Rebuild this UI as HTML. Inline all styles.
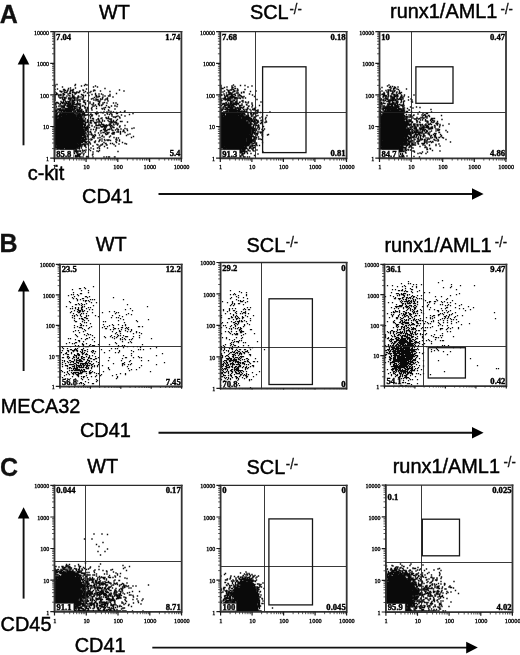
<!DOCTYPE html>
<html lang="en"><head><meta charset="utf-8"><title>Figure</title>
<style>
html,body{margin:0;padding:0;background:#fff}
svg{display:block}
text{fill:#111}
.h{font:19.9px "Liberation Sans",Arial,sans-serif;fill:#000;stroke:#000;stroke-width:.45}
.p{font:bold 25px "Liberation Sans",Arial,sans-serif;stroke:#111;stroke-width:.3}
.s{font:13.1px "Liberation Sans",Arial,sans-serif;stroke:#111;stroke-width:.3}
.q{font:bold 8.6px "Liberation Serif","Times New Roman",serif;fill:#000;stroke:#000;stroke-width:.4}
.k{font:6.3px "Liberation Serif","Times New Roman",serif;fill:#000;stroke:#000;stroke-width:.3}
.y{font-size:6px}
.d{fill:none;stroke:#0a0a0a;stroke-width:1.4;stroke-linecap:square}
.e{fill:none;stroke:#0a0a0a;stroke-width:1.25;stroke-linecap:square}
.g{fill:none;stroke:#222;stroke-width:.9}
.r{fill:none;stroke:#151515;stroke-width:1.3}
.f{fill:none;stroke:#2a2a2a;stroke-width:1.3}
.f2{fill:none;stroke:#333;stroke-width:1.8}
.t{fill:none;stroke:#1a1a1a;stroke-width:1.2}
.m{fill:none;stroke:#2a2a2a;stroke-width:.8}
.b{fill:#fff;stroke:#444;stroke-width:.4}
.a{fill:none;stroke:#111;stroke-width:1.9}
</style></head>
<body>
<svg width="520" height="655" viewBox="0 0 520 655">
<rect width="520" height="655" fill="#fff"/>
<g><path class="d" d="M57 84.5zm18.5 0zm10 0zm-30.5 .5zm32 0zm-12 .5zm9.5 0zm-29.5 .5zm26.5 0zm14 0zm-40.5 .5zm7.5 .5zm31 0zm4 0zm-27 1zm5 0zm-7 .5zm36.5 0zm-47.5 .5zm29 0zm-31.5 .5zm8.5 0zm1 0zm9 0zm-5.5 .5zm2.5 0zm2 0zm10.5 0zm11 0zm25.5 0zm-54 .5zm6.5 0zm.5 0zm11 0zm11.5 0zm-35 .5zm4 0zm3.5 0zm3 0zm2.5 0zm7 0zm13.5 0zm7 0zm23.5 0zm-63.5 .5zm1.5 0zm17.5 0zm6 0zm5.5 0zm19 0zm-55 .5zm6.5 0zm5.5 0zm3 0zm7 0zm-12.5 .5zm1.5 0zm.5 0zm6 0zm1.5 0zm2.5 0zm2 0zm.5 0zm5 0zm6 0zm-33.5 .5zm18.5 0zm1 0zm.5 0zm11 0zm-24 .5zm6 0zm.5 0zm.5 0zm5 0zm20 0zm21 0zm-59 .5zm5.5 0zm5 0zm7 0zm.5 0zm20 0zm3.5 0zm2.5 0zm-46 .5zm1 0zm4.5 0zm3.5 0zm8 0zm9 0zm10.5 0zm3.5 0zm14.5 0zm-55 .5zm4 0zm1 0zm1 0zm2.5 0zm19.5 0zm20 0zm-44.5 .5zm2.5 0zm8 0zm13.5 0zm3 0zm3.5 0zm7.5 0zm-33.5 .5zm4 0zm3 0zm2.5 0zm1.5 0zm4.5 0zm5 0zm12.5 0zm3 0zm6 0zm3.5 0zm1.5 0zm-55 .5zm8 0zm10 0zm.5 0zm4.5 0zm21.5 0zm-40.5 .5zm4 0zm9.5 0zm1 0zm.5 0zm5 0zm2 0zm2.5 0zm13 0zm1.5 0zm5 0zm10 0zm-52 .5zm3.5 0zm1.5 0zm7 0zm1.5 0zm.5 0zm19.5 0zm-39.5 .5zm5 0zm.5 0zm2 0zm3.5 0zm2.5 0zm.5 0zm1 0zm.5 0zm1.5 0zm1.5 0zm3.5 0zm1 0zm5 0zm19.5 0zm5 0zm-52.5 .5zm9.5 0zm4.5 0zm.5 0zm1 0zm3.5 0zm19 0zm-38 .5zm7.5 0zm2.5 0zm3.5 0zm2.5 0zm4 0zm7 0zm9.5 0zm4.5 0zm4.5 0zm2 0zm3.5 0zm-51 .5zm8.5 0zm6.5 0zm.5 0zm6.5 0zm3 0zm3 0zm14 0zm1 0zm3 0zm6.5 0zm-44 .5zm.5 0zm1 0zm5.5 0zm2 0zm2 0zm4 0zm1.5 0zm14 0zm4 0zm7 0zm-50 .5zm19 0zm1 0zm2 0zm3 0zm5 0zm11 0zm-32.5 .5zm6.5 0zm2 0zm.5 0zm1 0zm10.5 0zm3.5 0zm10.5 0zm2 0zm8 0zm-47 .5zm4.5 0zm2.5 0zm1 0zm4.5 0zm4 0zm2.5 0zm4 0zm15 0zm.5 0zm-36 .5zm3 0zm3.5 0zm2 0zm.5 0zm11 0zm6.5 0zm-33.5 .5zm1 0zm4 0zm.5 0zm4 0zm.5 0zm3.5 0zm4 0zm.5 0zm3 0zm7 0zm20 0zm-49.5 .5zm3 0zm5 0zm1 0zm2.5 0zm2 0zm3.5 0zm2 0zm11.5 0zm8 0zm6 0zm3.5 0zm4 0zm6.5 0zm2.5 0zm-61 .5zm3.5 0zm2 0zm2 0zm2.5 0zm1.5 0zm1 0zm1.5 0zm1.5 0zm3 0zm.5 0zm3.5 0zm1.5 0zm11 0zm8.5 0zm-42.5 .5zm13 0zm1.5 0zm2 0zm4 0zm2.5 0zm1.5 0zm13 0zm9.5 0zm-48 .5zm5 0zm8 0zm1 0zm1 0zm4 0zm1.5 0zm1.5 0zm1.5 0zm.5 0zm6.5 0zm6.5 0zm6.5 0zm19 0zm-53.5 .5zm1.5 0zm3.5 0zm.5 0zm1.5 0zm.5 0zm.5 0zm7.5 0zm16 0zm4 0zm2.5 0zm-41 .5zm3 0zm.5 0zm3 0zm3.5 0zm2 0zm4 0zm6 0zm16.5 0zm2 0zm5 0zm8.5 0zm-59 .5zm3 0zm3.5 0zm4.5 0zm.5 0zm.5 0zm1.5 0zm1.5 0zm1 0zm5 0zm3.5 0zm2 0zm10.5 0zm1 0zm17.5 0zm3.5 0zm-56 .5zm2 0zm3.5 0zm3 0zm1.5 0zm1 0zm1.5 0zm1.5 0zm.5 0zm1.5 0zm.5 0zm9 0zm12 0zm20.5 0zm-60.5 .5zm7 0zm6 0zm1.5 0zm3 0zm3 0zm3.5 0zm28 0zm-46.5 .5zm1.5 0zm1 0zm5 0zm2 0zm.5 0zm2.5 0zm4.5 0zm1.5 0zm5 0zm2 0zm4.5 0zm13.5 0zm4 0zm-54.5 .5zm13.5 0zm.5 0zm1 0zm2 0zm.5 0zm2 0zm.5 0zm2 0zm2.5 0zm5.5 0zm19 0zm-49 .5zm5.5 0zm5.5 0zm1 0zm1.5 0zm1 0zm1 0zm2 0zm2.5 0zm.5 0zm5 0zm7 0zm4 0zm5 0zm5.5 0zm-45 .5zm1.5 0zm.5 0zm1 0zm3 0zm2 0zm1 0zm.5 0zm1 0zm.5 0zm5 0zm1 0zm5.5 0zm8.5 0zm14.5 0zm12.5 0zm-56.5 .5zm1 0zm1.5 0zm4 0zm5 0zm1 0zm.5 0zm.5 0zm1 0zm.5 0zm1 0zm3 0zm1.5 0zm.5 0zm2 0zm4.5 0zm18.5 0zm-49.5 .5zm4.5 0zm3 0zm1 0zm1.5 0zm1 0zm2.5 0zm1 0zm1 0zm.5 0zm.5 0zm2 0zm.5 0zm2.5 0zm5.5 0zm10 0zm16.5 0zm-52.5 .5zm1 0zm3 0zm.5 0zm1.5 0zm1.5 0zm.5 0zm1.5 0zm.5 0zm1 0zm2 0zm1.5 0zm2.5 0zm4.5 0zm3 0zm6.5 0zm-32 .5zm.5 0zm5.5 0zm.5 0zm5 0zm1 0zm3.5 0zm.5 0zm4 0zm3 0zm1.5 0zm1 0zm.5 0zm4.5 0zm1 0zm22 0zm16 0zm-69.5 .5zm1 0zm2.5 0zm4.5 0zm.5 0zm2 0zm1 0zm2 0zm1 0zm1 0zm.5 0zm3.5 0zm2.5 0zm2 0zm.5 0zm3.5 0zm27.5 0zm13.5 0zm-63.5 .5zm3.5 0zm3.5 0zm2 0zm3.5 0zm1 0zm.5 0zm2.5 0zm.5 0zm2 0zm2.5 0zm4 0zm10.5 0zm7 0zm3 0zm6.5 0zm7 0zm-65.5 .5zm2.5 0zm4.5 0zm.5 0zm2 0zm2.5 0zm.5 0zm.5 0zm.5 0zm2 0zm.5 0zm3 0zm.5 0zm.5 0zm1.5 0zm5 0zm1 0zm18.5 0zm15.5 0zm-59 .5zm4.5 0zm2 0zm1 0zm.5 0zm.5 0zm4 0zm.5 0zm.5 0zm.5 0zm1 0zm.5 0zm.5 0zm.5 0zm2 0zm1 0zm.5 0zm2.5 0zm4 0zm12.5 0zm6.5 0zm4 0zm3.5 0zm-54.5 .5zm4.5 0zm1.5 0zm1.5 0zm.5 0zm1 0zm.5 0zm.5 0zm1 0zm.5 0zm.5 0zm.5 0zm1.5 0zm2.5 0zm1 0zm.5 0zm5 0zm.5 0zm.5 0zm2.5 0zm.5 0zm1.5 0zm11 0zm2.5 0zm18.5 0zm1 0zm15.5 0zm-76.5 .5zm3 0zm2.5 0zm.5 0zm.5 0zm2.5 0zm1.5 0zm1 0zm.5 0zm.5 0zm1 0zm1 0zm.5 0zm1.5 0zm.5 0zm2.5 0zm7.5 0zm7.5 0zm16.5 0zm4 0zm-56.5 .5zm2 0zm3 0zm.5 0zm2.5 0zm.5 0zm1 0zm1 0zm2.5 0zm1 0zm.5 0zm1 0zm1.5 0zm1.5 0zm1 0zm1.5 0zm2 0zm1 0zm1.5 0zm.5 0zm3 0zm4 0zm2.5 0zm6 0zm13 0zm2.5 0zm17.5 0zm-74.5 .5zm6.5 0zm1 0zm.5 0zm.5 0zm2 0zm4 0zm1.5 0zm.5 0zm1 0zm.5 0zm1.5 0zm1.5 0zm1.5 0zm.5 0zm1.5 0zm.5 0zm2.5 0zm1.5 0zm1 0zm1 0zm1 0zm5.5 0zm12.5 0zm16.5 0zm-66.5 .5zm1 0zm1 0zm2 0zm.5 0zm1 0zm3 0zm1 0zm.5 0zm.5 0zm.5 0zm.5 0zm1 0zm.5 0zm1.5 0zm.5 0zm.5 0zm.5 0zm.5 0zm.5 0zm.5 0zm1.5 0zm.5 0zm1 0zm9.5 0zm4 0zm2.5 0zm-36.5 .5zm.5 0zm3 0zm1 0zm1 0zm3 0zm.5 0zm1 0zm.5 0zm1.5 0zm1 0zm.5 0zm.5 0zm.5 0zm.5 0zm.5 0zm1 0zm.5 0zm1 0zm.5 0zm.5 0zm3.5 0zm.5 0zm1 0zm1 0zm1 0zm11 0zm7 0zm13 0zm6 0zm7 0zm-70 .5zm4 0zm2 0zm1.5 0zm1 0zm1 0zm1.5 0zm.5 0zm1 0zm.5 0zm.5 0zm1 0zm.5 0zm1.5 0zm.5 0zm.5 0zm.5 0zm.5 0zm.5 0zm.5 0zm1 0zm1.5 0zm.5 0zm1 0zm1 0zm.5 0zm1.5 0zm.5 0zm2 0zm32.5 0zm-61.5 .5zm.5 0zm.5 0zm1 0zm.5 0zm1.5 0zm1.5 0zm.5 0zm2.5 0zm1.5 0zm1 0zm1 0zm.5 0zm1 0zm2 0zm.5 0zm1.5 0zm.5 0zm1 0zm1 0zm.5 0zm1.5 0zm.5 0zm1 0zm.5 0zm2 0zm.5 0zm9 0zm18 0zm5 0zm1.5 0zm4.5 0zm-64.5 .5zm2 0zm2 0zm1 0zm2.5 0zm1 0zm.5 0zm1.5 0zm1 0zm.5 0zm.5 0zm.5 0zm1.5 0zm.5 0zm2 0zm.5 0zm1 0zm.5 0zm.5 0zm.5 0zm.5 0zm1 0zm.5 0zm2 0zm2 0zm1 0zm2 0zm6.5 0zm15.5 0zm9.5 0zm-60.5 .5zm.5 0zm1.5 0zm2 0zm.5 0zm.5 0zm.5 0zm.5 0zm.5 0zm.5 0zm.5 0zm1 0zm.5 0zm1 0zm.5 0zm1 0zm.5 0zm.5 0zm.5 0zm.5 0zm1 0zm.5 0zm.5 0zm2 0zm1.5 0zm1 0zm.5 0zm.5 0zm.5 0zm1 0zm1 0zm2 0zm.5 0zm.5 0zm.5 0zm8.5 0zm11.5 0zm4.5 0zm13.5 0zm-64.5 .5zm3.5 0zm.5 0zm.5 0zm.5 0zm.5 0zm.5 0zm1.5 0zm1.5 0zm.5 0zm.5 0zm.5 0zm1 0zm.5 0zm.5 0zm.5 0zm.5 0zm.5 0zm.5 0zm.5 0zm.5 0zm.5 0zm.5 0zm.5 0zm1.5 0zm.5 0zm.5 0zm.5 0zm.5 0zm.5 0zm.5 0zm1 0zm2 0zm.5 0zm1 0zm4 0zm7 0zm.5 0zm5.5 0zm2.5 0zm5.5 0zm1.5 0zm.5 0zm-52.5 .5zm1 0zm1.5 0zm1.5 0zm.5 0zm.5 0zm.5 0zm1 0zm.5 0zm.5 0zm.5 0zm.5 0zm1 0zm1 0zm.5 0zm.5 0zm1 0zm.5 0zm.5 0zm1 0zm.5 0zm.5 0zm.5 0zm.5 0zm.5 0zm.5 0zm.5 0zm.5 0zm.5 0zm2 0zm2.5 0zm.5 0zm1.5 0zm.5 0zm1 0zm10.5 0zm4.5 0zm.5 0zm11 0zm1 0zm1 0zm-56.5 .5zm1 0zm2 0zm2.5 0zm.5 0zm.5 0zm.5 0zm1 0zm.5 0zm.5 0zm.5 0zm.5 0zm1 0zm.5 0zm.5 0zm.5 0zm.5 0zm.5 0zm.5 0zm.5 0zm.5 0zm.5 0zm.5 0zm.5 0zm.5 0zm.5 0zm1 0zm.5 0zm.5 0zm.5 0zm.5 0zm.5 0zm.5 0zm1 0zm1.5 0zm.5 0zm.5 0zm1 0zm1.5 0zm28.5 0zm6.5 0zm-62.5 .5zm1.5 0zm1 0zm2 0zm.5 0zm1 0zm.5 0zm.5 0zm.5 0zm.5 0zm.5 0zm.5 0zm.5 0zm1 0zm.5 0zm.5 0zm.5 0zm.5 0zm1.5 0zm1 0zm.5 0zm1 0zm2 0zm1 0zm.5 0zm.5 0zm.5 0zm.5 0zm.5 0zm3 0zm.5 0zm4.5 0zm2.5 0zm9 0zm2 0zm.5 0zm3.5 0zm-47.5 .5zm1 0zm.5 0zm3 0zm2 0zm.5 0zm1 0zm1 0zm.5 0zm.5 0zm.5 0zm1 0zm1 0zm.5 0zm.5 0zm.5 0zm.5 0zm.5 0zm.5 0zm.5 0zm.5 0zm.5 0zm1 0zm.5 0zm.5 0zm.5 0zm1 0zm1.5 0zm1.5 0zm1.5 0zm1.5 0zm1 0zm1 0zm1.5 0zm5.5 0zm1.5 0zm16 0zm5.5 0zm3 0zm-58.5 .5zm.5 0zm.5 0zm.5 0zm.5 0zm1 0zm1.5 0zm.5 0zm1 0zm1.5 0zm1 0zm.5 0zm.5 0zm.5 0zm.5 0zm.5 0zm.5 0zm.5 0zm1 0zm.5 0zm1 0zm.5 0zm.5 0zm.5 0zm.5 0zm.5 0zm1.5 0zm1.5 0zm1.5 0zm1 0zm3 0zm7.5 0zm2.5 0zm6 0zm3 0zm2 0zm6.5 0zm.5 0zm-56.5 .5zm1 0zm3.5 0zm1 0zm1.5 0zm.5 0zm.5 0zm1 0zm.5 0zm.5 0zm1 0zm.5 0zm1 0zm.5 0zm.5 0zm.5 0zm.5 0zm1 0zm.5 0zm.5 0zm.5 0zm.5 0zm.5 0zm1.5 0zm1.5 0zm.5 0zm1.5 0zm4.5 0zm.5 0zm.5 0zm.5 0zm3.5 0zm1 0zm20.5 0zm11.5 0zm1.5 0zm-67 .5zm.5 0zm1.5 0zm2.5 0zm.5 0zm.5 0zm1 0zm.5 0zm.5 0zm.5 0zm.5 0zm.5 0zm.5 0zm.5 0zm.5 0zm1 0zm.5 0zm.5 0zm.5 0zm.5 0zm.5 0zm.5 0zm.5 0zm1 0zm.5 0zm.5 0zm.5 0zm.5 0zm.5 0zm.5 0zm.5 0zm1 0zm.5 0zm.5 0zm.5 0zm.5 0zm.5 0zm.5 0zm2 0zm1 0zm1.5 0zm2 0zm2.5 0zm9.5 0zm1.5 0zm.5 0zm1 0zm10 0zm3 0zm1 0zm1.5 0zm12 0zm-72.5 .5zm1 0zm.5 0zm.5 0zm.5 0zm.5 0zm.5 0zm1 0zm2.5 0zm.5 0zm.5 0zm.5 0zm.5 0zm.5 0zm.5 0zm.5 0zm.5 0zm.5 0zm.5 0zm.5 0zm.5 0zm.5 0zm.5 0zm.5 0zm.5 0zm.5 0zm.5 0zm.5 0zm1 0zm.5 0zm1 0zm.5 0zm.5 0zm1 0zm.5 0zm.5 0zm1 0zm2 0zm1 0zm1.5 0zm.5 0zm2.5 0zm1.5 0zm3.5 0zm4 0zm1.5 0zm5.5 0zm10 0zm.5 0zm3 0zm1.5 0zm-60.5 .5zm.5 0zm3.5 0zm.5 0zm1 0zm.5 0zm.5 0zm1 0zm.5 0zm.5 0zm.5 0zm.5 0zm.5 0zm.5 0zm.5 0zm.5 0zm.5 0zm.5 0zm.5 0zm.5 0zm.5 0zm.5 0zm.5 0zm.5 0zm.5 0zm.5 0zm1 0zm.5 0zm.5 0zm.5 0zm.5 0zm.5 0zm1 0zm1 0zm.5 0zm.5 0zm.5 0zm.5 0zm1 0zm2 0zm2.5 0zm4.5 0zm1.5 0zm3.5 0zm16 0zm5.5 0zm-61.5 .5zm.5 0zm.5 0zm1.5 0zm2 0zm2 0zm1 0zm.5 0zm.5 0zm.5 0zm.5 0zm1 0zm.5 0zm.5 0zm.5 0zm.5 0zm.5 0zm.5 0zm.5 0zm.5 0zm.5 0zm.5 0zm.5 0zm1 0zm.5 0zm.5 0zm.5 0zm.5 0zm.5 0zm.5 0zm1 0zm.5 0zm1 0zm.5 0zm1.5 0zm.5 0zm.5 0zm1.5 0zm1 0zm35 0zm-63 .5zm2 0zm1 0zm.5 0zm1 0zm.5 0zm.5 0zm.5 0zm.5 0zm.5 0zm.5 0zm.5 0zm.5 0zm.5 0zm.5 0zm.5 0zm.5 0zm.5 0zm.5 0zm.5 0zm.5 0zm.5 0zm.5 0zm.5 0zm.5 0zm.5 0zm.5 0zm.5 0zm.5 0zm1 0zm1 0zm.5 0zm1 0zm1 0zm.5 0zm1 0zm.5 0zm3 0zm.5 0zm1.5 0zm.5 0zm1.5 0zm11 0zm3 0zm2.5 0zm8 0zm1 0zm3 0zm2.5 0zm2 0zm-63 .5zm1.5 0zm.5 0zm1 0zm1.5 0zm.5 0zm.5 0zm.5 0zm.5 0zm.5 0zm1 0zm.5 0zm.5 0zm1 0zm.5 0zm.5 0zm.5 0zm.5 0zm.5 0zm.5 0zm.5 0zm.5 0zm.5 0zm.5 0zm.5 0zm.5 0zm.5 0zm.5 0zm.5 0zm1 0zm1 0zm.5 0zm.5 0zm.5 0zm.5 0zm.5 0zm.5 0zm1 0zm.5 0zm1 0zm1 0zm.5 0zm2.5 0zm.5 0zm1 0zm17 0zm1 0zm-48.5 .5zm.5 0zm.5 0zm1 0zm.5 0zm.5 0zm1 0zm.5 0zm.5 0zm1.5 0zm.5 0zm.5 0zm.5 0zm.5 0zm1 0zm.5 0zm.5 0zm.5 0zm.5 0zm.5 0zm.5 0zm.5 0zm.5 0zm.5 0zm.5 0zm.5 0zm.5 0zm.5 0zm.5 0zm.5 0zm.5 0zm.5 0zm1 0zm.5 0zm.5 0zm.5 0zm.5 0zm.5 0zm.5 0zm1 0zm.5 0zm.5 0zm1.5 0zm.5 0zm.5 0zm.5 0zm3.5 0zm3 0zm1 0zm10.5 0zm4 0zm2.5 0zm2.5 0zm5 0zm3.5 0zm-62.5 .5zm1 0zm1 0zm1 0zm1 0zm1 0zm.5 0zm.5 0zm.5 0zm.5 0zm.5 0zm.5 0zm.5 0zm.5 0zm.5 0zm.5 0zm.5 0zm1 0zm.5 0zm.5 0zm.5 0zm.5 0zm.5 0zm.5 0zm.5 0zm.5 0zm.5 0zm.5 0zm.5 0zm1 0zm.5 0zm.5 0zm.5 0zm.5 0zm1 0zm1 0zm1 0zm.5 0zm1 0zm.5 0zm1 0zm.5 0zm.5 0zm.5 0zm3 0zm2.5 0zm4 0zm4 0zm1 0zm.5 0zm1 0zm1.5 0zm.5 0zm5 0zm1 0zm1 0zm2.5 0zm1.5 0zm13.5 0zm-70 .5zm2.5 0zm.5 0zm1 0zm.5 0zm.5 0zm.5 0zm.5 0zm.5 0zm1 0zm.5 0zm.5 0zm.5 0zm.5 0zm.5 0zm.5 0zm.5 0zm.5 0zm.5 0zm.5 0zm.5 0zm.5 0zm.5 0zm.5 0zm.5 0zm.5 0zm.5 0zm.5 0zm.5 0zm.5 0zm1 0zm.5 0zm.5 0zm.5 0zm1.5 0zm.5 0zm.5 0zm1 0zm1 0zm.5 0zm1.5 0zm3 0zm7.5 0zm11.5 0zm1 0zm7.5 0zm8 0zm-65 .5zm1.5 0zm1 0zm1 0zm.5 0zm1 0zm1 0zm.5 0zm.5 0zm.5 0zm.5 0zm.5 0zm1 0zm.5 0zm.5 0zm.5 0zm.5 0zm.5 0zm.5 0zm.5 0zm.5 0zm.5 0zm.5 0zm.5 0zm.5 0zm.5 0zm.5 0zm.5 0zm.5 0zm.5 0zm.5 0zm.5 0zm.5 0zm1.5 0zm.5 0zm.5 0zm.5 0zm.5 0zm.5 0zm.5 0zm.5 0zm.5 0zm1 0zm1 0zm5.5 0zm1 0zm12.5 0zm1 0zm1 0zm2.5 0zm1 0zm13.5 0zm-65 .5zm1.5 0zm1 0zm1 0zm.5 0zm.5 0zm.5 0zm.5 0zm1 0zm.5 0zm.5 0zm.5 0zm.5 0zm.5 0zm.5 0zm.5 0zm.5 0zm.5 0zm.5 0zm.5 0zm.5 0zm.5 0zm.5 0zm.5 0zm.5 0zm.5 0zm.5 0zm.5 0zm.5 0zm.5 0zm.5 0zm.5 0zm.5 0zm.5 0zm.5 0zm1 0zm.5 0zm.5 0zm.5 0zm.5 0zm2 0zm1 0zm2 0zm1.5 0zm2.5 0zm8 0zm7 0zm1 0zm8 0zm2.5 0zm6.5 0zm-64.5 .5zm1.5 0zm.5 0zm1.5 0zm.5 0zm.5 0zm.5 0zm.5 0zm.5 0zm.5 0zm.5 0zm.5 0zm.5 0zm.5 0zm.5 0zm.5 0zm.5 0zm.5 0zm.5 0zm.5 0zm.5 0zm.5 0zm.5 0zm.5 0zm.5 0zm.5 0zm.5 0zm.5 0zm.5 0zm.5 0zm.5 0zm.5 0zm.5 0zm.5 0zm.5 0zm1.5 0zm.5 0zm.5 0zm.5 0zm.5 0zm.5 0zm.5 0zm3 0zm.5 0zm1 0zm1.5 0zm.5 0zm4.5 0zm7 0zm8 0zm1.5 0zm7.5 0zm.5 0zm-59 .5zm.5 0zm1 0zm.5 0zm2.5 0zm.5 0zm.5 0zm.5 0zm.5 0zm.5 0zm.5 0zm.5 0zm.5 0zm.5 0zm.5 0zm.5 0zm.5 0zm.5 0zm.5 0zm.5 0zm.5 0zm.5 0zm.5 0zm.5 0zm.5 0zm.5 0zm.5 0zm.5 0zm.5 0zm.5 0zm.5 0zm.5 0zm.5 0zm.5 0zm.5 0zm1 0zm.5 0zm.5 0zm.5 0zm.5 0zm1 0zm.5 0zm.5 0zm.5 0zm.5 0zm.5 0zm.5 0zm1 0zm3 0zm.5 0zm.5 0zm1 0zm9.5 0zm2 0zm12.5 0zm22.5 0zm-79 .5zm1 0zm1 0zm1.5 0zm.5 0zm1 0zm.5 0zm.5 0zm.5 0zm.5 0zm.5 0zm.5 0zm.5 0zm.5 0zm.5 0zm.5 0zm.5 0zm.5 0zm.5 0zm.5 0zm1 0zm.5 0zm.5 0zm.5 0zm.5 0zm.5 0zm.5 0zm.5 0zm.5 0zm.5 0zm.5 0zm.5 0zm.5 0zm.5 0zm.5 0zm.5 0zm.5 0zm.5 0zm.5 0zm1 0zm.5 0zm.5 0zm.5 0zm1 0zm1 0zm.5 0zm3 0zm.5 0zm1.5 0zm9.5 0zm9 0zm6 0zm5.5 0zm8 0zm7 0zm-77 .5zm1 0zm.5 0zm.5 0zm.5 0zm.5 0zm1.5 0zm1 0zm.5 0zm.5 0zm.5 0zm.5 0zm.5 0zm.5 0zm.5 0zm.5 0zm.5 0zm.5 0zm.5 0zm.5 0zm.5 0zm.5 0zm.5 0zm.5 0zm.5 0zm.5 0zm.5 0zm.5 0zm.5 0zm.5 0zm.5 0zm.5 0zm.5 0zm.5 0zm.5 0zm.5 0zm.5 0zm.5 0zm.5 0zm.5 0zm.5 0zm.5 0zm.5 0zm.5 0zm.5 0zm.5 0zm1.5 0zm2 0zm2 0zm2.5 0zm16.5 0zm6 0zm7 0zm4 0zm6 0zm-72 .5zm1 0zm1 0zm.5 0zm1 0zm.5 0zm.5 0zm.5 0zm.5 0zm.5 0zm.5 0zm.5 0zm.5 0zm.5 0zm.5 0zm.5 0zm.5 0zm.5 0zm.5 0zm.5 0zm.5 0zm.5 0zm.5 0zm.5 0zm.5 0zm.5 0zm.5 0zm.5 0zm.5 0zm1 0zm.5 0zm.5 0zm.5 0zm.5 0zm.5 0zm.5 0zm.5 0zm.5 0zm.5 0zm.5 0zm.5 0zm1.5 0zm.5 0zm.5 0zm1.5 0zm.5 0zm1.5 0zm.5 0zm2.5 0zm5 0zm2.5 0zm2.5 0zm7.5 0zm2 0zm2.5 0zm.5 0zm1 0zm9 0zm-63.5 .5zm1 0zm1 0zm.5 0zm.5 0zm.5 0zm.5 0zm1 0zm.5 0zm1 0zm.5 0zm.5 0zm.5 0zm.5 0zm.5 0zm.5 0zm.5 0zm.5 0zm.5 0zm.5 0zm.5 0zm.5 0zm.5 0zm.5 0zm.5 0zm.5 0zm.5 0zm.5 0zm.5 0zm.5 0zm.5 0zm.5 0zm.5 0zm.5 0zm.5 0zm1 0zm.5 0zm.5 0zm.5 0zm.5 0zm.5 0zm1 0zm1.5 0zm1 0zm1 0zm1 0zm.5 0zm2 0zm19 0zm7.5 0zm3.5 0zm8 0zm-68.5 .5zm2 0zm.5 0zm.5 0zm.5 0zm.5 0zm.5 0zm.5 0zm.5 0zm.5 0zm.5 0zm.5 0zm.5 0zm.5 0zm.5 0zm.5 0zm.5 0zm.5 0zm.5 0zm.5 0zm.5 0zm.5 0zm.5 0zm.5 0zm.5 0zm.5 0zm.5 0zm.5 0zm.5 0zm.5 0zm.5 0zm.5 0zm.5 0zm.5 0zm.5 0zm.5 0zm.5 0zm.5 0zm.5 0zm.5 0zm.5 0zm.5 0zm.5 0zm.5 0zm.5 0zm1 0zm.5 0zm1 0zm.5 0zm1.5 0zm.5 0zm1.5 0zm.5 0zm1.5 0zm9 0zm5.5 0zm5.5 0zm6 0zm5 0zm5.5 0zm4 0zm-72.5 .5zm.5 0zm.5 0zm1.5 0zm1 0zm1.5 0zm.5 0zm.5 0zm.5 0zm.5 0zm.5 0zm.5 0zm.5 0zm.5 0zm.5 0zm.5 0zm.5 0zm.5 0zm.5 0zm.5 0zm.5 0zm.5 0zm.5 0zm.5 0zm.5 0zm.5 0zm.5 0zm.5 0zm.5 0zm.5 0zm.5 0zm.5 0zm.5 0zm.5 0zm.5 0zm.5 0zm.5 0zm.5 0zm1 0zm.5 0zm.5 0zm.5 0zm.5 0zm3 0zm18.5 0zm5.5 0zm17.5 0zm.5 0zm-69 .5zm.5 0zm1.5 0zm.5 0zm.5 0zm.5 0zm.5 0zm1 0zm.5 0zm.5 0zm.5 0zm.5 0zm.5 0zm.5 0zm.5 0zm.5 0zm.5 0zm.5 0zm.5 0zm.5 0zm.5 0zm.5 0zm1 0zm.5 0zm.5 0zm.5 0zm.5 0zm.5 0zm.5 0zm.5 0zm.5 0zm.5 0zm.5 0zm.5 0zm.5 0zm.5 0zm.5 0zm.5 0zm.5 0zm.5 0zm.5 0zm.5 0zm.5 0zm.5 0zm.5 0zm1 0zm1.5 0zm.5 0zm1 0zm1 0zm3.5 0zm3 0zm14.5 0zm15.5 0zm2.5 0zm-68 .5zm.5 0zm.5 0zm1 0zm.5 0zm.5 0zm1 0zm1 0zm.5 0zm.5 0zm1 0zm.5 0zm.5 0zm.5 0zm.5 0zm.5 0zm.5 0zm.5 0zm.5 0zm.5 0zm.5 0zm.5 0zm.5 0zm.5 0zm.5 0zm.5 0zm.5 0zm.5 0zm1 0zm.5 0zm.5 0zm.5 0zm.5 0zm.5 0zm1 0zm1 0zm.5 0zm.5 0zm.5 0zm1 0zm.5 0zm.5 0zm.5 0zm1 0zm1 0zm.5 0zm2.5 0zm3 0zm2 0zm.5 0zm4.5 0zm22 0zm1.5 0zm-63.5 .5zm.5 0zm1 0zm1 0zm.5 0zm.5 0zm1 0zm.5 0zm.5 0zm1 0zm.5 0zm.5 0zm.5 0zm1 0zm.5 0zm.5 0zm.5 0zm.5 0zm.5 0zm.5 0zm.5 0zm.5 0zm.5 0zm.5 0zm.5 0zm.5 0zm.5 0zm.5 0zm.5 0zm.5 0zm1 0zm.5 0zm.5 0zm.5 0zm.5 0zm.5 0zm.5 0zm1 0zm.5 0zm.5 0zm1 0zm.5 0zm.5 0zm1 0zm.5 0zm1 0zm.5 0zm8 0zm12 0zm1 0zm3 0zm2 0zm4 0zm1.5 0zm6 0zm4.5 0zm-70 .5zm.5 0zm1.5 0zm.5 0zm.5 0zm.5 0zm.5 0zm.5 0zm.5 0zm.5 0zm1 0zm.5 0zm.5 0zm.5 0zm.5 0zm.5 0zm.5 0zm.5 0zm.5 0zm.5 0zm.5 0zm.5 0zm.5 0zm.5 0zm.5 0zm.5 0zm.5 0zm.5 0zm.5 0zm.5 0zm.5 0zm.5 0zm.5 0zm.5 0zm.5 0zm.5 0zm.5 0zm.5 0zm.5 0zm.5 0zm.5 0zm.5 0zm.5 0zm.5 0zm.5 0zm.5 0zm1 0zm3.5 0zm1.5 0zm1 0zm12.5 0zm2.5 0zm6.5 0zm6 0zm-58.5 .5zm.5 0zm1 0zm1 0zm.5 0zm.5 0zm.5 0zm.5 0zm.5 0zm.5 0zm.5 0zm.5 0zm1 0zm.5 0zm.5 0zm.5 0zm.5 0zm.5 0zm.5 0zm.5 0zm.5 0zm.5 0zm.5 0zm.5 0zm.5 0zm.5 0zm.5 0zm.5 0zm.5 0zm.5 0zm.5 0zm.5 0zm.5 0zm.5 0zm.5 0zm.5 0zm.5 0zm.5 0zm.5 0zm.5 0zm.5 0zm.5 0zm1.5 0zm.5 0zm1 0zm1 0zm1 0zm.5 0zm.5 0zm5.5 0zm17 0zm2.5 0zm4 0zm1 0zm-58 .5zm.5 0zm.5 0zm2 0zm.5 0zm.5 0zm.5 0zm.5 0zm.5 0zm.5 0zm.5 0zm.5 0zm.5 0zm.5 0zm.5 0zm.5 0zm.5 0zm.5 0zm.5 0zm.5 0zm.5 0zm.5 0zm.5 0zm.5 0zm.5 0zm.5 0zm.5 0zm.5 0zm.5 0zm.5 0zm.5 0zm.5 0zm.5 0zm.5 0zm.5 0zm.5 0zm1 0zm.5 0zm.5 0zm.5 0zm.5 0zm.5 0zm1 0zm.5 0zm1.5 0zm1.5 0zm2.5 0zm7 0zm16 0zm5 0zm1.5 0zm6.5 0zm9.5 0zm-75 .5zm.5 0zm.5 0zm.5 0zm1 0zm1 0zm.5 0zm.5 0zm.5 0zm.5 0zm.5 0zm.5 0zm.5 0zm.5 0zm.5 0zm.5 0zm.5 0zm.5 0zm.5 0zm.5 0zm.5 0zm.5 0zm.5 0zm.5 0zm.5 0zm.5 0zm.5 0zm.5 0zm.5 0zm.5 0zm.5 0zm.5 0zm.5 0zm.5 0zm.5 0zm.5 0zm.5 0zm.5 0zm.5 0zm.5 0zm.5 0zm1 0zm.5 0zm.5 0zm1 0zm1 0zm.5 0zm1 0zm2 0zm.5 0zm1 0zm2 0zm2 0zm2 0zm1 0zm3 0zm11 0zm.5 0zm21.5 0zm-73 .5zm2 0zm1.5 0zm.5 0zm.5 0zm.5 0zm.5 0zm.5 0zm.5 0zm.5 0zm.5 0zm.5 0zm.5 0zm.5 0zm.5 0zm.5 0zm.5 0zm.5 0zm.5 0zm.5 0zm.5 0zm.5 0zm.5 0zm.5 0zm.5 0zm.5 0zm.5 0zm.5 0zm.5 0zm.5 0zm.5 0zm.5 0zm.5 0zm.5 0zm.5 0zm.5 0zm.5 0zm.5 0zm.5 0zm.5 0zm1 0zm.5 0zm.5 0zm1.5 0zm.5 0zm1.5 0zm2.5 0zm7 0zm7.5 0zm-44.5 .5zm.5 0zm2 0zm.5 0zm.5 0zm.5 0zm.5 0zm.5 0zm1 0zm.5 0zm.5 0zm.5 0zm.5 0zm.5 0zm.5 0zm.5 0zm.5 0zm.5 0zm.5 0zm.5 0zm.5 0zm.5 0zm.5 0zm.5 0zm.5 0zm.5 0zm.5 0zm.5 0zm.5 0zm.5 0zm.5 0zm.5 0zm.5 0zm.5 0zm.5 0zm.5 0zm.5 0zm.5 0zm1 0zm.5 0zm1 0zm.5 0zm.5 0zm.5 0zm.5 0zm1 0zm.5 0zm1.5 0zm.5 0zm10 0zm2 0zm7 0zm24 0zm-71.5 .5zm1.5 0zm2 0zm.5 0zm.5 0zm.5 0zm.5 0zm.5 0zm.5 0zm.5 0zm.5 0zm.5 0zm.5 0zm.5 0zm.5 0zm.5 0zm.5 0zm.5 0zm.5 0zm.5 0zm.5 0zm.5 0zm.5 0zm.5 0zm.5 0zm.5 0zm.5 0zm.5 0zm.5 0zm.5 0zm.5 0zm.5 0zm.5 0zm.5 0zm.5 0zm.5 0zm.5 0zm.5 0zm.5 0zm1.5 0zm1.5 0zm1 0zm.5 0zm.5 0zm3 0zm.5 0zm.5 0zm2 0zm23 0zm-55.5 .5zm.5 0zm.5 0zm1.5 0zm1 0zm.5 0zm.5 0zm.5 0zm1 0zm.5 0zm.5 0zm.5 0zm.5 0zm1 0zm.5 0zm.5 0zm.5 0zm.5 0zm.5 0zm.5 0zm.5 0zm.5 0zm.5 0zm.5 0zm.5 0zm.5 0zm1 0zm.5 0zm.5 0zm.5 0zm.5 0zm1 0zm.5 0zm1 0zm.5 0zm.5 0zm.5 0zm.5 0zm.5 0zm1 0zm.5 0zm1 0zm.5 0zm.5 0zm2.5 0zm.5 0zm8.5 0zm1.5 0zm7.5 0zm31.5 0zm-78.5 .5zm2 0zm.5 0zm.5 0zm1.5 0zm.5 0zm.5 0zm.5 0zm.5 0zm.5 0zm.5 0zm.5 0zm.5 0zm.5 0zm.5 0zm.5 0zm.5 0zm.5 0zm.5 0zm.5 0zm.5 0zm.5 0zm.5 0zm.5 0zm.5 0zm.5 0zm.5 0zm.5 0zm.5 0zm.5 0zm.5 0zm.5 0zm.5 0zm.5 0zm.5 0zm.5 0zm.5 0zm.5 0zm.5 0zm.5 0zm.5 0zm.5 0zm1 0zm1 0zm1 0zm.5 0zm4.5 0zm2 0zm16 0zm5.5 0zm-54.5 .5zm1 0zm.5 0zm1.5 0zm.5 0zm1 0zm.5 0zm1 0zm.5 0zm.5 0zm1 0zm.5 0zm.5 0zm.5 0zm.5 0zm.5 0zm.5 0zm.5 0zm.5 0zm.5 0zm.5 0zm.5 0zm.5 0zm.5 0zm.5 0zm.5 0zm.5 0zm.5 0zm.5 0zm.5 0zm.5 0zm.5 0zm.5 0zm.5 0zm.5 0zm.5 0zm.5 0zm.5 0zm1.5 0zm.5 0zm1 0zm.5 0zm.5 0zm.5 0zm.5 0zm.5 0zm.5 0zm.5 0zm1 0zm1 0zm.5 0zm7 0zm7.5 0zm14 0zm17.5 0zm-76.5 .5zm2 0zm.5 0zm1 0zm1 0zm.5 0zm.5 0zm.5 0zm.5 0zm.5 0zm.5 0zm.5 0zm.5 0zm.5 0zm.5 0zm.5 0zm.5 0zm.5 0zm.5 0zm.5 0zm.5 0zm.5 0zm.5 0zm.5 0zm.5 0zm.5 0zm.5 0zm.5 0zm.5 0zm.5 0zm.5 0zm.5 0zm.5 0zm.5 0zm.5 0zm.5 0zm.5 0zm.5 0zm.5 0zm.5 0zm.5 0zm.5 0zm.5 0zm.5 0zm1 0zm.5 0zm.5 0zm1.5 0zm11.5 0zm4 0zm18.5 0zm2 0zm-63.5 .5zm2.5 0zm.5 0zm1 0zm.5 0zm.5 0zm.5 0zm.5 0zm.5 0zm.5 0zm.5 0zm.5 0zm.5 0zm.5 0zm.5 0zm.5 0zm.5 0zm.5 0zm.5 0zm.5 0zm.5 0zm.5 0zm.5 0zm.5 0zm.5 0zm.5 0zm1 0zm.5 0zm.5 0zm.5 0zm.5 0zm.5 0zm.5 0zm.5 0zm.5 0zm.5 0zm1 0zm1 0zm1 0zm2.5 0zm.5 0zm1.5 0zm.5 0zm-28.5 .5zm.5 0zm1 0zm1 0zm1.5 0zm.5 0zm.5 0zm.5 0zm.5 0zm.5 0zm.5 0zm.5 0zm.5 0zm.5 0zm.5 0zm.5 0zm.5 0zm.5 0zm.5 0zm.5 0zm.5 0zm.5 0zm.5 0zm.5 0zm.5 0zm.5 0zm.5 0zm.5 0zm.5 0zm.5 0zm.5 0zm.5 0zm.5 0zm1 0zm.5 0zm.5 0zm.5 0zm.5 0zm.5 0zm1 0zm1.5 0zm.5 0zm.5 0zm.5 0zm.5 0zm1.5 0zm.5 0zm2.5 0zm1.5 0zm4 0zm11 0zm-47 .5zm.5 0zm1.5 0zm1 0zm1.5 0zm.5 0zm.5 0zm.5 0zm.5 0zm.5 0zm.5 0zm.5 0zm.5 0zm.5 0zm.5 0zm1 0zm.5 0zm1 0zm.5 0zm.5 0zm.5 0zm.5 0zm.5 0zm.5 0zm.5 0zm.5 0zm.5 0zm.5 0zm.5 0zm.5 0zm.5 0zm.5 0zm.5 0zm.5 0zm.5 0zm.5 0zm.5 0zm2 0zm.5 0zm.5 0zm1 0zm.5 0zm1.5 0zm1.5 0zm1 0zm1 0zm3 0zm3 0zm8 0zm4.5 0zm11.5 0zm-61 .5zm2 0zm.5 0zm1 0zm.5 0zm.5 0zm.5 0zm1 0zm.5 0zm.5 0zm.5 0zm.5 0zm.5 0zm.5 0zm.5 0zm.5 0zm.5 0zm.5 0zm.5 0zm.5 0zm.5 0zm.5 0zm.5 0zm.5 0zm.5 0zm.5 0zm.5 0zm.5 0zm.5 0zm1 0zm.5 0zm.5 0zm.5 0zm.5 0zm.5 0zm.5 0zm.5 0zm.5 0zm.5 0zm1.5 0zm1 0zm.5 0zm.5 0zm3.5 0zm7 0zm9 0zm7 0zm1.5 0zm.5 0zm8 0zm2.5 0zm-63.5 .5zm.5 0zm.5 0zm.5 0zm1 0zm.5 0zm.5 0zm.5 0zm.5 0zm.5 0zm.5 0zm.5 0zm1 0zm.5 0zm.5 0zm.5 0zm.5 0zm.5 0zm.5 0zm.5 0zm.5 0zm.5 0zm.5 0zm.5 0zm.5 0zm.5 0zm.5 0zm.5 0zm.5 0zm.5 0zm.5 0zm.5 0zm.5 0zm.5 0zm.5 0zm.5 0zm.5 0zm.5 0zm.5 0zm.5 0zm.5 0zm.5 0zm.5 0zm.5 0zm.5 0zm.5 0zm.5 0zm1 0zm2 0zm1 0zm.5 0zm.5 0zm14.5 0zm5.5 0zm3 0zm2.5 0zm-55.5 .5zm1 0zm.5 0zm1 0zm.5 0zm1 0zm.5 0zm.5 0zm1 0zm.5 0zm1 0zm.5 0zm.5 0zm.5 0zm.5 0zm.5 0zm.5 0zm.5 0zm.5 0zm.5 0zm.5 0zm1 0zm.5 0zm.5 0zm.5 0zm.5 0zm.5 0zm.5 0zm.5 0zm.5 0zm.5 0zm.5 0zm.5 0zm.5 0zm.5 0zm.5 0zm.5 0zm.5 0zm1 0zm.5 0zm1 0zm1.5 0zm1.5 0zm.5 0zm1 0zm1 0zm11 0zm6.5 0zm17.5 0zm-64.5 .5zm1 0zm.5 0zm1 0zm.5 0zm.5 0zm1.5 0zm.5 0zm1 0zm.5 0zm.5 0zm.5 0zm.5 0zm.5 0zm.5 0zm.5 0zm.5 0zm.5 0zm1 0zm.5 0zm.5 0zm.5 0zm.5 0zm.5 0zm.5 0zm.5 0zm.5 0zm.5 0zm.5 0zm.5 0zm1 0zm.5 0zm1 0zm.5 0zm1.5 0zm1.5 0zm.5 0zm.5 0zm2 0zm2 0zm.5 0zm2 0zm2 0zm11 0zm17 0zm-61 .5zm.5 0zm1 0zm.5 0zm.5 0zm1.5 0zm.5 0zm1 0zm.5 0zm.5 0zm.5 0zm.5 0zm1 0zm.5 0zm.5 0zm1 0zm.5 0zm.5 0zm.5 0zm.5 0zm.5 0zm1 0zm.5 0zm.5 0zm.5 0zm.5 0zm.5 0zm.5 0zm.5 0zm.5 0zm.5 0zm.5 0zm.5 0zm1 0zm.5 0zm1 0zm1 0zm1.5 0zm2 0zm3.5 0zm4.5 0zm5 0zm-39.5 .5zm1 0zm2 0zm1 0zm1 0zm1 0zm.5 0zm.5 0zm1.5 0zm.5 0zm.5 0zm1 0zm.5 0zm.5 0zm.5 0zm.5 0zm.5 0zm.5 0zm.5 0zm.5 0zm.5 0zm.5 0zm.5 0zm.5 0zm.5 0zm1 0zm.5 0zm1 0zm.5 0zm.5 0zm1 0zm1 0zm1 0zm.5 0zm.5 0zm1 0zm.5 0zm.5 0zm1 0zm3 0zm1 0zm8.5 0zm9 0zm12.5 0zm6 0zm-67.5 .5zm1.5 0zm1 0zm.5 0zm.5 0zm.5 0zm.5 0zm.5 0zm.5 0zm.5 0zm.5 0zm.5 0zm.5 0zm.5 0zm1 0zm.5 0zm.5 0zm.5 0zm.5 0zm1 0zm.5 0zm.5 0zm.5 0zm.5 0zm.5 0zm.5 0zm.5 0zm.5 0zm.5 0zm.5 0zm.5 0zm.5 0zm.5 0zm.5 0zm.5 0zm1 0zm.5 0zm.5 0zm2 0zm11.5 0zm-35 .5zm.5 0zm2 0zm.5 0zm2.5 0zm.5 0zm.5 0zm.5 0zm.5 0zm.5 0zm.5 0zm.5 0zm.5 0zm.5 0zm.5 0zm.5 0zm.5 0zm.5 0zm.5 0zm.5 0zm.5 0zm.5 0zm.5 0zm.5 0zm.5 0zm.5 0zm1 0zm.5 0zm.5 0zm.5 0zm.5 0zm.5 0zm.5 0zm1 0zm2 0zm1 0zm1 0zm.5 0zm25 0zm.5 0zm4.5 0zm2 0zm12.5 0zm-70 .5zm.5 0zm1 0zm1 0zm1 0zm1 0zm.5 0zm.5 0zm.5 0zm.5 0zm.5 0zm.5 0zm1 0zm.5 0zm.5 0zm.5 0zm.5 0zm1 0zm.5 0zm.5 0zm.5 0zm.5 0zm.5 0zm.5 0zm.5 0zm.5 0zm.5 0zm.5 0zm.5 0zm1 0zm1 0zm.5 0zm.5 0zm1 0zm.5 0zm2.5 0zm.5 0zm.5 0zm.5 0zm3 0zm.5 0zm1 0zm2 0zm1 0zm2.5 0zm12 0zm16.5 0zm7.5 0zm-70 .5zm3 0zm.5 0zm1 0zm.5 0zm.5 0zm.5 0zm.5 0zm.5 0zm1 0zm.5 0zm.5 0zm.5 0zm.5 0zm.5 0zm.5 0zm.5 0zm.5 0zm.5 0zm.5 0zm.5 0zm.5 0zm.5 0zm1 0zm.5 0zm.5 0zm.5 0zm.5 0zm.5 0zm1 0zm.5 0zm.5 0zm1 0zm1.5 0zm.5 0zm.5 0zm2 0zm.5 0zm1 0zm13.5 0zm5.5 0zm11.5 0zm-58 .5zm2 0zm2 0zm.5 0zm1.5 0zm.5 0zm.5 0zm1 0zm.5 0zm.5 0zm.5 0zm.5 0zm.5 0zm.5 0zm.5 0zm.5 0zm.5 0zm.5 0zm.5 0zm.5 0zm.5 0zm.5 0zm.5 0zm.5 0zm.5 0zm1 0zm.5 0zm2.5 0zm1 0zm2 0zm.5 0zm.5 0zm1.5 0zm2.5 0zm.5 0zm.5 0zm12.5 0zm3 0zm.5 0zm5 0zm.5 0zm-52 .5zm3.5 0zm.5 0zm1 0zm2 0zm1.5 0zm.5 0zm1 0zm.5 0zm.5 0zm.5 0zm1 0zm.5 0zm1 0zm.5 0zm.5 0zm.5 0zm.5 0zm.5 0zm.5 0zm.5 0zm.5 0zm.5 0zm1.5 0zm1.5 0zm.5 0zm1 0zm1.5 0zm5 0zm1 0zm3 0zm-33.5 .5zm2.5 0zm.5 0zm.5 0zm.5 0zm1.5 0zm1 0zm1.5 0zm1 0zm.5 0zm1 0zm2 0zm1 0zm.5 0zm.5 0zm.5 0zm.5 0zm.5 0zm1 0zm1 0zm.5 0zm.5 0zm.5 0zm1.5 0zm.5 0zm2 0zm.5 0zm3 0zm2.5 0zm1 0zm7.5 0zm7 0zm15.5 0zm-60.5 .5zm1 0zm2.5 0zm.5 0zm1 0zm.5 0zm1.5 0zm.5 0zm1 0zm.5 0zm1.5 0zm.5 0zm.5 0zm1 0zm1 0zm1 0zm.5 0zm.5 0zm1.5 0zm.5 0zm1.5 0zm1.5 0zm1 0zm.5 0zm4 0zm23.5 0zm-48.5 .5zm2 0zm1.5 0zm.5 0zm1 0zm1.5 0zm.5 0zm1 0zm.5 0zm.5 0zm.5 0zm.5 0zm.5 0zm.5 0zm.5 0zm1.5 0zm.5 0zm.5 0zm.5 0zm2.5 0zm.5 0zm.5 0zm2.5 0zm.5 0zm.5 0zm.5 0zm1.5 0zm19.5 0zm-44 .5zm.5 0zm1 0zm1.5 0zm3 0zm3.5 0zm.5 0zm.5 0zm.5 0zm.5 0zm.5 0zm.5 0zm1 0zm.5 0zm.5 0zm.5 0zm.5 0zm.5 0zm.5 0zm.5 0zm.5 0zm1.5 0zm.5 0zm1 0zm.5 0zm1 0zm1 0zm8 0zm-29 .5zm2 0zm1.5 0zm.5 0zm1 0zm.5 0zm.5 0zm.5 0zm2 0zm1 0zm.5 0zm.5 0zm.5 0zm.5 0zm.5 0zm1 0zm.5 0zm.5 0zm2.5 0zm.5 0zm.5 0zm1 0zm.5 0zm.5 0zm3 0zm2 0zm9.5 0zm6.5 0zm10 0zm-52.5 .5zm4.5 0zm.5 0zm.5 0zm1.5 0zm.5 0zm1 0zm2.5 0zm1 0zm.5 0zm.5 0zm.5 0zm.5 0zm1 0zm1 0zm.5 0zm.5 0zm.5 0zm.5 0zm1.5 0zm.5 0zm3 0zm21.5 0zm-44.5 .5zm3 0zm4 0zm4.5 0zm.5 0zm2 0zm1 0zm.5 0zm1 0zm1.5 0zm2 0zm1 0zm3.5 0zm14 0zm-36.5 .5zm4 0zm2.5 0zm.5 0zm1.5 0zm1 0zm1.5 0zm.5 0zm.5 0zm3.5 0zm.5 0zm3 0zm13 0zm-34 .5zm2 0zm3 0zm1 0zm.5 0zm1.5 0zm2.5 0zm.5 0zm.5 0zm1.5 0zm.5 0zm1.5 0zm1.5 0zm2 0zm2.5 0zm.5 0zm6 0zm3.5 0zm-31 .5zm1.5 0zm1.5 0zm2.5 0zm1.5 0zm1 0zm1 0zm.5 0zm.5 0zm1 0zm1.5 0zm.5 0zm1 0zm.5 0zm1 0zm.5 0zm3 0zm10.5 0zm6 0zm9 0zm-44.5 .5zm1.5 0zm1 0zm4.5 0zm2.5 0zm1.5 0zm1 0zm1.5 0zm1.5 0zm2 0zm.5 0zm1 0zm2 0zm.5 0zm.5 0zm1.5 0zm1.5 0zm1 0zm2.5 0zm14 0zm-40.5 .5zm1 0zm2 0zm2 0zm1 0zm3 0zm1 0zm.5 0zm1.5 0zm1 0zm.5 0zm.5 0zm.5 0zm.5 0zm.5 0zm3.5 0zm.5 0zm4.5 0zm2.5 0zm15.5 0zm19.5 0zm-62.5 .5zm4.5 0zm.5 0zm.5 0zm1.5 0zm.5 0zm4 0zm.5 0zm.5 0zm1.5 0zm1 0zm2.5 0zm.5 0zm.5 0zm3 0zm.5 0zm.5 0zm7.5 0zm7.5 0zm-38 .5zm4.5 0zm3 0zm2 0zm1.5 0zm.5 0zm.5 0zm1 0zm1.5 0zm2.5 0zm1.5 0zm.5 0zm2.5 0zm-21.5 .5zm2 0zm2 0zm.5 0zm2.5 0zm2.5 0zm1 0zm1.5 0zm.5 0zm4.5 0zm5 0zm5 0zm-27 .5zm6 0zm2.5 0zm3 0zm.5 0zm1 0zm2 0zm4.5 0zm9.5 0zm-28 .5zm2 0zm5.5 0zm.5 0zm.5 0zm2 0zm.5 0zm.5 0zm1 0zm2.5 0zm6.5 0zm1 0zm1 0zm1 0zm12.5 0zm-33 .5zm1.5 0zm1.5 0zm5 0zm1 0zm9 0zm2 0zm-22.5 .5zm3.5 0zm3 0zm.5 0zm1 0zm1 0zm.5 0zm2 0zm8.5 0zm6 0zm9 0zm-36.5 .5zm10.5 0zm1 0zm1 0zm1 0zm.5 0zm3 0zm2.5 0zm.5 0zm2.5 0zm-21.5 .5zm14.5 0zm.5 0zm7.5 0zm-21 .5zm1 0zm3.5 0zm1 0zm5 0zm4.5 0zm3 0zm.5 0zm.5 0zm.5 0zm9 0zm-32 .5zm2 0zm1.5 0zm3 0zm.5 0zm1.5 0zm.5 0zm1 0zm.5 0zm.5 0zm.5 0zm1 0zm.5 0zm.5 0zm.5 0zm.5 0zm1.5 0zm.5 0zm.5 0zm1 0zm2.5 0zm.5 0zm.5 0zm.5 0zm2.5 0zm1.5 0zm2 0zm3.5 0zm1 0zm1 0zm4.5 0zm11 0zm2.5 0zm2 0zm1 0zm5 0zm.5 0z"/><path class="g" d="M88.5 31.7V158.1M54.4 112.5H181.3"/><path class="f" d="M53.5 31.7H182.3"/><path class="f2" d="M54.4 31.1V158.3H181.4V31.1"/><path class="t" d="M54.4 158.1h-4.2M54.4 158.1v3.8M54.4 126.5h-4.2M86.1 158.1v3.8M54.4 94.9h-4.2M117.8 158.1v3.8M54.4 63.3h-4.2M149.6 158.1v3.8M54.4 31.7h-4.2M181.3 158.1v3.8"/><path class="m" d="M54.4 148.6h-2.4M64 158.1v2.5M54.4 143h-2.4M69.5 158.1v2.5M54.4 139.1h-2.4M73.5 158.1v2.5M54.4 136h-2.4M76.6 158.1v2.5M54.4 133.5h-2.4M79.1 158.1v2.5M54.4 131.4h-2.4M81.2 158.1v2.5M54.4 129.6h-2.4M83.1 158.1v2.5M54.4 127.9h-2.4M84.7 158.1v2.5M54.4 117h-2.4M95.7 158.1v2.5M54.4 111.4h-2.4M101.3 158.1v2.5M54.4 107.5h-2.4M105.2 158.1v2.5M54.4 104.4h-2.4M108.3 158.1v2.5M54.4 101.9h-2.4M110.8 158.1v2.5M54.4 99.8h-2.4M112.9 158.1v2.5M54.4 98h-2.4M114.8 158.1v2.5M54.4 96.3h-2.4M116.4 158.1v2.5M54.4 85.4h-2.4M127.4 158.1v2.5M54.4 79.8h-2.4M133 158.1v2.5M54.4 75.9h-2.4M137 158.1v2.5M54.4 72.8h-2.4M140 158.1v2.5M54.4 70.3h-2.4M142.5 158.1v2.5M54.4 68.2h-2.4M144.7 158.1v2.5M54.4 66.4h-2.4M146.5 158.1v2.5M54.4 64.7h-2.4M148.1 158.1v2.5M54.4 53.8h-2.4M159.1 158.1v2.5M54.4 48.2h-2.4M164.7 158.1v2.5M54.4 44.3h-2.4M168.7 158.1v2.5M54.4 41.2h-2.4M171.7 158.1v2.5M54.4 38.7h-2.4M174.3 158.1v2.5M54.4 36.6h-2.4M176.4 158.1v2.5M54.4 34.8h-2.4M178.2 158.1v2.5M54.4 33.1h-2.4M179.8 158.1v2.5"/><text class="k y" text-anchor="end" x="49.1" y="160.9">1</text><text class="k y" text-anchor="end" x="49.1" y="129.3">10</text><text class="k y" text-anchor="end" x="49.1" y="97.7">100</text><text class="k y" text-anchor="end" x="49.1" y="66.1">1000</text><text class="k y" text-anchor="end" x="49.1" y="34.5">10000</text><text class="k" text-anchor="middle" x="54.7" y="168.9">1</text><text class="k" text-anchor="middle" x="86.4" y="168.9">10</text><text class="k" text-anchor="middle" x="118.1" y="168.9">100</text><text class="k" text-anchor="middle" x="149.9" y="168.9">1000</text><text class="k" text-anchor="middle" x="181.6" y="168.9">10000</text><rect class="b" x="55.3" y="149.9" width="18.3" height="7.3"/><text class="q" x="56.1" y="39.7">7.04</text><text class="q" text-anchor="end" x="180.4" y="39.7">1.74</text><text class="q" x="56.3" y="156.5">85.8</text><text class="q" text-anchor="end" x="180.4" y="156.4">5.4</text></g>
<g><path class="d" d="M233.5 85zm-12.5 .5zm19.5 0zm4.5 0zm-24 .5zm11 0zm20 0zm-31 .5zm14 0zm-8 .5zm5 0zm16 0zm-23.5 .5zm8.5 0zm-12 .5zm11 0zm-10 .5zm1 0zm12 0zm.5 0zm2 .5zm-10.5 .5zm5 0zm1.5 0zm11.5 0zm-24 .5zm9.5 0zm1 0zm6.5 0zm-10 .5zm1 0zm5 0zm4 0zm-13.5 .5zm10.5 0zm2 0zm19 0zm-35 .5zm13 0zm.5 0zm16 0zm-27.5 .5zm5.5 0zm.5 0zm4 0zm10.5 0zm.5 0zm-23 .5zm8.5 0zm.5 0zm8 0zm3.5 0zm2.5 0zm-17.5 .5zm2.5 0zm1 0zm.5 0zm1.5 0zm4.5 0zm5 0zm-17.5 1zm5 0zm1 0zm1.5 0zm3.5 0zm3 0zm11.5 0zm-28.5 .5zm8 0zm1 0zm3 0zm1.5 0zm5 0zm-17.5 .5zm4.5 0zm.5 0zm1 0zm3.5 0zm21 0zm-31.5 .5zm3.5 0zm11 0zm5 0zm-14 .5zm1 0zm4.5 0zm.5 0zm5.5 0zm1 0zm2 0zm-16 .5zm2.5 0zm2.5 0zm1 0zm2 0zm1 0zm7.5 0zm2.5 0zm10.5 0zm-26.5 .5zm2 0zm2 0zm10 0zm.5 0zm-17 .5zm2.5 0zm2.5 0zm.5 0zm3 0zm.5 0zm1 0zm.5 0zm-11.5 .5zm5 0zm3 0zm2 0zm.5 0zm.5 0zm1.5 0zm1 0zm1.5 0zm.5 0zm3 0zm2.5 0zm-24.5 .5zm2 0zm5 0zm.5 0zm2.5 0zm4.5 0zm5 0zm-15 .5zm1.5 0zm4 0zm4 0zm2 0zm-13 .5zm2 0zm4 0zm27 0zm-36 .5zm4.5 0zm3 0zm4.5 0zm4 0zm-15 .5zm5.5 0zm.5 0zm1.5 0zm.5 0zm4 0zm.5 0zm8.5 0zm-22 .5zm6.5 0zm3 0zm.5 0zm6 0zm5 0zm-21 .5zm10 0zm.5 0zm.5 0zm4 0zm-3.5 .5zm.5 0zm4 0zm3 0zm3 0zm2.5 0zm3 0zm12.5 0zm-40 .5zm5 0zm4.5 0zm5 0zm.5 0zm3.5 0zm6.5 0zm-25 .5zm5.5 0zm2 0zm2.5 0zm4 0zm1.5 0zm.5 0zm11 0zm4 0zm-31 .5zm2 0zm1.5 0zm7 0zm2 0zm.5 0zm4 0zm-14.5 .5zm1.5 0zm5 0zm1 0zm1.5 0zm1 0zm.5 0zm3 0zm1.5 0zm3.5 0zm10 0zm-29.5 .5zm4.5 0zm1 0zm2 0zm5 0zm.5 0zm11 0zm-20 .5zm1.5 0zm.5 0zm4 0zm4 0zm10.5 0zm-25.5 .5zm3 0zm.5 0zm1 0zm3.5 0zm.5 0zm1.5 0zm1.5 0zm.5 0zm6 0zm1 0zm1.5 0zm10.5 0zm7 0zm-38.5 .5zm7.5 0zm3.5 0zm7.5 0zm9.5 0zm-21 .5zm3 0zm1 0zm2 0zm6 0zm4 0zm4.5 0zm-25 .5zm1.5 0zm4 0zm.5 0zm2 0zm2 0zm1.5 0zm17 0zm-29 .5zm3 0zm2 0zm1 0zm2.5 0zm6 0zm4 0zm2 0zm12 0zm-34.5 .5zm2 0zm3.5 0zm4 0zm2 0zm3 0zm1 0zm.5 0zm.5 0zm.5 0zm.5 0zm.5 0zm1.5 0zm2 0zm5 0zm-26.5 .5zm6.5 0zm3 0zm1 0zm4 0zm2.5 0zm10 0zm6.5 0zm-33.5 .5zm3 0zm2 0zm1.5 0zm2.5 0zm.5 0zm.5 0zm1 0zm.5 0zm1.5 0zm1.5 0zm.5 0zm3 0zm1.5 0zm7 0zm5.5 0zm-32 .5zm1.5 0zm3 0zm2 0zm1 0zm2 0zm1.5 0zm.5 0zm3 0zm.5 0zm2.5 0zm.5 0zm.5 0zm1 0zm3 0zm.5 0zm2 0zm4 0zm2.5 0zm2.5 0zm-34 .5zm1.5 0zm6 0zm.5 0zm.5 0zm2.5 0zm.5 0zm.5 0zm1 0zm.5 0zm1 0zm1 0zm10.5 0zm7 0zm4 0zm-37 .5zm.5 0zm5.5 0zm2.5 0zm.5 0zm1 0zm.5 0zm.5 0zm1.5 0zm1 0zm1 0zm2 0zm.5 0zm1.5 0zm16.5 0zm-29 .5zm2.5 0zm.5 0zm1 0zm.5 0zm1.5 0zm3 0zm.5 0zm1.5 0zm.5 0zm3.5 0zm2.5 0zm6.5 0zm6 0zm1 0zm-37 .5zm5 0zm1 0zm.5 0zm3 0zm.5 0zm2 0zm1.5 0zm2 0zm3 0zm.5 0zm1.5 0zm2 0zm1.5 0zm1.5 0zm-23 .5zm1 0zm1 0zm3 0zm4 0zm1 0zm1.5 0zm1 0zm.5 0zm2 0zm.5 0zm1 0zm.5 0zm6.5 0zm11 0zm12 0zm-49 .5zm2.5 0zm.5 0zm4 0zm.5 0zm.5 0zm1.5 0zm1 0zm.5 0zm.5 0zm.5 0zm.5 0zm.5 0zm4 0zm1 0zm.5 0zm2 0zm.5 0zm.5 0zm.5 0zm5 0zm7 0zm5.5 0zm-39.5 .5zm1 0zm1 0zm2 0zm1 0zm1 0zm2 0zm.5 0zm1 0zm.5 0zm1 0zm1.5 0zm1.5 0zm.5 0zm3 0zm1.5 0zm2.5 0zm1 0zm7 0zm1 0zm2 0zm4 0zm-36.5 .5zm.5 0zm1 0zm1 0zm1 0zm2.5 0zm1 0zm1 0zm.5 0zm1.5 0zm2 0zm.5 0zm.5 0zm2.5 0zm1 0zm1 0zm.5 0zm1 0zm.5 0zm.5 0zm1.5 0zm2 0zm10.5 0zm1 0zm-35 .5zm2 0zm1 0zm2.5 0zm1 0zm.5 0zm3 0zm2 0zm1 0zm.5 0zm1 0zm1 0zm.5 0zm1 0zm.5 0zm4 0zm1.5 0zm4 0zm3.5 0zm2 0zm2 0zm-34 .5zm1.5 0zm4.5 0zm2.5 0zm.5 0zm.5 0zm.5 0zm1.5 0zm.5 0zm.5 0zm.5 0zm.5 0zm1.5 0zm1 0zm.5 0zm2 0zm1.5 0zm.5 0zm3 0zm6 0zm-30 .5zm.5 0zm1.5 0zm.5 0zm1 0zm2 0zm1 0zm.5 0zm.5 0zm1 0zm1.5 0zm.5 0zm1 0zm.5 0zm.5 0zm.5 0zm.5 0zm.5 0zm4.5 0zm.5 0zm2 0zm.5 0zm1.5 0zm9 0zm-32 .5zm2 0zm.5 0zm.5 0zm.5 0zm2.5 0zm1.5 0zm1 0zm1 0zm1 0zm.5 0zm.5 0zm1 0zm.5 0zm.5 0zm1.5 0zm.5 0zm.5 0zm.5 0zm.5 0zm1.5 0zm1.5 0zm6 0zm1.5 0zm9.5 0zm9 0zm-46 .5zm.5 0zm.5 0zm2 0zm.5 0zm.5 0zm.5 0zm.5 0zm.5 0zm.5 0zm1 0zm1 0zm.5 0zm.5 0zm.5 0zm.5 0zm.5 0zm.5 0zm1 0zm.5 0zm.5 0zm.5 0zm.5 0zm1 0zm.5 0zm3 0zm.5 0zm1.5 0zm2.5 0zm2 0zm1 0zm1.5 0zm3 0zm5 0zm-35.5 .5zm1.5 0zm2.5 0zm.5 0zm.5 0zm.5 0zm1 0zm1 0zm.5 0zm.5 0zm.5 0zm.5 0zm.5 0zm.5 0zm2 0zm1 0zm.5 0zm.5 0zm.5 0zm.5 0zm.5 0zm1 0zm2 0zm1 0zm2 0zm1 0zm2 0zm1 0zm.5 0zm4.5 0zm-31 .5zm.5 0zm1 0zm1.5 0zm1 0zm1.5 0zm.5 0zm.5 0zm1 0zm.5 0zm.5 0zm.5 0zm.5 0zm1.5 0zm.5 0zm.5 0zm.5 0zm.5 0zm.5 0zm1 0zm.5 0zm.5 0zm.5 0zm.5 0zm.5 0zm.5 0zm2 0zm1 0zm.5 0zm1 0zm2 0zm9 0zm1.5 0zm6.5 0zm-41 .5zm1 0zm.5 0zm2.5 0zm.5 0zm.5 0zm1 0zm1.5 0zm1 0zm.5 0zm.5 0zm1 0zm1 0zm.5 0zm.5 0zm.5 0zm.5 0zm.5 0zm1 0zm.5 0zm.5 0zm.5 0zm1.5 0zm1 0zm3 0zm1.5 0zm1 0zm.5 0zm2.5 0zm.5 0zm1 0zm4.5 0zm11.5 0zm-45 .5zm.5 0zm2 0zm.5 0zm1.5 0zm1.5 0zm.5 0zm1.5 0zm.5 0zm.5 0zm.5 0zm.5 0zm.5 0zm.5 0zm.5 0zm.5 0zm1 0zm.5 0zm.5 0zm.5 0zm.5 0zm.5 0zm1 0zm.5 0zm1 0zm1.5 0zm2.5 0zm.5 0zm1.5 0zm.5 0zm1 0zm1 0zm12.5 0zm-39 .5zm1.5 0zm2 0zm.5 0zm1 0zm1 0zm.5 0zm.5 0zm.5 0zm.5 0zm.5 0zm1 0zm.5 0zm.5 0zm.5 0zm1 0zm.5 0zm.5 0zm.5 0zm.5 0zm.5 0zm.5 0zm.5 0zm.5 0zm.5 0zm.5 0zm1 0zm1 0zm.5 0zm2 0zm1 0zm.5 0zm1.5 0zm.5 0zm.5 0zm.5 0zm.5 0zm1.5 0zm1 0zm1 0zm.5 0zm2.5 0zm-33 .5zm1 0zm1.5 0zm.5 0zm1.5 0zm.5 0zm1 0zm1.5 0zm.5 0zm1 0zm.5 0zm.5 0zm.5 0zm1 0zm.5 0zm.5 0zm.5 0zm1 0zm.5 0zm.5 0zm.5 0zm.5 0zm.5 0zm.5 0zm.5 0zm1.5 0zm1 0zm.5 0zm2.5 0zm.5 0zm.5 0zm2 0zm1 0zm5.5 0zm12 0zm-44.5 .5zm.5 0zm1 0zm.5 0zm.5 0zm.5 0zm1 0zm1 0zm.5 0zm.5 0zm.5 0zm1 0zm.5 0zm.5 0zm1 0zm.5 0zm.5 0zm.5 0zm.5 0zm1 0zm.5 0zm1 0zm.5 0zm.5 0zm.5 0zm1 0zm.5 0zm1 0zm.5 0zm.5 0zm.5 0zm1 0zm1 0zm1 0zm1 0zm.5 0zm1 0zm1.5 0zm1 0zm2 0zm5.5 0zm-35 .5zm3.5 0zm1 0zm.5 0zm.5 0zm.5 0zm.5 0zm1 0zm.5 0zm1 0zm.5 0zm.5 0zm.5 0zm.5 0zm.5 0zm.5 0zm.5 0zm.5 0zm.5 0zm.5 0zm.5 0zm.5 0zm.5 0zm1 0zm1 0zm1 0zm2.5 0zm1.5 0zm5.5 0zm2.5 0zm1 0zm2 0zm2 0zm6 0zm-41.5 .5zm1.5 0zm.5 0zm1 0zm.5 0zm.5 0zm.5 0zm.5 0zm.5 0zm.5 0zm.5 0zm.5 0zm.5 0zm.5 0zm1.5 0zm.5 0zm.5 0zm.5 0zm.5 0zm.5 0zm.5 0zm.5 0zm.5 0zm1.5 0zm.5 0zm.5 0zm.5 0zm.5 0zm.5 0zm.5 0zm.5 0zm.5 0zm1 0zm1.5 0zm.5 0zm1 0zm.5 0zm.5 0zm.5 0zm.5 0zm2 0zm2 0zm6.5 0zm1.5 0zm3 0zm-40 .5zm.5 0zm1 0zm1 0zm.5 0zm1 0zm.5 0zm.5 0zm.5 0zm1 0zm1.5 0zm.5 0zm.5 0zm.5 0zm.5 0zm.5 0zm.5 0zm.5 0zm.5 0zm.5 0zm.5 0zm.5 0zm.5 0zm.5 0zm.5 0zm.5 0zm.5 0zm.5 0zm.5 0zm.5 0zm.5 0zm1 0zm.5 0zm3.5 0zm.5 0zm1.5 0zm2 0zm3.5 0zm1.5 0zm1.5 0zm11.5 0zm-45 .5zm2 0zm.5 0zm.5 0zm1 0zm.5 0zm1 0zm1.5 0zm.5 0zm1 0zm.5 0zm.5 0zm.5 0zm.5 0zm.5 0zm.5 0zm.5 0zm.5 0zm.5 0zm1 0zm.5 0zm.5 0zm1 0zm.5 0zm.5 0zm.5 0zm.5 0zm.5 0zm.5 0zm.5 0zm1.5 0zm.5 0zm1.5 0zm.5 0zm1.5 0zm3.5 0zm2 0zm.5 0zm1.5 0zm.5 0zm3.5 0zm5 0zm-41.5 .5zm.5 0zm1 0zm1.5 0zm1.5 0zm1 0zm.5 0zm.5 0zm.5 0zm.5 0zm.5 0zm.5 0zm.5 0zm.5 0zm.5 0zm.5 0zm.5 0zm.5 0zm.5 0zm.5 0zm.5 0zm.5 0zm.5 0zm.5 0zm.5 0zm.5 0zm.5 0zm1 0zm1.5 0zm.5 0zm1 0zm.5 0zm.5 0zm1 0zm.5 0zm2 0zm2 0zm.5 0zm1.5 0zm1.5 0zm4.5 0zm3 0zm8 0zm-45.5 .5zm.5 0zm1.5 0zm.5 0zm1 0zm1 0zm1 0zm.5 0zm.5 0zm.5 0zm.5 0zm.5 0zm.5 0zm1.5 0zm.5 0zm.5 0zm.5 0zm.5 0zm.5 0zm.5 0zm.5 0zm1.5 0zm.5 0zm.5 0zm.5 0zm.5 0zm.5 0zm1 0zm.5 0zm.5 0zm1.5 0zm.5 0zm.5 0zm.5 0zm1 0zm2.5 0zm1 0zm6 0zm1.5 0zm6 0zm3.5 0zm-43 .5zm.5 0zm.5 0zm.5 0zm.5 0zm.5 0zm.5 0zm.5 0zm1 0zm.5 0zm.5 0zm1 0zm.5 0zm.5 0zm.5 0zm1 0zm.5 0zm.5 0zm.5 0zm.5 0zm.5 0zm.5 0zm.5 0zm.5 0zm.5 0zm.5 0zm.5 0zm.5 0zm.5 0zm.5 0zm.5 0zm.5 0zm.5 0zm.5 0zm.5 0zm.5 0zm.5 0zm.5 0zm.5 0zm.5 0zm.5 0zm.5 0zm1.5 0zm1 0zm1 0zm.5 0zm2.5 0zm.5 0zm4.5 0zm1 0zm1 0zm-36.5 .5zm1 0zm.5 0zm.5 0zm.5 0zm.5 0zm.5 0zm.5 0zm.5 0zm.5 0zm.5 0zm.5 0zm.5 0zm1 0zm.5 0zm.5 0zm.5 0zm.5 0zm.5 0zm.5 0zm.5 0zm.5 0zm.5 0zm.5 0zm1 0zm.5 0zm.5 0zm.5 0zm.5 0zm.5 0zm.5 0zm.5 0zm1.5 0zm.5 0zm.5 0zm.5 0zm.5 0zm.5 0zm.5 0zm.5 0zm.5 0zm1 0zm.5 0zm.5 0zm.5 0zm.5 0zm1 0zm7 0zm1.5 0zm4.5 0zm.5 0zm-40 .5zm1.5 0zm1 0zm1 0zm.5 0zm1 0zm.5 0zm.5 0zm.5 0zm.5 0zm.5 0zm.5 0zm.5 0zm.5 0zm.5 0zm.5 0zm.5 0zm.5 0zm.5 0zm.5 0zm.5 0zm.5 0zm.5 0zm.5 0zm.5 0zm.5 0zm.5 0zm1 0zm.5 0zm.5 0zm1 0zm.5 0zm.5 0zm1 0zm.5 0zm.5 0zm.5 0zm1.5 0zm.5 0zm.5 0zm.5 0zm.5 0zm1 0zm.5 0zm1.5 0zm.5 0zm.5 0zm1 0zm.5 0zm4 0zm-35 .5zm.5 0zm.5 0zm.5 0zm1.5 0zm1 0zm.5 0zm.5 0zm.5 0zm.5 0zm.5 0zm.5 0zm1 0zm.5 0zm.5 0zm.5 0zm.5 0zm.5 0zm.5 0zm.5 0zm.5 0zm.5 0zm.5 0zm.5 0zm.5 0zm.5 0zm.5 0zm.5 0zm.5 0zm1 0zm.5 0zm.5 0zm.5 0zm.5 0zm.5 0zm.5 0zm1.5 0zm.5 0zm.5 0zm.5 0zm1 0zm.5 0zm.5 0zm2.5 0zm7.5 0zm-35 .5zm.5 0zm.5 0zm.5 0zm1 0zm.5 0zm2 0zm.5 0zm.5 0zm.5 0zm.5 0zm.5 0zm.5 0zm.5 0zm.5 0zm.5 0zm1 0zm.5 0zm.5 0zm.5 0zm.5 0zm.5 0zm.5 0zm.5 0zm.5 0zm.5 0zm.5 0zm.5 0zm.5 0zm.5 0zm1.5 0zm.5 0zm.5 0zm1.5 0zm.5 0zm.5 0zm.5 0zm1 0zm1 0zm2 0zm2.5 0zm1 0zm2.5 0zm1.5 0zm3.5 0zm-37.5 .5zm.5 0zm2 0zm1 0zm.5 0zm.5 0zm.5 0zm.5 0zm.5 0zm.5 0zm.5 0zm.5 0zm.5 0zm.5 0zm.5 0zm.5 0zm.5 0zm.5 0zm.5 0zm.5 0zm.5 0zm.5 0zm.5 0zm.5 0zm.5 0zm.5 0zm.5 0zm.5 0zm.5 0zm.5 0zm1 0zm.5 0zm.5 0zm.5 0zm.5 0zm.5 0zm.5 0zm1 0zm.5 0zm.5 0zm2 0zm.5 0zm.5 0zm9 0zm.5 0zm1 0zm-36 .5zm.5 0zm.5 0zm.5 0zm.5 0zm.5 0zm1.5 0zm.5 0zm.5 0zm.5 0zm.5 0zm.5 0zm.5 0zm.5 0zm.5 0zm.5 0zm.5 0zm.5 0zm.5 0zm.5 0zm.5 0zm.5 0zm.5 0zm.5 0zm.5 0zm.5 0zm.5 0zm.5 0zm.5 0zm.5 0zm.5 0zm.5 0zm.5 0zm.5 0zm.5 0zm.5 0zm.5 0zm.5 0zm.5 0zm.5 0zm.5 0zm.5 0zm.5 0zm.5 0zm.5 0zm.5 0zm1 0zm3 0zm.5 0zm1 0zm.5 0zm8.5 0zm-38 .5zm.5 0zm1.5 0zm.5 0zm1 0zm1 0zm.5 0zm.5 0zm.5 0zm.5 0zm.5 0zm.5 0zm.5 0zm1 0zm.5 0zm.5 0zm.5 0zm.5 0zm.5 0zm.5 0zm.5 0zm.5 0zm.5 0zm.5 0zm.5 0zm.5 0zm.5 0zm.5 0zm.5 0zm.5 0zm.5 0zm.5 0zm.5 0zm.5 0zm.5 0zm.5 0zm.5 0zm.5 0zm.5 0zm.5 0zm.5 0zm1.5 0zm.5 0zm.5 0zm.5 0zm.5 0zm.5 0zm.5 0zm1 0zm.5 0zm.5 0zm.5 0zm3 0zm5 0zm5 0zm-42.5 .5zm1 0zm.5 0zm.5 0zm1.5 0zm.5 0zm.5 0zm.5 0zm.5 0zm.5 0zm.5 0zm.5 0zm.5 0zm.5 0zm.5 0zm.5 0zm.5 0zm.5 0zm.5 0zm1 0zm.5 0zm.5 0zm.5 0zm.5 0zm.5 0zm.5 0zm.5 0zm.5 0zm.5 0zm.5 0zm.5 0zm.5 0zm.5 0zm.5 0zm.5 0zm.5 0zm.5 0zm.5 0zm.5 0zm1 0zm.5 0zm1 0zm.5 0zm.5 0zm1.5 0zm1 0zm1.5 0zm.5 0zm1.5 0zm.5 0zm1.5 0zm4.5 0zm-37 .5zm1.5 0zm1.5 0zm.5 0zm.5 0zm1 0zm.5 0zm.5 0zm.5 0zm.5 0zm.5 0zm.5 0zm.5 0zm.5 0zm.5 0zm.5 0zm.5 0zm.5 0zm.5 0zm.5 0zm.5 0zm.5 0zm.5 0zm.5 0zm.5 0zm.5 0zm.5 0zm.5 0zm.5 0zm.5 0zm.5 0zm.5 0zm1 0zm.5 0zm.5 0zm.5 0zm.5 0zm.5 0zm2 0zm1 0zm.5 0zm.5 0zm1.5 0zm1 0zm.5 0zm2.5 0zm1.5 0zm4.5 0zm-37 .5zm1 0zm.5 0zm.5 0zm.5 0zm.5 0zm.5 0zm.5 0zm1 0zm.5 0zm.5 0zm.5 0zm.5 0zm1 0zm.5 0zm.5 0zm.5 0zm.5 0zm.5 0zm.5 0zm.5 0zm.5 0zm.5 0zm.5 0zm1 0zm.5 0zm.5 0zm.5 0zm.5 0zm.5 0zm.5 0zm.5 0zm.5 0zm.5 0zm.5 0zm.5 0zm.5 0zm.5 0zm.5 0zm1 0zm1 0zm.5 0zm.5 0zm1 0zm2 0zm.5 0zm1 0zm.5 0zm.5 0zm1 0zm.5 0zm7.5 0zm-38.5 .5zm1 0zm.5 0zm1 0zm1.5 0zm.5 0zm.5 0zm.5 0zm1 0zm.5 0zm.5 0zm.5 0zm.5 0zm.5 0zm.5 0zm.5 0zm.5 0zm.5 0zm.5 0zm1 0zm.5 0zm.5 0zm.5 0zm.5 0zm.5 0zm.5 0zm.5 0zm.5 0zm.5 0zm.5 0zm.5 0zm.5 0zm1 0zm.5 0zm.5 0zm.5 0zm1 0zm1.5 0zm1.5 0zm.5 0zm1 0zm1.5 0zm.5 0zm.5 0zm1.5 0zm.5 0zm.5 0zm2 0zm.5 0zm2 0zm-36 .5zm.5 0zm.5 0zm1 0zm.5 0zm.5 0zm.5 0zm.5 0zm.5 0zm.5 0zm.5 0zm.5 0zm.5 0zm.5 0zm.5 0zm.5 0zm.5 0zm.5 0zm.5 0zm.5 0zm.5 0zm.5 0zm.5 0zm.5 0zm.5 0zm.5 0zm.5 0zm.5 0zm.5 0zm1 0zm.5 0zm.5 0zm.5 0zm.5 0zm.5 0zm.5 0zm.5 0zm.5 0zm.5 0zm.5 0zm.5 0zm1 0zm1 0zm.5 0zm1 0zm.5 0zm.5 0zm1.5 0zm1.5 0zm.5 0zm1 0zm1.5 0zm.5 0zm11.5 0zm-43.5 .5zm.5 0zm.5 0zm.5 0zm.5 0zm.5 0zm.5 0zm.5 0zm.5 0zm.5 0zm1 0zm.5 0zm.5 0zm.5 0zm.5 0zm.5 0zm.5 0zm.5 0zm.5 0zm.5 0zm.5 0zm.5 0zm.5 0zm.5 0zm.5 0zm.5 0zm.5 0zm.5 0zm.5 0zm1 0zm.5 0zm.5 0zm1 0zm.5 0zm.5 0zm.5 0zm.5 0zm.5 0zm.5 0zm1 0zm.5 0zm.5 0zm.5 0zm1 0zm.5 0zm2.5 0zm1.5 0zm3.5 0zm.5 0zm1.5 0zm4 0zm3 0zm-41 .5zm2 0zm.5 0zm.5 0zm.5 0zm.5 0zm.5 0zm1.5 0zm.5 0zm.5 0zm.5 0zm.5 0zm.5 0zm.5 0zm.5 0zm.5 0zm.5 0zm.5 0zm.5 0zm.5 0zm.5 0zm.5 0zm.5 0zm.5 0zm.5 0zm.5 0zm.5 0zm.5 0zm.5 0zm.5 0zm.5 0zm.5 0zm1 0zm.5 0zm.5 0zm.5 0zm.5 0zm.5 0zm.5 0zm1.5 0zm1 0zm.5 0zm1.5 0zm1 0zm8 0zm-35.5 .5zm1 0zm.5 0zm.5 0zm1.5 0zm1 0zm.5 0zm.5 0zm.5 0zm.5 0zm.5 0zm.5 0zm.5 0zm.5 0zm.5 0zm.5 0zm.5 0zm.5 0zm.5 0zm.5 0zm.5 0zm.5 0zm.5 0zm.5 0zm.5 0zm.5 0zm.5 0zm.5 0zm.5 0zm.5 0zm.5 0zm.5 0zm.5 0zm.5 0zm.5 0zm.5 0zm1 0zm.5 0zm.5 0zm.5 0zm.5 0zm1 0zm.5 0zm.5 0zm.5 0zm1.5 0zm.5 0zm1.5 0zm.5 0zm1 0zm1.5 0zm2 0zm.5 0zm1 0zm7.5 0zm-42.5 .5zm1 0zm1 0zm.5 0zm.5 0zm.5 0zm.5 0zm.5 0zm.5 0zm.5 0zm.5 0zm.5 0zm1 0zm.5 0zm.5 0zm.5 0zm.5 0zm.5 0zm.5 0zm.5 0zm.5 0zm.5 0zm.5 0zm.5 0zm.5 0zm.5 0zm.5 0zm.5 0zm.5 0zm.5 0zm.5 0zm.5 0zm.5 0zm.5 0zm1 0zm.5 0zm.5 0zm1 0zm.5 0zm.5 0zm.5 0zm1.5 0zm1 0zm.5 0zm1.5 0zm.5 0zm4 0zm.5 0zm.5 0zm-32.5 .5zm.5 0zm.5 0zm.5 0zm.5 0zm.5 0zm1.5 0zm.5 0zm.5 0zm1 0zm.5 0zm.5 0zm.5 0zm.5 0zm.5 0zm.5 0zm.5 0zm.5 0zm.5 0zm.5 0zm.5 0zm.5 0zm.5 0zm.5 0zm.5 0zm.5 0zm.5 0zm.5 0zm.5 0zm.5 0zm.5 0zm.5 0zm.5 0zm.5 0zm.5 0zm.5 0zm.5 0zm.5 0zm.5 0zm.5 0zm1 0zm.5 0zm1 0zm.5 0zm.5 0zm.5 0zm.5 0zm1.5 0zm.5 0zm.5 0zm.5 0zm1.5 0zm7 0zm4.5 0zm-41.5 .5zm1 0zm.5 0zm.5 0zm.5 0zm.5 0zm.5 0zm.5 0zm.5 0zm.5 0zm.5 0zm.5 0zm.5 0zm.5 0zm.5 0zm.5 0zm.5 0zm.5 0zm.5 0zm.5 0zm.5 0zm.5 0zm.5 0zm.5 0zm.5 0zm.5 0zm.5 0zm.5 0zm.5 0zm.5 0zm.5 0zm.5 0zm.5 0zm.5 0zm.5 0zm.5 0zm.5 0zm.5 0zm.5 0zm.5 0zm.5 0zm.5 0zm.5 0zm.5 0zm.5 0zm.5 0zm.5 0zm.5 0zm1 0zm1 0zm.5 0zm2.5 0zm2.5 0zm1 0zm2 0zm4.5 0zm2 0zm-41 .5zm.5 0zm.5 0zm.5 0zm1 0zm2 0zm.5 0zm.5 0zm.5 0zm.5 0zm.5 0zm.5 0zm.5 0zm.5 0zm.5 0zm.5 0zm.5 0zm.5 0zm.5 0zm.5 0zm.5 0zm.5 0zm.5 0zm1 0zm.5 0zm.5 0zm.5 0zm.5 0zm.5 0zm1 0zm.5 0zm.5 0zm1 0zm.5 0zm.5 0zm.5 0zm.5 0zm.5 0zm.5 0zm.5 0zm.5 0zm.5 0zm.5 0zm1 0zm.5 0zm3 0zm4.5 0zm6 0zm2 0zm-41.5 .5zm.5 0zm1 0zm.5 0zm.5 0zm1 0zm.5 0zm.5 0zm.5 0zm.5 0zm1 0zm.5 0zm.5 0zm.5 0zm.5 0zm.5 0zm.5 0zm.5 0zm.5 0zm.5 0zm.5 0zm.5 0zm.5 0zm.5 0zm.5 0zm.5 0zm.5 0zm.5 0zm.5 0zm.5 0zm.5 0zm.5 0zm.5 0zm.5 0zm.5 0zm.5 0zm.5 0zm.5 0zm.5 0zm.5 0zm.5 0zm.5 0zm.5 0zm.5 0zm.5 0zm.5 0zm1 0zm.5 0zm.5 0zm.5 0zm1 0zm1 0zm.5 0zm1 0zm1.5 0zm1.5 0zm4 0zm3 0zm-40 .5zm.5 0zm1 0zm.5 0zm.5 0zm.5 0zm.5 0zm.5 0zm.5 0zm.5 0zm.5 0zm.5 0zm.5 0zm.5 0zm.5 0zm.5 0zm.5 0zm1 0zm.5 0zm.5 0zm.5 0zm.5 0zm.5 0zm.5 0zm.5 0zm.5 0zm.5 0zm.5 0zm.5 0zm.5 0zm.5 0zm.5 0zm.5 0zm.5 0zm.5 0zm.5 0zm.5 0zm.5 0zm1 0zm.5 0zm.5 0zm.5 0zm.5 0zm.5 0zm1 0zm.5 0zm.5 0zm2.5 0zm.5 0zm1 0zm6 0zm.5 0zm-35.5 .5zm.5 0zm.5 0zm.5 0zm.5 0zm.5 0zm1 0zm.5 0zm.5 0zm.5 0zm.5 0zm.5 0zm.5 0zm.5 0zm.5 0zm.5 0zm.5 0zm.5 0zm.5 0zm.5 0zm.5 0zm.5 0zm.5 0zm.5 0zm.5 0zm.5 0zm.5 0zm.5 0zm.5 0zm.5 0zm.5 0zm.5 0zm.5 0zm.5 0zm.5 0zm1 0zm.5 0zm.5 0zm.5 0zm.5 0zm1.5 0zm.5 0zm.5 0zm1 0zm.5 0zm1 0zm.5 0zm1 0zm.5 0zm.5 0zm2 0zm1.5 0zm2 0zm1 0zm1.5 0zm-36 .5zm1 0zm1.5 0zm.5 0zm1 0zm.5 0zm.5 0zm.5 0zm.5 0zm.5 0zm.5 0zm.5 0zm.5 0zm.5 0zm.5 0zm.5 0zm.5 0zm.5 0zm.5 0zm.5 0zm.5 0zm.5 0zm.5 0zm.5 0zm.5 0zm.5 0zm.5 0zm.5 0zm.5 0zm.5 0zm.5 0zm1 0zm.5 0zm.5 0zm1 0zm.5 0zm.5 0zm.5 0zm.5 0zm.5 0zm.5 0zm1 0zm1.5 0zm.5 0zm1.5 0zm2 0zm1 0zm.5 0zm5.5 0zm5 0zm6 0zm-47.5 .5zm.5 0zm.5 0zm.5 0zm.5 0zm.5 0zm.5 0zm.5 0zm.5 0zm.5 0zm.5 0zm.5 0zm.5 0zm.5 0zm.5 0zm.5 0zm.5 0zm.5 0zm.5 0zm.5 0zm.5 0zm.5 0zm.5 0zm.5 0zm.5 0zm.5 0zm.5 0zm.5 0zm.5 0zm.5 0zm.5 0zm.5 0zm.5 0zm.5 0zm.5 0zm.5 0zm.5 0zm.5 0zm.5 0zm.5 0zm.5 0zm2.5 0zm.5 0zm.5 0zm.5 0zm.5 0zm.5 0zm.5 0zm2.5 0zm13 0zm5.5 0zm-46.5 .5zm.5 0zm.5 0zm.5 0zm.5 0zm.5 0zm1 0zm.5 0zm.5 0zm.5 0zm.5 0zm.5 0zm.5 0zm.5 0zm.5 0zm.5 0zm.5 0zm.5 0zm.5 0zm.5 0zm.5 0zm.5 0zm.5 0zm.5 0zm.5 0zm.5 0zm.5 0zm.5 0zm.5 0zm.5 0zm.5 0zm.5 0zm.5 0zm.5 0zm.5 0zm.5 0zm.5 0zm1 0zm.5 0zm.5 0zm.5 0zm.5 0zm.5 0zm1 0zm.5 0zm1.5 0zm.5 0zm.5 0zm.5 0zm1 0zm1.5 0zm1.5 0zm5.5 0zm-36 .5zm.5 0zm.5 0zm.5 0zm.5 0zm1 0zm.5 0zm.5 0zm.5 0zm1 0zm.5 0zm.5 0zm1 0zm.5 0zm.5 0zm.5 0zm.5 0zm.5 0zm.5 0zm.5 0zm.5 0zm.5 0zm.5 0zm.5 0zm.5 0zm.5 0zm.5 0zm.5 0zm.5 0zm.5 0zm.5 0zm1 0zm.5 0zm.5 0zm.5 0zm.5 0zm.5 0zm.5 0zm.5 0zm.5 0zm.5 0zm.5 0zm1 0zm1.5 0zm1.5 0zm.5 0zm1.5 0zm2 0zm1.5 0zm-32 .5zm.5 0zm1 0zm.5 0zm.5 0zm.5 0zm.5 0zm1 0zm.5 0zm.5 0zm.5 0zm.5 0zm.5 0zm.5 0zm.5 0zm.5 0zm.5 0zm.5 0zm.5 0zm.5 0zm.5 0zm1 0zm.5 0zm.5 0zm.5 0zm.5 0zm.5 0zm.5 0zm.5 0zm.5 0zm.5 0zm.5 0zm.5 0zm.5 0zm.5 0zm1 0zm1 0zm.5 0zm1 0zm1 0zm.5 0zm.5 0zm.5 0zm.5 0zm1.5 0zm2.5 0zm1 0zm1.5 0zm.5 0zm.5 0zm9 0zm-41.5 .5zm2 0zm.5 0zm.5 0zm.5 0zm.5 0zm.5 0zm.5 0zm.5 0zm1 0zm.5 0zm.5 0zm.5 0zm.5 0zm.5 0zm.5 0zm.5 0zm.5 0zm.5 0zm.5 0zm.5 0zm.5 0zm.5 0zm.5 0zm.5 0zm.5 0zm.5 0zm.5 0zm1 0zm.5 0zm.5 0zm.5 0zm.5 0zm.5 0zm.5 0zm.5 0zm.5 0zm.5 0zm.5 0zm.5 0zm.5 0zm.5 0zm.5 0zm1 0zm1 0zm1 0zm.5 0zm.5 0zm6 0zm.5 0zm.5 0zm3 0zm-37.5 .5zm.5 0zm1 0zm.5 0zm.5 0zm.5 0zm.5 0zm1 0zm.5 0zm.5 0zm1 0zm.5 0zm.5 0zm.5 0zm.5 0zm.5 0zm.5 0zm.5 0zm.5 0zm.5 0zm.5 0zm.5 0zm.5 0zm.5 0zm.5 0zm.5 0zm.5 0zm.5 0zm.5 0zm.5 0zm.5 0zm.5 0zm.5 0zm.5 0zm.5 0zm.5 0zm.5 0zm.5 0zm.5 0zm1 0zm.5 0zm.5 0zm1 0zm.5 0zm.5 0zm2 0zm.5 0zm2.5 0zm1 0zm5 0zm-35.5 .5zm1 0zm.5 0zm1.5 0zm.5 0zm.5 0zm.5 0zm.5 0zm.5 0zm.5 0zm1 0zm.5 0zm.5 0zm1 0zm.5 0zm.5 0zm.5 0zm.5 0zm.5 0zm.5 0zm.5 0zm.5 0zm.5 0zm.5 0zm.5 0zm.5 0zm.5 0zm.5 0zm.5 0zm.5 0zm.5 0zm.5 0zm.5 0zm.5 0zm1.5 0zm.5 0zm1 0zm.5 0zm.5 0zm1.5 0zm2 0zm1.5 0zm1 0zm4 0zm.5 0zm1 0zm-34.5 .5zm1.5 0zm.5 0zm1 0zm1 0zm.5 0zm.5 0zm.5 0zm.5 0zm.5 0zm.5 0zm.5 0zm.5 0zm.5 0zm.5 0zm.5 0zm.5 0zm.5 0zm.5 0zm.5 0zm.5 0zm.5 0zm.5 0zm.5 0zm.5 0zm.5 0zm1 0zm.5 0zm.5 0zm1.5 0zm.5 0zm.5 0zm.5 0zm2 0zm1 0zm1.5 0zm2 0zm1.5 0zm1.5 0zm1 0zm.5 0zm4 0zm.5 0zm-35 .5zm.5 0zm.5 0zm.5 0zm1.5 0zm.5 0zm.5 0zm.5 0zm.5 0zm.5 0zm.5 0zm.5 0zm.5 0zm.5 0zm.5 0zm.5 0zm.5 0zm.5 0zm.5 0zm.5 0zm.5 0zm.5 0zm.5 0zm.5 0zm.5 0zm.5 0zm.5 0zm.5 0zm.5 0zm.5 0zm.5 0zm.5 0zm.5 0zm.5 0zm.5 0zm.5 0zm.5 0zm.5 0zm.5 0zm.5 0zm.5 0zm1.5 0zm.5 0zm3.5 0zm.5 0zm1 0zm.5 0zm1.5 0zm.5 0zm3.5 0zm1 0zm2.5 0zm1.5 0zm-39 .5zm2 0zm.5 0zm.5 0zm.5 0zm.5 0zm.5 0zm.5 0zm1 0zm.5 0zm.5 0zm1 0zm.5 0zm.5 0zm.5 0zm1 0zm.5 0zm.5 0zm.5 0zm.5 0zm.5 0zm.5 0zm1 0zm.5 0zm.5 0zm.5 0zm.5 0zm.5 0zm.5 0zm.5 0zm.5 0zm.5 0zm.5 0zm.5 0zm.5 0zm1 0zm.5 0zm.5 0zm.5 0zm.5 0zm.5 0zm.5 0zm2 0zm1.5 0zm1 0zm.5 0zm1.5 0zm1.5 0zm.5 0zm7.5 0zm-40.5 .5zm.5 0zm.5 0zm.5 0zm.5 0zm.5 0zm.5 0zm.5 0zm.5 0zm.5 0zm.5 0zm.5 0zm.5 0zm.5 0zm.5 0zm1.5 0zm.5 0zm.5 0zm.5 0zm.5 0zm.5 0zm.5 0zm.5 0zm.5 0zm.5 0zm.5 0zm.5 0zm1 0zm.5 0zm.5 0zm.5 0zm.5 0zm.5 0zm.5 0zm.5 0zm.5 0zm.5 0zm.5 0zm.5 0zm2 0zm.5 0zm1.5 0zm1.5 0zm1 0zm.5 0zm.5 0zm1.5 0zm1 0zm-30.5 .5zm.5 0zm2 0zm.5 0zm1 0zm.5 0zm.5 0zm.5 0zm.5 0zm.5 0zm.5 0zm.5 0zm.5 0zm.5 0zm.5 0zm.5 0zm.5 0zm.5 0zm.5 0zm.5 0zm.5 0zm.5 0zm1 0zm.5 0zm.5 0zm.5 0zm.5 0zm.5 0zm.5 0zm.5 0zm.5 0zm.5 0zm1 0zm.5 0zm.5 0zm.5 0zm1 0zm.5 0zm.5 0zm1.5 0zm2.5 0zm1 0zm.5 0zm.5 0zm1.5 0zm1.5 0zm-31.5 .5zm.5 0zm1 0zm1 0zm.5 0zm1 0zm.5 0zm1.5 0zm.5 0zm.5 0zm1 0zm.5 0zm.5 0zm.5 0zm.5 0zm.5 0zm.5 0zm.5 0zm.5 0zm.5 0zm.5 0zm.5 0zm.5 0zm1 0zm.5 0zm.5 0zm.5 0zm.5 0zm.5 0zm.5 0zm.5 0zm.5 0zm.5 0zm.5 0zm1 0zm.5 0zm.5 0zm.5 0zm.5 0zm1 0zm2 0zm.5 0zm5.5 0zm1.5 0zm-33.5 .5zm.5 0zm1 0zm2 0zm.5 0zm.5 0zm.5 0zm.5 0zm1.5 0zm.5 0zm.5 0zm1 0zm.5 0zm.5 0zm.5 0zm.5 0zm.5 0zm.5 0zm.5 0zm.5 0zm.5 0zm.5 0zm.5 0zm.5 0zm.5 0zm.5 0zm.5 0zm.5 0zm.5 0zm.5 0zm.5 0zm.5 0zm.5 0zm.5 0zm.5 0zm1.5 0zm.5 0zm2 0zm2.5 0zm.5 0zm1 0zm.5 0zm1.5 0zm.5 0zm2 0zm-33 .5zm.5 0zm1.5 0zm1.5 0zm.5 0zm.5 0zm.5 0zm1 0zm.5 0zm.5 0zm.5 0zm.5 0zm.5 0zm.5 0zm.5 0zm.5 0zm.5 0zm.5 0zm.5 0zm.5 0zm.5 0zm.5 0zm.5 0zm.5 0zm.5 0zm.5 0zm.5 0zm.5 0zm.5 0zm.5 0zm.5 0zm.5 0zm.5 0zm.5 0zm.5 0zm1 0zm1 0zm.5 0zm.5 0zm.5 0zm.5 0zm1 0zm1.5 0zm.5 0zm1 0zm1 0zm.5 0zm1 0zm-30 .5zm.5 0zm.5 0zm.5 0zm.5 0zm.5 0zm.5 0zm.5 0zm.5 0zm.5 0zm1 0zm.5 0zm1 0zm1 0zm.5 0zm.5 0zm.5 0zm.5 0zm.5 0zm.5 0zm.5 0zm.5 0zm1 0zm.5 0zm.5 0zm.5 0zm1.5 0zm.5 0zm.5 0zm.5 0zm1 0zm.5 0zm.5 0zm.5 0zm.5 0zm.5 0zm.5 0zm1 0zm1 0zm1 0zm.5 0zm1.5 0zm1 0zm1.5 0zm.5 0zm1.5 0zm10.5 0zm-41.5 .5zm1.5 0zm2 0zm.5 0zm1 0zm.5 0zm.5 0zm1 0zm.5 0zm.5 0zm.5 0zm.5 0zm.5 0zm.5 0zm.5 0zm.5 0zm.5 0zm.5 0zm.5 0zm1 0zm.5 0zm.5 0zm.5 0zm.5 0zm.5 0zm.5 0zm.5 0zm.5 0zm.5 0zm.5 0zm.5 0zm.5 0zm.5 0zm.5 0zm.5 0zm1 0zm1.5 0zm2 0zm1.5 0zm.5 0zm3.5 0zm2.5 0zm2 0zm-35.5 .5zm1.5 0zm1.5 0zm.5 0zm1 0zm.5 0zm.5 0zm.5 0zm.5 0zm.5 0zm.5 0zm.5 0zm.5 0zm.5 0zm.5 0zm.5 0zm.5 0zm.5 0zm.5 0zm.5 0zm.5 0zm.5 0zm.5 0zm1 0zm.5 0zm1 0zm.5 0zm.5 0zm.5 0zm.5 0zm.5 0zm.5 0zm.5 0zm1 0zm.5 0zm.5 0zm2.5 0zm1 0zm.5 0zm.5 0zm6.5 0zm-32.5 .5zm1 0zm.5 0zm.5 0zm.5 0zm.5 0zm.5 0zm.5 0zm1 0zm.5 0zm.5 0zm2 0zm.5 0zm.5 0zm.5 0zm.5 0zm1 0zm.5 0zm.5 0zm.5 0zm.5 0zm.5 0zm.5 0zm.5 0zm.5 0zm.5 0zm1.5 0zm.5 0zm.5 0zm.5 0zm.5 0zm.5 0zm1 0zm.5 0zm.5 0zm.5 0zm1 0zm.5 0zm.5 0zm1.5 0zm.5 0zm2 0zm1 0zm2 0zm-31 .5zm1 0zm1.5 0zm.5 0zm1 0zm1 0zm.5 0zm.5 0zm.5 0zm.5 0zm.5 0zm.5 0zm.5 0zm.5 0zm.5 0zm.5 0zm.5 0zm.5 0zm.5 0zm.5 0zm1 0zm.5 0zm.5 0zm.5 0zm.5 0zm.5 0zm.5 0zm1 0zm.5 0zm.5 0zm.5 0zm.5 0zm2 0zm.5 0zm.5 0zm.5 0zm.5 0zm2 0zm1 0zm.5 0zm1 0zm8 0zm-35.5 .5zm2.5 0zm1 0zm.5 0zm2.5 0zm.5 0zm1 0zm1 0zm.5 0zm.5 0zm.5 0zm.5 0zm.5 0zm.5 0zm.5 0zm.5 0zm.5 0zm.5 0zm1 0zm.5 0zm.5 0zm.5 0zm1 0zm1 0zm.5 0zm.5 0zm.5 0zm.5 0zm1 0zm.5 0zm1.5 0zm1 0zm.5 0zm.5 0zm1 0zm.5 0zm1 0zm-28 .5zm1 0zm1 0zm1 0zm.5 0zm1 0zm.5 0zm1 0zm.5 0zm1 0zm2 0zm1 0zm.5 0zm.5 0zm.5 0zm.5 0zm.5 0zm.5 0zm1 0zm1 0zm.5 0zm.5 0zm.5 0zm.5 0zm1 0zm.5 0zm.5 0zm1 0zm1.5 0zm1 0zm1 0zm1 0zm2.5 0zm3.5 0zm1 0zm1.5 0zm2.5 0zm2.5 0zm-38.5 .5zm1.5 0zm1.5 0zm1.5 0zm.5 0zm1 0zm.5 0zm.5 0zm.5 0zm.5 0zm1 0zm.5 0zm.5 0zm.5 0zm.5 0zm.5 0zm.5 0zm.5 0zm1 0zm.5 0zm.5 0zm.5 0zm.5 0zm1 0zm.5 0zm1.5 0zm.5 0zm.5 0zm1 0zm2 0zm3 0zm.5 0zm3.5 0zm2 0zm-31.5 .5zm.5 0zm.5 0zm1.5 0zm3 0zm.5 0zm.5 0zm1 0zm.5 0zm.5 0zm1 0zm.5 0zm.5 0zm1 0zm.5 0zm.5 0zm.5 0zm1 0zm.5 0zm.5 0zm.5 0zm1 0zm1 0zm1.5 0zm1 0zm.5 0zm.5 0zm.5 0zm.5 0zm2 0zm5.5 0zm.5 0zm-30 .5zm2 0zm3 0zm.5 0zm.5 0zm.5 0zm.5 0zm1 0zm.5 0zm.5 0zm.5 0zm.5 0zm1 0zm.5 0zm.5 0zm.5 0zm1.5 0zm.5 0zm.5 0zm.5 0zm.5 0zm1 0zm.5 0zm.5 0zm1 0zm.5 0zm.5 0zm1 0zm1 0zm.5 0zm1.5 0zm.5 0zm.5 0zm3.5 0zm-28.5 .5zm.5 0zm.5 0zm1.5 0zm.5 0zm.5 0zm2 0zm1 0zm.5 0zm.5 0zm.5 0zm1.5 0zm1 0zm.5 0zm2 0zm.5 0zm.5 0zm.5 0zm.5 0zm.5 0zm1.5 0zm1.5 0zm.5 0zm1 0zm2 0zm.5 0zm2.5 0zm4.5 0zm2.5 0zm1.5 0zm-33.5 .5zm2.5 0zm.5 0zm1 0zm3 0zm.5 0zm.5 0zm.5 0zm1 0zm1 0zm1 0zm.5 0zm1.5 0zm1.5 0zm.5 0zm.5 0zm.5 0zm1 0zm1 0zm.5 0zm1 0zm.5 0zm1 0zm.5 0zm1 0zm1.5 0zm1 0zm4.5 0zm2.5 0zm-32.5 .5zm2.5 0zm2.5 0zm1.5 0zm.5 0zm.5 0zm.5 0zm.5 0zm1.5 0zm1 0zm.5 0zm2 0zm2 0zm.5 0zm.5 0zm1.5 0zm.5 0zm2 0zm1.5 0zm1 0zm1 0zm.5 0zm1.5 0zm2.5 0zm-28.5 .5zm2 0zm1.5 0zm.5 0zm1 0zm3 0zm1 0zm1 0zm.5 0zm.5 0zm1.5 0zm.5 0zm.5 0zm.5 0zm.5 0zm2 0zm.5 0zm1.5 0zm.5 0zm2 0zm3 0zm.5 0zm6.5 0zm-31 .5zm2 0zm2.5 0zm.5 0zm.5 0zm.5 0zm.5 0zm1.5 0zm1 0zm1 0zm1 0zm.5 0zm1 0zm.5 0zm2 0zm.5 0zm.5 0zm.5 0zm1.5 0zm.5 0zm1 0zm2 0zm2 0zm3.5 0zm5 0zm-32 .5zm.5 0zm4 0zm.5 0zm1 0zm1 0zm.5 0zm1.5 0zm1.5 0zm1.5 0zm1 0zm2 0zm1.5 0zm.5 0zm1 0zm.5 0zm1 0zm1.5 0zm1.5 0zm4.5 0zm9 0zm-36 .5zm.5 0zm2 0zm1 0zm1 0zm.5 0zm2.5 0zm2 0zm.5 0zm.5 0zm.5 0zm.5 0zm2 0zm.5 0zm1 0zm.5 0zm1 0zm2 0zm.5 0zm.5 0zm1.5 0zm1.5 0zm5 0zm4.5 0zm-32 .5zm1.5 0zm3 0zm1.5 0zm.5 0zm1 0zm1 0zm.5 0zm.5 0zm.5 0zm.5 0zm1 0zm1 0zm1 0zm.5 0zm2.5 0zm1 0zm1.5 0zm2 0zm1.5 0zm.5 0zm1 0zm5 0zm4 0zm-33 .5zm3 0zm.5 0zm1.5 0zm.5 0zm.5 0zm.5 0zm.5 0zm3.5 0zm1 0zm1 0zm.5 0zm.5 0zm.5 0zm.5 0zm.5 0zm.5 0zm1 0zm3.5 0zm1.5 0zm.5 0zm.5 0zm3 0zm-25 .5zm1.5 0zm1 0zm1 0zm1 0zm1 0zm.5 0zm1 0zm1 0zm1.5 0zm1.5 0zm3 0zm.5 0zm1.5 0zm.5 0zm.5 0zm1 0zm.5 0zm4.5 0zm.5 0zm2 0zm16 0zm-42 .5zm3 0zm1 0zm1 0zm2.5 0zm.5 0zm2.5 0zm1.5 0zm.5 0zm1 0zm3 0zm1 0zm.5 0zm1.5 0zm1.5 0zm-21 .5zm3 0zm1.5 0zm.5 0zm.5 0zm.5 0zm2.5 0zm.5 0zm2 0zm1 0zm3.5 0zm.5 0zm4 0zm-20 .5zm3.5 0zm2 0zm1 0zm.5 0zm.5 0zm.5 0zm1.5 0zm3.5 0zm1.5 0zm1.5 0zm.5 0zm5.5 0zm1.5 0zm3 0zm3.5 0zm-30 .5zm4.5 0zm2 0zm1 0zm.5 0zm1.5 0zm1.5 0zm.5 0zm.5 0zm1.5 0zm.5 0zm1.5 0zm2 0zm4 0zm.5 0zm15 0zm-33 .5zm.5 0zm.5 0zm1 0zm.5 0zm1 0zm1 0zm3 0zm.5 0zm1.5 0zm1 0zm-14.5 .5zm6 0zm1 0zm5 0zm1 0zm3 0zm2 0zm2.5 0zm1.5 0zm-22 .5zm2 0zm2.5 0zm3.5 0zm.5 0zm2 0zm.5 0zm1 0zm.5 0zm.5 0zm1 0zm1 0zm.5 0zm1 0zm5.5 0zm11.5 0zm-32 .5zm3 0zm5 0zm2 0zm.5 0zm5 0zm1.5 0zm1 0zm-13 .5zm3.5 0zm1 0zm1 0zm1.5 0zm-13.5 .5zm1 0zm.5 0zm.5 0zm.5 0zm.5 0zm.5 0zm1 0zm.5 0zm.5 0zm.5 0zm.5 0zm1 0zm1 0zm.5 0zm.5 0zm.5 0zm.5 0zm.5 0zm1 0zm.5 0zm.5 0zm.5 0zm.5 0zm.5 0zm.5 0zm.5 0zm1 0zm.5 0zm.5 0zm1 0zm1 0zm.5 0zm2.5 0zm1 0zm.5 0zm2.5 0zm2 0z"/><path class="g" d="M255.5 31.7V158.1M220.3 112.5H346.5"/><rect class="r" x="262.6" y="66.8" width="43.4" height="85.8"/><path class="f" d="M219.4 31.7H347.5"/><path class="f2" d="M220.3 31.1V158.3H346.6V31.1"/><path class="t" d="M220.3 158.1h-4.2M220.3 158.1v3.8M220.3 126.5h-4.2M251.9 158.1v3.8M220.3 94.9h-4.2M283.4 158.1v3.8M220.3 63.3h-4.2M314.9 158.1v3.8M220.3 31.7h-4.2M346.5 158.1v3.8"/><path class="m" d="M220.3 148.6h-2.4M229.8 158.1v2.5M220.3 143h-2.4M235.4 158.1v2.5M220.3 139.1h-2.4M239.3 158.1v2.5M220.3 136h-2.4M242.4 158.1v2.5M220.3 133.5h-2.4M244.9 158.1v2.5M220.3 131.4h-2.4M247 158.1v2.5M220.3 129.6h-2.4M248.8 158.1v2.5M220.3 127.9h-2.4M250.4 158.1v2.5M220.3 117h-2.4M261.3 158.1v2.5M220.3 111.4h-2.4M266.9 158.1v2.5M220.3 107.5h-2.4M270.8 158.1v2.5M220.3 104.4h-2.4M273.9 158.1v2.5M220.3 101.9h-2.4M276.4 158.1v2.5M220.3 99.8h-2.4M278.5 158.1v2.5M220.3 98h-2.4M280.3 158.1v2.5M220.3 96.3h-2.4M282 158.1v2.5M220.3 85.4h-2.4M292.9 158.1v2.5M220.3 79.8h-2.4M298.5 158.1v2.5M220.3 75.9h-2.4M302.4 158.1v2.5M220.3 72.8h-2.4M305.5 158.1v2.5M220.3 70.3h-2.4M308 158.1v2.5M220.3 68.2h-2.4M310.1 158.1v2.5M220.3 66.4h-2.4M311.9 158.1v2.5M220.3 64.7h-2.4M313.5 158.1v2.5M220.3 53.8h-2.4M324.4 158.1v2.5M220.3 48.2h-2.4M330 158.1v2.5M220.3 44.3h-2.4M333.9 158.1v2.5M220.3 41.2h-2.4M337 158.1v2.5M220.3 38.7h-2.4M339.5 158.1v2.5M220.3 36.6h-2.4M341.6 158.1v2.5M220.3 34.8h-2.4M343.4 158.1v2.5M220.3 33.1h-2.4M345.1 158.1v2.5"/><text class="k y" text-anchor="end" x="215" y="160.9">1</text><text class="k y" text-anchor="end" x="215" y="129.3">10</text><text class="k y" text-anchor="end" x="215" y="97.7">100</text><text class="k y" text-anchor="end" x="215" y="66.1">1000</text><text class="k y" text-anchor="end" x="215" y="34.5">10000</text><text class="k" text-anchor="middle" x="220.6" y="168.9">1</text><text class="k" text-anchor="middle" x="252.2" y="168.9">10</text><text class="k" text-anchor="middle" x="283.7" y="168.9">100</text><text class="k" text-anchor="middle" x="315.2" y="168.9">1000</text><text class="k" text-anchor="middle" x="346.8" y="168.9">10000</text><rect class="b" x="221.2" y="149.9" width="18.3" height="7.3"/><text class="q" x="222" y="39.7">7.68</text><text class="q" text-anchor="end" x="345.6" y="39.7">0.18</text><text class="q" x="222.2" y="156.5">91.3</text><text class="q" text-anchor="end" x="345.6" y="156.4">0.81</text></g>
<g><path class="d" d="M389 85zm-1.5 1zm3 .5zm2 0zm2 .5zm3.5 0zm-16 .5zm7.5 0zm6 0zm-4.5 .5zm4 0zm-4 .5zm2.5 0zm1 0zm-14.5 .5zm17 0zm9.5 0zm-8 .5zm-10.5 .5zm1 0zm1.5 0zm3 0zm-7.5 .5zm9 0zm-13 .5zm6.5 0zm2 0zm1.5 0zm7.5 0zm-19.5 .5zm8.5 0zm6 0zm-7.5 .5zm1.5 0zm4 0zm1 0zm3.5 0zm-17 .5zm4 0zm15.5 0zm2 0zm-21.5 .5zm4 0zm8.5 0zm4 0zm4 0zm-16.5 .5zm.5 0zm3.5 0zm.5 0zm10.5 0zm1.5 0zm-17.5 .5zm.5 0zm8 0zm1.5 0zm-13 .5zm2 0zm6 0zm.5 0zm5.5 0zm.5 0zm3 0zm-13.5 .5zm.5 0zm9.5 0zm1 0zm1.5 0zm5 0zm3 0zm9.5 0zm-34 .5zm3.5 0zm2.5 0zm-2 .5zm1.5 0zm1 0zm2 0zm2 0zm1 0zm2.5 0zm3 0zm1 0zm4 0zm-10 .5zm3 0zm.5 0zm2 0zm3.5 0zm3 0zm-21 .5zm.5 0zm2.5 0zm2 0zm9 0zm11.5 0zm-28.5 .5zm6 0zm5 0zm2 0zm1.5 0zm6 0zm1.5 0zm-22 .5zm5.5 0zm2.5 0zm4.5 0zm.5 0zm1 0zm.5 0zm8.5 0zm-16.5 .5zm10.5 0zm2.5 0zm-19.5 .5zm1.5 0zm2.5 0zm2 0zm5 0zm3 0zm3.5 0zm2 0zm1.5 0zm2 0zm8 0zm-31 .5zm7.5 0zm5 0zm.5 0zm2.5 0zm3 0zm2 0zm1 0zm-18.5 .5zm.5 0zm5 0zm1 0zm1.5 0zm4.5 0zm.5 0zm12.5 0zm3.5 0zm-32 .5zm1 0zm2 0zm2.5 0zm3.5 0zm1 0zm2 0zm.5 0zm.5 0zm1 0zm1.5 0zm6 0zm-21.5 .5zm4 0zm6.5 0zm7 0zm4 0zm2.5 0zm.5 0zm-24.5 .5zm7 0zm1.5 0zm1 0zm7 0zm5 0zm10 0zm-19 .5zm5.5 0zm5.5 0zm9 0zm-32.5 .5zm1.5 0zm11.5 0zm1 0zm2 0zm.5 0zm1 0zm3.5 0zm-17.5 .5zm5.5 0zm1 0zm2.5 0zm1.5 0zm9.5 0zm-23 .5zm1.5 0zm2 0zm1 0zm4.5 0zm2.5 0zm1 0zm.5 0zm2.5 0zm1.5 0zm-16 .5zm.5 0zm5.5 0zm2 0zm2 0zm2 0zm1.5 0zm2.5 0zm6 0zm-23.5 .5zm2 0zm6 0zm.5 0zm2 0zm2 0zm7 0zm.5 0zm-11 .5zm2.5 0zm.5 0zm.5 0zm2 0zm1 0zm2.5 0zm4 0zm-22 .5zm8.5 0zm4 0zm2.5 0zm2 0zm1 0zm3 0zm1.5 0zm1.5 0zm-24 .5zm1 0zm2 0zm.5 0zm1 0zm2.5 0zm.5 0zm1 0zm.5 0zm6 0zm1.5 0zm1.5 0zm4.5 0zm1.5 0zm-24 .5zm8.5 0zm1 0zm1 0zm.5 0zm.5 0zm3.5 0zm2 0zm2 0zm-18 .5zm4 0zm1 0zm.5 0zm1 0zm.5 0zm1 0zm3 0zm1 0zm1 0zm.5 0zm1.5 0zm2 0zm.5 0zm4.5 0zm7.5 0zm6 0zm-33.5 .5zm3.5 0zm.5 0zm.5 0zm.5 0zm1.5 0zm.5 0zm2.5 0zm.5 0zm.5 0zm1.5 0zm.5 0zm1 0zm.5 0zm23 0zm-39.5 .5zm2.5 0zm1 0zm2 0zm.5 0zm2.5 0zm1 0zm.5 0zm1.5 0zm2 0zm.5 0zm1.5 0zm2.5 0zm4.5 0zm1.5 0zm8.5 0zm-33 .5zm4.5 0zm.5 0zm1 0zm1.5 0zm.5 0zm.5 0zm2 0zm1 0zm1 0zm1.5 0zm1 0zm.5 0zm3 0zm.5 0zm1 0zm7.5 0zm-25.5 .5zm3.5 0zm1.5 0zm1.5 0zm2 0zm1 0zm.5 0zm.5 0zm1 0zm.5 0zm.5 0zm.5 0zm1 0zm.5 0zm2 0zm.5 0zm.5 0zm1.5 0zm.5 0zm2 0zm-23.5 .5zm3.5 0zm2 0zm2.5 0zm1.5 0zm1.5 0zm.5 0zm.5 0zm.5 0zm1.5 0zm2.5 0zm.5 0zm2 0zm.5 0zm1 0zm1.5 0zm29 0zm-48 .5zm5.5 0zm1 0zm1.5 0zm.5 0zm1 0zm1 0zm1 0zm.5 0zm2 0zm.5 0zm3.5 0zm1 0zm2.5 0zm4.5 0zm.5 0zm-24 .5zm1.5 0zm.5 0zm.5 0zm4.5 0zm1.5 0zm.5 0zm2 0zm1.5 0zm1 0zm3.5 0zm1.5 0zm-23.5 .5zm4 0zm3.5 0zm.5 0zm2.5 0zm1 0zm2.5 0zm.5 0zm1 0zm1 0zm1 0zm3 0zm1 0zm1 0zm-23 .5zm.5 0zm3.5 0zm1 0zm1.5 0zm.5 0zm1 0zm1 0zm1 0zm.5 0zm.5 0zm1 0zm.5 0zm.5 0zm.5 0zm.5 0zm1 0zm.5 0zm.5 0zm1 0zm.5 0zm1 0zm2 0zm2.5 0zm3.5 0zm1 0zm4 0zm-30 .5zm.5 0zm3.5 0zm.5 0zm.5 0zm.5 0zm1 0zm1 0zm1.5 0zm1 0zm1 0zm.5 0zm.5 0zm.5 0zm.5 0zm.5 0zm.5 0zm1 0zm.5 0zm.5 0zm.5 0zm1.5 0zm2 0zm.5 0zm.5 0zm.5 0zm1.5 0zm2 0zm1 0zm12 0zm12 0zm-49 .5zm.5 0zm4 0zm.5 0zm.5 0zm.5 0zm.5 0zm.5 0zm.5 0zm1.5 0zm.5 0zm1 0zm2 0zm1 0zm.5 0zm.5 0zm.5 0zm1.5 0zm.5 0zm1 0zm3 0zm1.5 0zm-25 .5zm.5 0zm4 0zm.5 0zm.5 0zm.5 0zm.5 0zm.5 0zm.5 0zm1.5 0zm.5 0zm1 0zm.5 0zm.5 0zm1 0zm1.5 0zm2.5 0zm.5 0zm.5 0zm1 0zm.5 0zm.5 0zm.5 0zm2.5 0zm.5 0zm.5 0zm.5 0zm-24 .5zm3 0zm1 0zm1 0zm2 0zm.5 0zm1.5 0zm1 0zm.5 0zm.5 0zm.5 0zm.5 0zm.5 0zm.5 0zm.5 0zm1.5 0zm.5 0zm1 0zm.5 0zm1 0zm1 0zm.5 0zm.5 0zm1.5 0zm1 0zm1 0zm19.5 0zm3.5 0zm1 0zm-47.5 .5zm3 0zm1.5 0zm.5 0zm1 0zm.5 0zm.5 0zm.5 0zm.5 0zm.5 0zm1 0zm.5 0zm1 0zm.5 0zm.5 0zm2.5 0zm1 0zm1 0zm.5 0zm.5 0zm1.5 0zm.5 0zm1 0zm1 0zm.5 0zm.5 0zm1 0zm14.5 0zm-38 .5zm1 0zm2.5 0zm1 0zm1 0zm.5 0zm1 0zm1 0zm.5 0zm.5 0zm1 0zm.5 0zm.5 0zm.5 0zm.5 0zm.5 0zm.5 0zm.5 0zm1 0zm.5 0zm.5 0zm.5 0zm1.5 0zm.5 0zm.5 0zm2.5 0zm2 0zm3.5 0zm18.5 0zm-42.5 .5zm1 0zm1.5 0zm1 0zm.5 0zm.5 0zm1.5 0zm.5 0zm.5 0zm.5 0zm.5 0zm1.5 0zm.5 0zm1 0zm.5 0zm.5 0zm.5 0zm.5 0zm1 0zm1 0zm.5 0zm1 0zm.5 0zm1 0zm1 0zm.5 0zm.5 0zm.5 0zm.5 0zm5.5 0zm1.5 0zm3.5 0zm8 0zm2.5 0zm-44 .5zm1.5 0zm1 0zm.5 0zm.5 0zm.5 0zm.5 0zm.5 0zm2.5 0zm.5 0zm.5 0zm1 0zm.5 0zm.5 0zm1 0zm.5 0zm.5 0zm.5 0zm.5 0zm.5 0zm1 0zm.5 0zm.5 0zm.5 0zm1 0zm.5 0zm.5 0zm2.5 0zm1 0zm.5 0zm1.5 0zm9 0zm10 0zm2 0zm3 0zm.5 0zm12.5 0zm-61.5 .5zm3.5 0zm2 0zm1.5 0zm.5 0zm.5 0zm.5 0zm.5 0zm.5 0zm.5 0zm1 0zm1 0zm.5 0zm.5 0zm.5 0zm.5 0zm.5 0zm.5 0zm.5 0zm1 0zm2 0zm2 0zm.5 0zm.5 0zm.5 0zm2 0zm7 0zm-31 .5zm2.5 0zm.5 0zm.5 0zm.5 0zm1.5 0zm.5 0zm1 0zm.5 0zm.5 0zm.5 0zm.5 0zm.5 0zm.5 0zm.5 0zm.5 0zm1 0zm.5 0zm.5 0zm.5 0zm1.5 0zm.5 0zm.5 0zm.5 0zm.5 0zm1 0zm.5 0zm1 0zm.5 0zm.5 0zm.5 0zm1.5 0zm1.5 0zm2 0zm1 0zm5 0zm15 0zm2.5 0zm-49.5 .5zm.5 0zm.5 0zm.5 0zm.5 0zm2.5 0zm1 0zm.5 0zm1 0zm.5 0zm1.5 0zm.5 0zm1.5 0zm.5 0zm.5 0zm.5 0zm.5 0zm.5 0zm.5 0zm.5 0zm.5 0zm1 0zm.5 0zm.5 0zm.5 0zm1 0zm1 0zm.5 0zm1 0zm1 0zm2 0zm.5 0zm2 0zm1.5 0zm1.5 0zm1 0zm12 0zm3 0zm-45.5 .5zm.5 0zm2 0zm2 0zm2 0zm.5 0zm1 0zm.5 0zm.5 0zm.5 0zm.5 0zm.5 0zm.5 0zm.5 0zm.5 0zm1 0zm1 0zm.5 0zm1.5 0zm.5 0zm1 0zm.5 0zm1.5 0zm2 0zm1 0zm1 0zm2.5 0zm.5 0zm10.5 0zm4 0zm-40 .5zm1 0zm.5 0zm1 0zm.5 0zm1 0zm.5 0zm.5 0zm.5 0zm1 0zm.5 0zm.5 0zm.5 0zm.5 0zm.5 0zm.5 0zm1.5 0zm.5 0zm.5 0zm1.5 0zm.5 0zm.5 0zm1 0zm.5 0zm.5 0zm.5 0zm1 0zm.5 0zm.5 0zm.5 0zm.5 0zm.5 0zm1 0zm.5 0zm.5 0zm9.5 0zm8 0zm3 0zm3 0zm-47 .5zm1 0zm1.5 0zm2 0zm.5 0zm.5 0zm.5 0zm1 0zm.5 0zm.5 0zm.5 0zm.5 0zm.5 0zm.5 0zm.5 0zm.5 0zm.5 0zm.5 0zm1 0zm.5 0zm.5 0zm.5 0zm.5 0zm.5 0zm1 0zm.5 0zm.5 0zm.5 0zm.5 0zm.5 0zm.5 0zm2 0zm.5 0zm.5 0zm.5 0zm.5 0zm.5 0zm3 0zm10 0zm2.5 0zm3.5 0zm8.5 0zm1.5 0zm1.5 0zm-54.5 .5zm2 0zm1 0zm.5 0zm.5 0zm.5 0zm.5 0zm.5 0zm1 0zm.5 0zm.5 0zm.5 0zm.5 0zm.5 0zm.5 0zm1 0zm1 0zm.5 0zm.5 0zm.5 0zm.5 0zm.5 0zm.5 0zm.5 0zm.5 0zm.5 0zm1 0zm1.5 0zm.5 0zm1 0zm.5 0zm.5 0zm1 0zm.5 0zm.5 0zm.5 0zm.5 0zm1 0zm.5 0zm9 0zm.5 0zm1 0zm2.5 0zm13.5 0zm-52 .5zm1 0zm.5 0zm1 0zm1 0zm.5 0zm.5 0zm.5 0zm1 0zm1 0zm.5 0zm.5 0zm1.5 0zm.5 0zm.5 0zm.5 0zm.5 0zm1 0zm.5 0zm.5 0zm.5 0zm1 0zm.5 0zm.5 0zm.5 0zm1 0zm.5 0zm1 0zm.5 0zm.5 0zm.5 0zm1.5 0zm1 0zm.5 0zm.5 0zm.5 0zm2 0zm.5 0zm2 0zm16.5 0zm5.5 0zm11 0zm-62 .5zm.5 0zm2 0zm.5 0zm.5 0zm.5 0zm.5 0zm.5 0zm1 0zm.5 0zm.5 0zm.5 0zm.5 0zm.5 0zm.5 0zm.5 0zm.5 0zm.5 0zm.5 0zm.5 0zm1 0zm.5 0zm.5 0zm1 0zm.5 0zm.5 0zm.5 0zm2 0zm.5 0zm.5 0zm.5 0zm.5 0zm.5 0zm1 0zm.5 0zm1 0zm.5 0zm.5 0zm6.5 0zm10 0zm2 0zm-42.5 .5zm.5 0zm.5 0zm1.5 0zm.5 0zm.5 0zm.5 0zm1 0zm.5 0zm.5 0zm.5 0zm.5 0zm.5 0zm.5 0zm.5 0zm1 0zm.5 0zm.5 0zm.5 0zm.5 0zm.5 0zm.5 0zm1 0zm.5 0zm.5 0zm.5 0zm1 0zm1 0zm.5 0zm.5 0zm.5 0zm.5 0zm.5 0zm1 0zm.5 0zm.5 0zm2.5 0zm2.5 0zm4 0zm6 0zm14 0zm2 0zm.5 0zm-53 .5zm.5 0zm1 0zm.5 0zm.5 0zm1.5 0zm.5 0zm.5 0zm1 0zm.5 0zm1 0zm.5 0zm.5 0zm.5 0zm.5 0zm.5 0zm.5 0zm.5 0zm.5 0zm.5 0zm.5 0zm.5 0zm.5 0zm.5 0zm.5 0zm.5 0zm.5 0zm.5 0zm.5 0zm.5 0zm.5 0zm.5 0zm.5 0zm.5 0zm1.5 0zm.5 0zm.5 0zm.5 0zm1 0zm.5 0zm3.5 0zm1 0zm1.5 0zm7.5 0zm.5 0zm8 0zm1.5 0zm7.5 0zm-54.5 .5zm2 0zm.5 0zm.5 0zm.5 0zm1.5 0zm.5 0zm.5 0zm.5 0zm.5 0zm.5 0zm.5 0zm.5 0zm.5 0zm.5 0zm.5 0zm.5 0zm.5 0zm.5 0zm.5 0zm.5 0zm.5 0zm.5 0zm.5 0zm.5 0zm.5 0zm1.5 0zm1 0zm.5 0zm1 0zm.5 0zm1 0zm.5 0zm.5 0zm.5 0zm.5 0zm.5 0zm1 0zm1 0zm4.5 0zm1 0zm1 0zm16.5 0zm3.5 0zm6 0zm-57.5 .5zm1 0zm.5 0zm.5 0zm.5 0zm.5 0zm.5 0zm.5 0zm.5 0zm.5 0zm.5 0zm.5 0zm.5 0zm.5 0zm.5 0zm.5 0zm.5 0zm.5 0zm.5 0zm.5 0zm.5 0zm1 0zm.5 0zm.5 0zm.5 0zm.5 0zm.5 0zm1 0zm.5 0zm.5 0zm.5 0zm.5 0zm1 0zm.5 0zm.5 0zm.5 0zm.5 0zm.5 0zm1 0zm.5 0zm1 0zm.5 0zm1.5 0zm1.5 0zm.5 0zm2 0zm2.5 0zm1 0zm7 0zm7.5 0zm4.5 0zm2.5 0zm-54 .5zm.5 0zm.5 0zm.5 0zm1 0zm1.5 0zm.5 0zm.5 0zm.5 0zm.5 0zm.5 0zm1 0zm.5 0zm.5 0zm.5 0zm.5 0zm.5 0zm.5 0zm.5 0zm.5 0zm.5 0zm.5 0zm.5 0zm1.5 0zm.5 0zm.5 0zm.5 0zm.5 0zm.5 0zm.5 0zm.5 0zm.5 0zm.5 0zm.5 0zm.5 0zm.5 0zm2.5 0zm1.5 0zm2 0zm1 0zm5 0zm4.5 0zm3 0zm13 0zm-53 .5zm1.5 0zm.5 0zm1 0zm.5 0zm.5 0zm.5 0zm.5 0zm.5 0zm.5 0zm1.5 0zm1 0zm1 0zm1 0zm.5 0zm.5 0zm.5 0zm.5 0zm.5 0zm.5 0zm.5 0zm1 0zm.5 0zm1 0zm.5 0zm.5 0zm.5 0zm.5 0zm.5 0zm.5 0zm.5 0zm.5 0zm1 0zm.5 0zm1 0zm3 0zm.5 0zm.5 0zm21 0zm9 0zm-57 .5zm1.5 0zm.5 0zm.5 0zm1 0zm.5 0zm.5 0zm.5 0zm.5 0zm.5 0zm.5 0zm.5 0zm.5 0zm.5 0zm.5 0zm.5 0zm.5 0zm.5 0zm.5 0zm.5 0zm.5 0zm.5 0zm.5 0zm.5 0zm.5 0zm.5 0zm.5 0zm.5 0zm.5 0zm.5 0zm.5 0zm.5 0zm.5 0zm.5 0zm.5 0zm.5 0zm.5 0zm.5 0zm.5 0zm.5 0zm1 0zm.5 0zm.5 0zm1.5 0zm.5 0zm1 0zm1.5 0zm1 0zm22 0zm5.5 0zm2 0zm-58 .5zm1.5 0zm1 0zm1 0zm.5 0zm1.5 0zm.5 0zm.5 0zm.5 0zm.5 0zm.5 0zm.5 0zm.5 0zm.5 0zm.5 0zm.5 0zm.5 0zm.5 0zm.5 0zm.5 0zm.5 0zm.5 0zm.5 0zm.5 0zm.5 0zm.5 0zm.5 0zm.5 0zm.5 0zm.5 0zm.5 0zm.5 0zm.5 0zm.5 0zm.5 0zm.5 0zm.5 0zm2 0zm.5 0zm.5 0zm2 0zm.5 0zm1 0zm1.5 0zm2 0zm3 0zm1 0zm11 0zm4 0zm19 0zm-69 .5zm.5 0zm2.5 0zm.5 0zm.5 0zm1 0zm.5 0zm.5 0zm.5 0zm.5 0zm.5 0zm.5 0zm1 0zm.5 0zm.5 0zm.5 0zm.5 0zm.5 0zm.5 0zm.5 0zm.5 0zm.5 0zm1 0zm.5 0zm.5 0zm.5 0zm.5 0zm.5 0zm.5 0zm.5 0zm.5 0zm.5 0zm.5 0zm.5 0zm.5 0zm1 0zm1 0zm.5 0zm2 0zm.5 0zm.5 0zm.5 0zm.5 0zm3 0zm.5 0zm.5 0zm2.5 0zm3.5 0zm1 0zm2 0zm.5 0zm2 0zm6 0zm.5 0zm2.5 0zm5.5 0zm3 0zm-60 .5zm.5 0zm.5 0zm1.5 0zm.5 0zm1.5 0zm.5 0zm1 0zm.5 0zm.5 0zm1 0zm.5 0zm.5 0zm.5 0zm.5 0zm.5 0zm.5 0zm.5 0zm.5 0zm.5 0zm.5 0zm.5 0zm.5 0zm.5 0zm.5 0zm.5 0zm.5 0zm.5 0zm.5 0zm.5 0zm.5 0zm.5 0zm.5 0zm.5 0zm.5 0zm.5 0zm.5 0zm3 0zm1 0zm2.5 0zm.5 0zm.5 0zm1 0zm1.5 0zm3 0zm3 0zm.5 0zm3.5 0zm1.5 0zm2.5 0zm12.5 0zm-57.5 .5zm2.5 0zm.5 0zm.5 0zm1 0zm.5 0zm.5 0zm.5 0zm1 0zm.5 0zm.5 0zm.5 0zm.5 0zm.5 0zm.5 0zm.5 0zm.5 0zm.5 0zm.5 0zm.5 0zm.5 0zm.5 0zm.5 0zm.5 0zm.5 0zm.5 0zm.5 0zm.5 0zm.5 0zm.5 0zm.5 0zm.5 0zm.5 0zm.5 0zm.5 0zm.5 0zm.5 0zm.5 0zm.5 0zm.5 0zm.5 0zm1 0zm1 0zm4.5 0zm5.5 0zm3 0zm8 0zm1.5 0zm7 0zm5.5 0zm3 0zm-63 .5zm.5 0zm.5 0zm.5 0zm.5 0zm.5 0zm.5 0zm.5 0zm.5 0zm.5 0zm.5 0zm.5 0zm.5 0zm.5 0zm.5 0zm.5 0zm.5 0zm.5 0zm.5 0zm.5 0zm.5 0zm.5 0zm.5 0zm.5 0zm.5 0zm.5 0zm.5 0zm.5 0zm.5 0zm.5 0zm1.5 0zm.5 0zm.5 0zm.5 0zm.5 0zm.5 0zm.5 0zm.5 0zm.5 0zm.5 0zm.5 0zm.5 0zm.5 0zm.5 0zm.5 0zm.5 0zm1.5 0zm1 0zm1 0zm7 0zm3.5 0zm.5 0zm2.5 0zm3 0zm11.5 0zm-55 .5zm2 0zm1 0zm.5 0zm.5 0zm.5 0zm.5 0zm1 0zm.5 0zm.5 0zm.5 0zm.5 0zm.5 0zm.5 0zm.5 0zm.5 0zm.5 0zm.5 0zm.5 0zm.5 0zm.5 0zm.5 0zm.5 0zm.5 0zm.5 0zm1 0zm.5 0zm.5 0zm.5 0zm.5 0zm.5 0zm.5 0zm.5 0zm.5 0zm.5 0zm.5 0zm1 0zm1 0zm.5 0zm.5 0zm9 0zm2.5 0zm11.5 0zm1 0zm1 0zm-48.5 .5zm2.5 0zm.5 0zm1 0zm.5 0zm.5 0zm.5 0zm.5 0zm.5 0zm.5 0zm.5 0zm.5 0zm.5 0zm.5 0zm.5 0zm.5 0zm.5 0zm.5 0zm.5 0zm.5 0zm.5 0zm.5 0zm.5 0zm.5 0zm.5 0zm.5 0zm.5 0zm.5 0zm.5 0zm.5 0zm.5 0zm.5 0zm.5 0zm.5 0zm.5 0zm.5 0zm.5 0zm.5 0zm.5 0zm.5 0zm.5 0zm.5 0zm.5 0zm.5 0zm1 0zm1 0zm1 0zm3.5 0zm1 0zm4.5 0zm6 0zm1 0zm1.5 0zm2.5 0zm5 0zm.5 0zm2.5 0zm4.5 0zm-59.5 .5zm1.5 0zm1 0zm1.5 0zm1 0zm.5 0zm.5 0zm.5 0zm.5 0zm.5 0zm.5 0zm1 0zm.5 0zm.5 0zm1 0zm.5 0zm.5 0zm.5 0zm.5 0zm.5 0zm.5 0zm.5 0zm.5 0zm.5 0zm.5 0zm.5 0zm.5 0zm.5 0zm.5 0zm.5 0zm.5 0zm.5 0zm1.5 0zm.5 0zm.5 0zm.5 0zm1.5 0zm1.5 0zm4.5 0zm.5 0zm1.5 0zm11 0zm.5 0zm2.5 0zm1 0zm4 0zm4 0zm-55 .5zm1.5 0zm.5 0zm.5 0zm1 0zm.5 0zm.5 0zm.5 0zm1 0zm1 0zm.5 0zm.5 0zm1 0zm.5 0zm.5 0zm.5 0zm1 0zm.5 0zm.5 0zm1 0zm.5 0zm.5 0zm.5 0zm.5 0zm.5 0zm.5 0zm.5 0zm.5 0zm.5 0zm.5 0zm.5 0zm.5 0zm.5 0zm.5 0zm.5 0zm.5 0zm.5 0zm.5 0zm.5 0zm1.5 0zm3.5 0zm3 0zm3 0zm1 0zm1 0zm.5 0zm3 0zm1 0zm3.5 0zm4 0zm1 0zm-49 .5zm1 0zm.5 0zm.5 0zm.5 0zm.5 0zm.5 0zm.5 0zm.5 0zm.5 0zm.5 0zm.5 0zm.5 0zm1 0zm.5 0zm.5 0zm.5 0zm.5 0zm.5 0zm.5 0zm.5 0zm1 0zm.5 0zm.5 0zm.5 0zm.5 0zm.5 0zm.5 0zm.5 0zm.5 0zm.5 0zm.5 0zm.5 0zm1 0zm.5 0zm.5 0zm.5 0zm.5 0zm.5 0zm.5 0zm.5 0zm.5 0zm.5 0zm1 0zm.5 0zm.5 0zm3.5 0zm7 0zm1 0zm5 0zm8.5 0zm2 0zm.5 0zm-52.5 .5zm1.5 0zm.5 0zm.5 0zm.5 0zm.5 0zm.5 0zm.5 0zm.5 0zm.5 0zm.5 0zm.5 0zm.5 0zm.5 0zm.5 0zm.5 0zm.5 0zm.5 0zm.5 0zm.5 0zm1 0zm.5 0zm.5 0zm.5 0zm.5 0zm.5 0zm.5 0zm.5 0zm.5 0zm.5 0zm.5 0zm.5 0zm.5 0zm.5 0zm.5 0zm.5 0zm1 0zm.5 0zm.5 0zm.5 0zm.5 0zm.5 0zm1 0zm1.5 0zm.5 0zm1 0zm1 0zm1.5 0zm5.5 0zm1.5 0zm4 0zm3 0zm.5 0zm7.5 0zm5 0zm2 0zm-58 .5zm.5 0zm1 0zm1.5 0zm1 0zm1 0zm.5 0zm.5 0zm.5 0zm.5 0zm.5 0zm.5 0zm.5 0zm.5 0zm.5 0zm.5 0zm.5 0zm.5 0zm.5 0zm.5 0zm.5 0zm.5 0zm.5 0zm.5 0zm.5 0zm1 0zm1 0zm.5 0zm.5 0zm.5 0zm.5 0zm.5 0zm.5 0zm.5 0zm1.5 0zm.5 0zm.5 0zm1 0zm1 0zm1.5 0zm1 0zm2 0zm1.5 0zm2 0zm4 0zm5.5 0zm1 0zm1 0zm1.5 0zm3.5 0zm10.5 0zm-59.5 .5zm.5 0zm.5 0zm1.5 0zm.5 0zm.5 0zm.5 0zm.5 0zm.5 0zm.5 0zm.5 0zm.5 0zm.5 0zm.5 0zm.5 0zm.5 0zm.5 0zm.5 0zm.5 0zm.5 0zm.5 0zm.5 0zm.5 0zm.5 0zm.5 0zm.5 0zm.5 0zm.5 0zm.5 0zm.5 0zm.5 0zm.5 0zm.5 0zm.5 0zm.5 0zm1 0zm.5 0zm.5 0zm.5 0zm.5 0zm1 0zm.5 0zm1 0zm1 0zm.5 0zm1 0zm.5 0zm2 0zm1 0zm6.5 0zm2 0zm2 0zm.5 0zm17 0zm-57.5 .5zm.5 0zm.5 0zm1 0zm.5 0zm1 0zm1 0zm.5 0zm.5 0zm.5 0zm.5 0zm.5 0zm.5 0zm.5 0zm.5 0zm1 0zm.5 0zm.5 0zm.5 0zm1 0zm.5 0zm.5 0zm.5 0zm.5 0zm.5 0zm.5 0zm.5 0zm.5 0zm.5 0zm.5 0zm.5 0zm.5 0zm.5 0zm.5 0zm.5 0zm1 0zm.5 0zm1 0zm.5 0zm.5 0zm.5 0zm.5 0zm.5 0zm2 0zm1 0zm.5 0zm1 0zm.5 0zm3.5 0zm3 0zm1 0zm.5 0zm5 0zm.5 0zm4 0zm11 0zm1 0zm7 0zm-66 .5zm.5 0zm.5 0zm.5 0zm1 0zm.5 0zm.5 0zm.5 0zm.5 0zm.5 0zm.5 0zm.5 0zm.5 0zm.5 0zm.5 0zm.5 0zm.5 0zm.5 0zm.5 0zm.5 0zm.5 0zm.5 0zm.5 0zm.5 0zm.5 0zm.5 0zm.5 0zm.5 0zm.5 0zm.5 0zm.5 0zm.5 0zm.5 0zm.5 0zm.5 0zm.5 0zm.5 0zm.5 0zm.5 0zm1 0zm.5 0zm.5 0zm.5 0zm.5 0zm1 0zm2 0zm.5 0zm.5 0zm.5 0zm.5 0zm.5 0zm6.5 0zm10 0zm2 0zm5 0zm4.5 0zm-56 .5zm.5 0zm.5 0zm.5 0zm1.5 0zm.5 0zm.5 0zm.5 0zm.5 0zm.5 0zm.5 0zm.5 0zm.5 0zm.5 0zm.5 0zm.5 0zm.5 0zm.5 0zm.5 0zm.5 0zm.5 0zm.5 0zm.5 0zm.5 0zm.5 0zm.5 0zm.5 0zm.5 0zm.5 0zm.5 0zm.5 0zm.5 0zm.5 0zm.5 0zm1 0zm.5 0zm.5 0zm.5 0zm.5 0zm.5 0zm.5 0zm.5 0zm.5 0zm1 0zm4.5 0zm.5 0zm4 0zm4 0zm1.5 0zm8.5 0zm1 0zm-47.5 .5zm.5 0zm.5 0zm.5 0zm1.5 0zm.5 0zm.5 0zm.5 0zm.5 0zm.5 0zm.5 0zm.5 0zm.5 0zm.5 0zm1 0zm1 0zm.5 0zm.5 0zm.5 0zm.5 0zm.5 0zm.5 0zm.5 0zm.5 0zm.5 0zm.5 0zm.5 0zm.5 0zm.5 0zm.5 0zm.5 0zm.5 0zm.5 0zm.5 0zm.5 0zm.5 0zm.5 0zm.5 0zm1 0zm.5 0zm.5 0zm.5 0zm.5 0zm1 0zm1.5 0zm3 0zm1 0zm5 0zm1.5 0zm3 0zm1.5 0zm1.5 0zm4 0zm3.5 0zm17.5 0zm-67.5 .5zm1 0zm.5 0zm1 0zm.5 0zm.5 0zm.5 0zm.5 0zm.5 0zm.5 0zm1 0zm.5 0zm.5 0zm.5 0zm.5 0zm.5 0zm.5 0zm.5 0zm.5 0zm.5 0zm.5 0zm1 0zm.5 0zm.5 0zm.5 0zm.5 0zm.5 0zm.5 0zm.5 0zm.5 0zm.5 0zm1 0zm.5 0zm.5 0zm.5 0zm.5 0zm.5 0zm.5 0zm1.5 0zm1 0zm1 0zm.5 0zm.5 0zm.5 0zm1.5 0zm3.5 0zm3 0zm2 0zm1.5 0zm8 0zm13.5 0zm.5 0zm-59.5 .5zm.5 0zm.5 0zm1 0zm1 0zm.5 0zm1 0zm1 0zm.5 0zm1 0zm.5 0zm.5 0zm.5 0zm.5 0zm.5 0zm.5 0zm.5 0zm.5 0zm.5 0zm.5 0zm.5 0zm.5 0zm.5 0zm.5 0zm.5 0zm.5 0zm.5 0zm.5 0zm.5 0zm1 0zm.5 0zm1 0zm.5 0zm.5 0zm.5 0zm1.5 0zm.5 0zm1 0zm.5 0zm2.5 0zm.5 0zm1.5 0zm.5 0zm.5 0zm1.5 0zm1.5 0zm3.5 0zm2.5 0zm1 0zm1 0zm5.5 0zm2.5 0zm-48.5 .5zm2 0zm.5 0zm.5 0zm.5 0zm.5 0zm.5 0zm.5 0zm.5 0zm.5 0zm.5 0zm.5 0zm.5 0zm.5 0zm.5 0zm.5 0zm.5 0zm.5 0zm.5 0zm.5 0zm.5 0zm.5 0zm.5 0zm.5 0zm.5 0zm.5 0zm.5 0zm.5 0zm.5 0zm.5 0zm.5 0zm.5 0zm.5 0zm.5 0zm.5 0zm.5 0zm.5 0zm1 0zm.5 0zm.5 0zm1 0zm.5 0zm.5 0zm.5 0zm.5 0zm.5 0zm1 0zm1 0zm3.5 0zm1 0zm1.5 0zm2.5 0zm.5 0zm3 0zm3 0zm2 0zm4 0zm6.5 0zm.5 0zm1 0zm-56 .5zm1.5 0zm1 0zm1 0zm1 0zm1 0zm1 0zm.5 0zm1 0zm.5 0zm.5 0zm.5 0zm.5 0zm.5 0zm.5 0zm.5 0zm.5 0zm.5 0zm.5 0zm.5 0zm.5 0zm.5 0zm.5 0zm.5 0zm.5 0zm.5 0zm.5 0zm.5 0zm.5 0zm.5 0zm.5 0zm.5 0zm.5 0zm1 0zm.5 0zm.5 0zm1.5 0zm1.5 0zm.5 0zm.5 0zm1.5 0zm.5 0zm.5 0zm1 0zm1 0zm.5 0zm8.5 0zm4.5 0zm4.5 0zm1 0zm-49.5 .5zm1 0zm1 0zm1 0zm.5 0zm.5 0zm.5 0zm.5 0zm.5 0zm1 0zm.5 0zm.5 0zm.5 0zm.5 0zm.5 0zm.5 0zm.5 0zm.5 0zm.5 0zm.5 0zm.5 0zm.5 0zm.5 0zm.5 0zm.5 0zm.5 0zm.5 0zm.5 0zm.5 0zm.5 0zm.5 0zm.5 0zm.5 0zm.5 0zm.5 0zm.5 0zm.5 0zm1 0zm.5 0zm.5 0zm.5 0zm.5 0zm.5 0zm.5 0zm1 0zm.5 0zm.5 0zm.5 0zm.5 0zm.5 0zm2 0zm5.5 0zm.5 0zm.5 0zm1 0zm1 0zm5.5 0zm10 0zm2 0zm5 0zm-60.5 .5zm1.5 0zm1 0zm1.5 0zm.5 0zm.5 0zm.5 0zm.5 0zm.5 0zm.5 0zm.5 0zm.5 0zm.5 0zm.5 0zm.5 0zm.5 0zm.5 0zm.5 0zm.5 0zm.5 0zm.5 0zm.5 0zm.5 0zm.5 0zm.5 0zm.5 0zm.5 0zm.5 0zm.5 0zm.5 0zm.5 0zm.5 0zm.5 0zm.5 0zm.5 0zm.5 0zm1 0zm1 0zm1 0zm1.5 0zm1 0zm.5 0zm1 0zm.5 0zm9 0zm.5 0zm.5 0zm2 0zm.5 0zm9.5 0zm-49.5 .5zm.5 0zm.5 0zm2 0zm1 0zm1 0zm.5 0zm.5 0zm.5 0zm.5 0zm.5 0zm.5 0zm.5 0zm.5 0zm.5 0zm.5 0zm.5 0zm.5 0zm.5 0zm.5 0zm.5 0zm.5 0zm.5 0zm.5 0zm.5 0zm.5 0zm.5 0zm.5 0zm.5 0zm.5 0zm.5 0zm1 0zm1 0zm1 0zm.5 0zm1 0zm.5 0zm.5 0zm.5 0zm.5 0zm1.5 0zm.5 0zm1.5 0zm3 0zm1 0zm2.5 0zm.5 0zm6.5 0zm2.5 0zm.5 0zm7.5 0zm3.5 0zm6.5 0zm-61.5 .5zm.5 0zm.5 0zm1 0zm1 0zm.5 0zm.5 0zm.5 0zm.5 0zm.5 0zm.5 0zm.5 0zm.5 0zm1 0zm.5 0zm.5 0zm.5 0zm.5 0zm.5 0zm.5 0zm.5 0zm.5 0zm.5 0zm.5 0zm.5 0zm.5 0zm.5 0zm.5 0zm.5 0zm.5 0zm.5 0zm.5 0zm1 0zm.5 0zm.5 0zm.5 0zm.5 0zm.5 0zm.5 0zm.5 0zm1 0zm.5 0zm1 0zm.5 0zm1 0zm1.5 0zm4 0zm3.5 0zm6 0zm4.5 0zm6 0zm3.5 0zm1 0zm-55.5 .5zm1 0zm.5 0zm.5 0zm.5 0zm1 0zm.5 0zm.5 0zm.5 0zm.5 0zm.5 0zm1.5 0zm.5 0zm.5 0zm.5 0zm.5 0zm.5 0zm.5 0zm.5 0zm.5 0zm.5 0zm.5 0zm.5 0zm.5 0zm.5 0zm.5 0zm.5 0zm1 0zm.5 0zm1 0zm.5 0zm1.5 0zm.5 0zm.5 0zm.5 0zm.5 0zm1 0zm.5 0zm.5 0zm1.5 0zm.5 0zm.5 0zm1.5 0zm.5 0zm.5 0zm6 0zm2 0zm6.5 0zm18 0zm-61 .5zm.5 0zm.5 0zm.5 0zm1 0zm.5 0zm1.5 0zm.5 0zm.5 0zm.5 0zm.5 0zm1 0zm.5 0zm.5 0zm.5 0zm.5 0zm.5 0zm.5 0zm.5 0zm.5 0zm.5 0zm.5 0zm.5 0zm.5 0zm.5 0zm.5 0zm.5 0zm.5 0zm1 0zm.5 0zm.5 0zm.5 0zm.5 0zm.5 0zm.5 0zm.5 0zm1 0zm1 0zm.5 0zm.5 0zm.5 0zm2.5 0zm.5 0zm6 0zm1 0zm5 0zm5 0zm7 0zm-50.5 .5zm1 0zm.5 0zm1 0zm.5 0zm1.5 0zm.5 0zm.5 0zm.5 0zm.5 0zm.5 0zm.5 0zm.5 0zm1 0zm.5 0zm.5 0zm.5 0zm.5 0zm.5 0zm.5 0zm1 0zm.5 0zm1 0zm.5 0zm.5 0zm.5 0zm.5 0zm.5 0zm.5 0zm.5 0zm1 0zm.5 0zm.5 0zm1 0zm.5 0zm2 0zm.5 0zm1.5 0zm1 0zm2 0zm1 0zm.5 0zm1 0zm1 0zm1 0zm3 0zm4.5 0zm12 0zm2.5 0zm1.5 0zm2.5 0zm.5 0zm3 0zm-62.5 .5zm1.5 0zm.5 0zm.5 0zm.5 0zm1 0zm1 0zm.5 0zm.5 0zm.5 0zm.5 0zm.5 0zm.5 0zm.5 0zm.5 0zm.5 0zm.5 0zm.5 0zm.5 0zm.5 0zm.5 0zm.5 0zm.5 0zm.5 0zm.5 0zm.5 0zm.5 0zm1 0zm.5 0zm.5 0zm.5 0zm.5 0zm.5 0zm.5 0zm.5 0zm.5 0zm1.5 0zm1 0zm.5 0zm.5 0zm3 0zm2.5 0zm.5 0zm1.5 0zm3 0zm6.5 0zm5.5 0zm2 0zm3 0zm12.5 0zm-63.5 .5zm1 0zm1.5 0zm1.5 0zm.5 0zm.5 0zm.5 0zm.5 0zm.5 0zm.5 0zm.5 0zm.5 0zm.5 0zm.5 0zm.5 0zm.5 0zm.5 0zm.5 0zm.5 0zm.5 0zm.5 0zm1.5 0zm.5 0zm.5 0zm.5 0zm.5 0zm.5 0zm.5 0zm.5 0zm.5 0zm.5 0zm.5 0zm.5 0zm.5 0zm.5 0zm.5 0zm1 0zm.5 0zm.5 0zm.5 0zm.5 0zm.5 0zm.5 0zm1.5 0zm3.5 0zm8 0zm18.5 0zm-56.5 .5zm1 0zm.5 0zm.5 0zm.5 0zm1 0zm.5 0zm1 0zm1 0zm.5 0zm1 0zm.5 0zm.5 0zm.5 0zm.5 0zm.5 0zm.5 0zm.5 0zm.5 0zm.5 0zm.5 0zm1 0zm.5 0zm.5 0zm.5 0zm.5 0zm.5 0zm.5 0zm.5 0zm.5 0zm.5 0zm.5 0zm.5 0zm.5 0zm.5 0zm.5 0zm.5 0zm2.5 0zm1 0zm1 0zm1 0zm2 0zm1 0zm.5 0zm7.5 0zm.5 0zm.5 0zm2 0zm1.5 0zm6 0zm1.5 0zm-49.5 .5zm1 0zm1 0zm1.5 0zm.5 0zm.5 0zm.5 0zm.5 0zm.5 0zm1 0zm.5 0zm.5 0zm.5 0zm.5 0zm.5 0zm1 0zm1 0zm.5 0zm1 0zm.5 0zm.5 0zm.5 0zm.5 0zm.5 0zm.5 0zm.5 0zm.5 0zm2 0zm.5 0zm.5 0zm1 0zm1 0zm1 0zm.5 0zm1.5 0zm.5 0zm2 0zm.5 0zm7 0zm7.5 0zm2 0zm3 0zm6.5 0zm4 0zm8 0zm-66 .5zm3 0zm.5 0zm.5 0zm.5 0zm.5 0zm1 0zm.5 0zm.5 0zm.5 0zm.5 0zm.5 0zm.5 0zm.5 0zm.5 0zm.5 0zm.5 0zm.5 0zm.5 0zm1 0zm.5 0zm.5 0zm.5 0zm.5 0zm.5 0zm1 0zm.5 0zm.5 0zm.5 0zm.5 0zm.5 0zm.5 0zm.5 0zm.5 0zm.5 0zm1 0zm.5 0zm.5 0zm.5 0zm.5 0zm1.5 0zm.5 0zm8 0zm5 0zm2 0zm3.5 0zm1 0zm9 0zm-54.5 .5zm1.5 0zm1.5 0zm.5 0zm1 0zm1 0zm1.5 0zm1 0zm1 0zm.5 0zm.5 0zm.5 0zm.5 0zm.5 0zm.5 0zm.5 0zm.5 0zm.5 0zm.5 0zm.5 0zm.5 0zm.5 0zm1 0zm.5 0zm.5 0zm.5 0zm.5 0zm1.5 0zm.5 0zm.5 0zm1 0zm.5 0zm.5 0zm.5 0zm1 0zm.5 0zm1 0zm.5 0zm1 0zm4 0zm.5 0zm15 0zm9 0zm2.5 0zm-58 .5zm.5 0zm.5 0zm2.5 0zm1 0zm.5 0zm.5 0zm.5 0zm1 0zm.5 0zm.5 0zm.5 0zm.5 0zm.5 0zm.5 0zm.5 0zm.5 0zm.5 0zm.5 0zm.5 0zm.5 0zm.5 0zm1 0zm1 0zm.5 0zm.5 0zm1 0zm.5 0zm.5 0zm.5 0zm2.5 0zm.5 0zm1 0zm.5 0zm1 0zm1 0zm.5 0zm2 0zm1.5 0zm1.5 0zm1 0zm5 0zm2 0zm18.5 0zm-58 .5zm2 0zm1 0zm.5 0zm1.5 0zm.5 0zm.5 0zm.5 0zm.5 0zm.5 0zm.5 0zm.5 0zm1 0zm.5 0zm.5 0zm.5 0zm1 0zm.5 0zm.5 0zm.5 0zm.5 0zm.5 0zm1 0zm2 0zm.5 0zm.5 0zm.5 0zm.5 0zm1.5 0zm1.5 0zm.5 0zm.5 0zm5 0zm1 0zm1.5 0zm6 0zm1.5 0zm6 0zm6 0zm2 0zm-52.5 .5zm.5 0zm2 0zm2 0zm1 0zm.5 0zm.5 0zm.5 0zm.5 0zm1 0zm.5 0zm.5 0zm.5 0zm1 0zm.5 0zm.5 0zm.5 0zm.5 0zm.5 0zm.5 0zm.5 0zm.5 0zm.5 0zm.5 0zm.5 0zm.5 0zm.5 0zm.5 0zm1 0zm.5 0zm.5 0zm1 0zm.5 0zm.5 0zm3 0zm.5 0zm8.5 0zm11.5 0zm1.5 0zm2 0zm4 0zm17.5 0zm-70.5 .5zm1.5 0zm1.5 0zm.5 0zm2 0zm.5 0zm.5 0zm.5 0zm.5 0zm.5 0zm.5 0zm.5 0zm.5 0zm1 0zm1 0zm.5 0zm.5 0zm.5 0zm.5 0zm1 0zm1 0zm.5 0zm1 0zm.5 0zm.5 0zm.5 0zm.5 0zm.5 0zm1 0zm1 0zm2.5 0zm1 0zm.5 0zm1.5 0zm2 0zm1 0zm8 0zm13.5 0zm-51.5 .5zm1 0zm1 0zm1 0zm.5 0zm.5 0zm1 0zm.5 0zm.5 0zm.5 0zm.5 0zm1 0zm.5 0zm.5 0zm.5 0zm1 0zm.5 0zm.5 0zm.5 0zm.5 0zm.5 0zm.5 0zm1 0zm.5 0zm.5 0zm.5 0zm1 0zm.5 0zm.5 0zm.5 0zm.5 0zm.5 0zm2.5 0zm.5 0zm2.5 0zm1.5 0zm6 0zm3 0zm2.5 0zm6.5 0zm-44.5 .5zm2.5 0zm.5 0zm.5 0zm.5 0zm.5 0zm1.5 0zm.5 0zm1 0zm1.5 0zm.5 0zm.5 0zm.5 0zm.5 0zm.5 0zm.5 0zm.5 0zm.5 0zm1 0zm.5 0zm.5 0zm1.5 0zm.5 0zm.5 0zm.5 0zm.5 0zm.5 0zm.5 0zm.5 0zm.5 0zm.5 0zm.5 0zm.5 0zm1 0zm1.5 0zm.5 0zm3.5 0zm1 0zm8.5 0zm4 0zm1 0zm1.5 0zm2.5 0zm-47 .5zm.5 0zm3.5 0zm1.5 0zm.5 0zm.5 0zm.5 0zm.5 0zm.5 0zm1 0zm1.5 0zm.5 0zm.5 0zm1.5 0zm.5 0zm.5 0zm.5 0zm.5 0zm1 0zm1 0zm.5 0zm.5 0zm1.5 0zm1.5 0zm1 0zm1 0zm1 0zm.5 0zm.5 0zm.5 0zm1.5 0zm1.5 0zm.5 0zm3 0zm2 0zm4.5 0zm5 0zm15.5 0zm-59 .5zm.5 0zm1 0zm.5 0zm1 0zm.5 0zm.5 0zm.5 0zm.5 0zm2 0zm.5 0zm1.5 0zm.5 0zm1 0zm.5 0zm1 0zm.5 0zm2 0zm.5 0zm1 0zm1 0zm1.5 0zm1 0zm1 0zm.5 0zm1 0zm1 0zm4 0zm2.5 0zm3.5 0zm23 0zm-56 .5zm2.5 0zm.5 0zm.5 0zm1 0zm1 0zm.5 0zm1.5 0zm.5 0zm.5 0zm1 0zm1.5 0zm.5 0zm.5 0zm1 0zm1 0zm.5 0zm1 0zm1 0zm.5 0zm.5 0zm.5 0zm.5 0zm.5 0zm2.5 0zm3 0zm1 0zm1.5 0zm1 0zm4.5 0zm1.5 0zm1.5 0zm7.5 0zm6.5 0zm-49.5 .5zm.5 0zm1 0zm3.5 0zm1.5 0zm1.5 0zm.5 0zm.5 0zm1 0zm.5 0zm1 0zm1 0zm.5 0zm.5 0zm.5 0zm.5 0zm1 0zm1 0zm.5 0zm.5 0zm.5 0zm1 0zm2.5 0zm1.5 0zm4 0zm.5 0zm2.5 0zm.5 0zm14.5 0zm4.5 0zm6.5 0zm-56 .5zm2.5 0zm1.5 0zm1 0zm.5 0zm1 0zm.5 0zm.5 0zm.5 0zm.5 0zm1 0zm1 0zm.5 0zm.5 0zm.5 0zm.5 0zm.5 0zm1 0zm1 0zm.5 0zm1 0zm.5 0zm.5 0zm2 0zm1.5 0zm.5 0zm1 0zm.5 0zm3.5 0zm33.5 0zm-60 .5zm.5 0zm4 0zm1 0zm2.5 0zm.5 0zm.5 0zm.5 0zm.5 0zm.5 0zm.5 0zm1 0zm1.5 0zm1.5 0zm1 0zm.5 0zm1 0zm.5 0zm1 0zm.5 0zm.5 0zm1 0zm1 0zm.5 0zm8.5 0zm.5 0zm8.5 0zm-40 .5zm.5 0zm.5 0zm2 0zm.5 0zm.5 0zm1 0zm.5 0zm1 0zm.5 0zm1 0zm1 0zm.5 0zm.5 0zm.5 0zm2 0zm.5 0zm.5 0zm.5 0zm.5 0zm1 0zm.5 0zm.5 0zm.5 0zm.5 0zm1 0zm1 0zm3 0zm7 0zm16.5 0zm-46 .5zm1.5 0zm1.5 0zm2 0zm.5 0zm.5 0zm.5 0zm2 0zm.5 0zm.5 0zm.5 0zm.5 0zm.5 0zm1 0zm.5 0zm1 0zm.5 0zm.5 0zm.5 0zm.5 0zm.5 0zm.5 0zm.5 0zm.5 0zm1 0zm2 0zm.5 0zm1 0zm2 0zm1 0zm1 0zm3 0zm2.5 0zm13.5 0zm-45 .5zm2.5 0zm1 0zm1 0zm.5 0zm1 0zm.5 0zm1 0zm.5 0zm.5 0zm.5 0zm.5 0zm.5 0zm.5 0zm.5 0zm1 0zm.5 0zm.5 0zm.5 0zm1 0zm1 0zm.5 0zm1 0zm.5 0zm1.5 0zm.5 0zm1.5 0zm.5 0zm1 0zm.5 0zm10 0zm14 0zm-46 .5zm.5 0zm3.5 0zm.5 0zm1 0zm3 0zm3 0zm2.5 0zm.5 0zm.5 0zm1 0zm.5 0zm1 0zm.5 0zm.5 0zm1 0zm2 0zm.5 0zm27 0zm.5 0zm-50.5 .5zm2 0zm1 0zm.5 0zm1 0zm1 0zm1 0zm1.5 0zm1 0zm1 0zm1 0zm1.5 0zm.5 0zm.5 0zm.5 0zm.5 0zm1.5 0zm1.5 0zm3 0zm.5 0zm.5 0zm3.5 0zm1 0zm24.5 0zm-50.5 .5zm3.5 0zm1 0zm2 0zm1 0zm1 0zm1 0zm.5 0zm2 0zm1 0zm.5 0zm1 0zm.5 0zm.5 0zm1 0zm.5 0zm2 0zm2 0zm1 0zm3 0zm3 0zm19 0zm.5 0zm-47.5 .5zm7 0zm2 0zm1.5 0zm1 0zm1 0zm1 0zm.5 0zm.5 0zm.5 0zm.5 0zm1 0zm.5 0zm2.5 0zm2.5 0zm1 0zm5.5 0zm2 0zm-28.5 .5zm.5 0zm2 0zm1 0zm.5 0zm1.5 0zm.5 0zm.5 0zm.5 0zm.5 0zm1.5 0zm1 0zm.5 0zm1 0zm1 0zm1 0zm1 0zm1 0zm1.5 0zm.5 0zm1.5 0zm2 0zm3.5 0zm26 0zm-52.5 .5zm5.5 0zm1 0zm.5 0zm2 0zm1 0zm.5 0zm1.5 0zm.5 0zm1 0zm.5 0zm4 0zm2 0zm5 0zm8 0zm1 0zm26 0zm-57 .5zm6.5 0zm2.5 0zm.5 0zm.5 0zm.5 0zm1 0zm.5 0zm.5 0zm.5 0zm1 0zm1 0zm1.5 0zm1.5 0zm1 0zm1.5 0zm-23.5 .5zm4.5 0zm.5 0zm6 0zm1 0zm1.5 0zm1 0zm1.5 0zm.5 0zm1 0zm.5 0zm1 0zm15.5 0zm8 0zm5 0zm-47.5 .5zm5 0zm.5 0zm.5 0zm2.5 0zm2.5 0zm.5 0zm1 0zm1 0zm1.5 0zm.5 0zm.5 0zm9.5 0zm-25.5 .5zm5 0zm1 0zm.5 0zm3 0zm3.5 0zm2 0zm.5 0zm2.5 0zm8 0zm14 0zm-31.5 .5zm1 0zm1 0zm.5 0zm2.5 0zm1 0zm4 0zm2 0zm2 0zm15.5 0zm3.5 0zm4.5 0zm-42 .5zm.5 0zm3.5 0zm.5 0zm3.5 0zm1 0zm-9.5 .5zm.5 0zm6.5 0zm10 0zm2 0zm-21.5 .5zm6.5 0zm.5 0zm1.5 0zm.5 0zm.5 0zm1 0zm6.5 0zm-18 .5zm2 0zm7 0zm3.5 0zm2.5 0zm.5 0zm.5 0zm.5 0zm2.5 0zm3 0zm1.5 0zm-17 .5zm1 0zm3 0zm5 0zm.5 0zm1 0zm10 0zm-23.5 .5zm3 0zm3.5 0zm4.5 0zm19.5 0zm-34 .5zm.5 0zm1.5 0zm1 0zm.5 0zm1 0zm.5 0zm.5 0zm1 0zm2 0zm.5 0zm.5 0zm.5 0zm.5 0zm.5 0zm1 0zm1 0zm.5 0zm1.5 0zm.5 0zm.5 0zm.5 0zm.5 0zm.5 0zm1 0zm.5 0zm1 0zm1 0zm1.5 0zm1.5 0zm15.5 0z"/><path class="g" d="M411.5 31.7V158.1M379.5 112.5H505.9"/><rect class="r" x="415.9" y="66.8" width="37.1" height="36.5"/><path class="f" d="M378.6 31.7H506.9"/><path class="f2" d="M379.5 31.1V158.3H506V31.1"/><path class="t" d="M379.5 158.1h-4.2M379.5 158.1v3.8M379.5 126.5h-4.2M411.1 158.1v3.8M379.5 94.9h-4.2M442.7 158.1v3.8M379.5 63.3h-4.2M474.3 158.1v3.8M379.5 31.7h-4.2M505.9 158.1v3.8"/><path class="m" d="M379.5 148.6h-2.4M389 158.1v2.5M379.5 143h-2.4M394.6 158.1v2.5M379.5 139.1h-2.4M398.5 158.1v2.5M379.5 136h-2.4M401.6 158.1v2.5M379.5 133.5h-2.4M404.1 158.1v2.5M379.5 131.4h-2.4M406.2 158.1v2.5M379.5 129.6h-2.4M408 158.1v2.5M379.5 127.9h-2.4M409.7 158.1v2.5M379.5 117h-2.4M420.6 158.1v2.5M379.5 111.4h-2.4M426.2 158.1v2.5M379.5 107.5h-2.4M430.1 158.1v2.5M379.5 104.4h-2.4M433.2 158.1v2.5M379.5 101.9h-2.4M435.7 158.1v2.5M379.5 99.8h-2.4M437.8 158.1v2.5M379.5 98h-2.4M439.6 158.1v2.5M379.5 96.3h-2.4M441.3 158.1v2.5M379.5 85.4h-2.4M452.2 158.1v2.5M379.5 79.8h-2.4M457.8 158.1v2.5M379.5 75.9h-2.4M461.7 158.1v2.5M379.5 72.8h-2.4M464.8 158.1v2.5M379.5 70.3h-2.4M467.3 158.1v2.5M379.5 68.2h-2.4M469.4 158.1v2.5M379.5 66.4h-2.4M471.2 158.1v2.5M379.5 64.7h-2.4M472.9 158.1v2.5M379.5 53.8h-2.4M483.8 158.1v2.5M379.5 48.2h-2.4M489.4 158.1v2.5M379.5 44.3h-2.4M493.3 158.1v2.5M379.5 41.2h-2.4M496.4 158.1v2.5M379.5 38.7h-2.4M498.9 158.1v2.5M379.5 36.6h-2.4M501 158.1v2.5M379.5 34.8h-2.4M502.8 158.1v2.5M379.5 33.1h-2.4M504.5 158.1v2.5"/><text class="k y" text-anchor="end" x="374.2" y="160.9">1</text><text class="k y" text-anchor="end" x="374.2" y="129.3">10</text><text class="k y" text-anchor="end" x="374.2" y="97.7">100</text><text class="k y" text-anchor="end" x="374.2" y="66.1">1000</text><text class="k y" text-anchor="end" x="374.2" y="34.5">10000</text><text class="k" text-anchor="middle" x="379.8" y="168.9">1</text><text class="k" text-anchor="middle" x="411.4" y="168.9">10</text><text class="k" text-anchor="middle" x="443" y="168.9">100</text><text class="k" text-anchor="middle" x="474.6" y="168.9">1000</text><text class="k" text-anchor="middle" x="506.2" y="168.9">10000</text><rect class="b" x="380.4" y="149.9" width="18.3" height="7.3"/><text class="q" x="381.2" y="39.7">10</text><text class="q" text-anchor="end" x="505" y="39.7">0.47</text><text class="q" x="381.4" y="156.5">84.7</text><text class="q" text-anchor="end" x="505" y="156.4">4.86</text></g>
<g><path class="e" d="M93.5 286.5zm-9 1zm-5 1zm1 0zm5 0zm-13 1zm9 1zm7 0zm-15 2zm15 0zm-8 1zm1 0zm-10 1zm2 0zm4 0zm-9 1zm10 0zm-4 1zm11 0zm1 0zm3 0zm-17 1zm15 0zm26 0zm-40 1zm3 0zm6 0zm1 0zm-6 1zm3 0zm10 0zm2 0zm2 0zm29 0zm-46 1zm6 0zm2 0zm1 0zm2 0zm-19 1zm16 0zm4 0zm-19 1zm21 0zm5 0zm-18 1zm3 0zm5 0zm-11 1zm1 0zm3 0zm3 0zm2 0zm43 0zm-46 1zm12 0zm-27 1zm6 0zm10 0zm2 0zm63 0zm-72 1zm3 0zm3 0zm1 0zm6 0zm2 0zm-20 1zm2 0zm3 0zm3 0zm3 0zm5 0zm44 0zm-53 1zm1 0zm3 0zm1 0zm7 0zm3 0zm33 0zm-51 1zm4 0zm1 0zm1 0zm2 0zm2 0zm48 0zm-61 1zm6 0zm2 0zm1 0zm2 0zm1 0zm4 0zm22 0zm5 0zm-44 1zm8 0zm1 0zm13 0zm10 0zm14 0zm2 0zm-45 1zm8 0zm2 0zm3 0zm29 0zm13 0zm-52 1zm4 0zm46 0zm5 0zm-59 1zm2 0zm3 0zm3 0zm6 0zm2 0zm7 0zm17 0zm7 0zm-45 1zm7 0zm5 0zm12 0zm24 0zm-50 1zm12 0zm1 0zm26 0zm5 0zm2 0zm-44 1zm5 0zm2 0zm1 0zm4 0zm1 0zm33 0zm-38 1zm1 0zm40 0zm25 0zm-74 1zm10 0zm4 0zm30 0zm18 0zm-61 1zm1 0zm6 0zm21 0zm2 0zm32 0zm-53 1zm2 0zm38 0zm-44 1zm10 0zm-9 1zm22 0zm9 0zm6 0zm7 0zm-51 1zm6 0zm1 0zm2 0zm3 0zm23 0zm4 0zm9 0zm3 0zm-48 1zm14 0zm13 0zm3 0zm31 0zm1 0zm3 0zm-68 1zm5 0zm1 0zm1 0zm8 0zm13 0zm11 0zm8 0zm1 0zm4 0zm2 0zm-46 1zm6 0zm17 0zm1 0zm8 0zm1 0zm3 0zm7 0zm2 0zm-43 1zm26 0zm3 0zm8 0zm7 0zm3 0zm-56 1zm3 0zm7 0zm34 0zm6 0zm6 0zm-58 1zm10 0zm29 0zm7 0zm1 0zm7 0zm3 0zm6 0zm-57 1zm37 0zm20 0zm3 0zm-52 1zm28 0zm5 0zm13 0zm8 0zm-66 1zm9 0zm4 0zm2 0zm27 0zm-41 1zm10 0zm6 0zm19 0zm7 0zm2 0zm3 0zm16 0zm-62 1zm27 0zm6 0zm4 0zm3 0zm8 0zm1 0zm1 0zm6 0zm-44 1zm5 0zm11 0zm7 0zm4 0zm6 0zm17 0zm-71 1zm2 0zm11 0zm5 0zm1 0zm27 0zm6 0zm4 0zm8 0zm19 0zm-76 1zm10 0zm7 0zm28 0zm2 0zm3 0zm4 0zm2 0zm-53 1zm1 0zm0 1zm4 0zm11 0zm28 0zm8 0zm-61 1zm6 0zm1 0zm39 0zm13 0zm3 0zm-65 1zm6 0zm2 0zm8 0zm4 0zm30 0zm-34 1zm1 0zm7 0zm8 0zm11 0zm33 0zm-67 1zm3 0zm5 0zm6 0zm3 0zm1 0zm1 0zm24 0zm4 0zm2 0zm-54 1zm8 0zm1 0zm4 0zm2 0zm1 0zm1 0zm1 0zm30 0zm9 0zm6 0zm4 0zm3 0zm-78 1zm61 0zm17 0zm16 0zm-93 1zm4 0zm8 0zm2 0zm6 0zm28 0zm4 0zm2 0zm33 0zm-80 1zm1 0zm3 0zm1 0zm1 0zm5 0zm1 0zm5 0zm14 0zm37 0zm2 0zm3 0zm-83 1zm2 0zm5 0zm1 0zm4 0zm1 0zm1 0zm2 0zm1 0zm5 0zm2 0zm1 0zm7 0zm1 0zm16 0zm10 0zm12 0zm-63 1zm5 0zm4 0zm3 0zm2 0zm5 0zm4 0zm2 0zm2 0zm24 0zm14 0zm-73 1zm1 0zm5 0zm5 0zm10 0zm1 0zm2 0zm8 0zm12 0zm11 0zm3 0zm-53 1zm1 0zm5 0zm6 0zm1 0zm4 0zm1 0zm3 0zm8 0zm37 0zm31 0zm-99 1zm4 0zm1 0zm6 0zm3 0zm1 0zm1 0zm3 0zm3 0zm1 0zm1 0zm-13 1zm1 0zm1 0zm2 0zm1 0zm10 0zm3 0zm31 0zm8 0zm25 0zm-89 1zm1 0zm5 0zm3 0zm5 0zm1 0zm4 0zm3 0zm6 0zm43 0zm-76 1zm1 0zm4 0zm2 0zm4 0zm1 0zm2 0zm2 0zm3 0zm2 0zm1 0zm4 0zm1 0zm9 0zm11 0zm16 0zm1 0zm7 0zm6 0zm2 0zm-73 1zm4 0zm5 0zm1 0zm3 0zm1 0zm6 0zm2 0zm1 0zm4 0zm1 0zm26 0zm-62 1zm14 0zm2 0zm3 0zm1 0zm3 0zm1 0zm3 0zm6 0zm1 0zm-32 1zm2 0zm5 0zm1 0zm4 0zm2 0zm1 0zm1 0zm1 0zm1 0zm1 0zm6 0zm1 0zm1 0zm19 0zm13 0zm9 0zm11 0zm7 0zm-84 1zm3 0zm4 0zm1 0zm1 0zm3 0zm3 0zm1 0zm1 0zm1 0zm4 0zm3 0zm2 0zm5 0zm33 0zm-67 1zm6 0zm2 0zm3 0zm3 0zm1 0zm1 0zm7 0zm1 0zm2 0zm10 0zm26 0zm40 0zm-104 1zm5 0zm9 0zm1 0zm3 0zm2 0zm1 0zm1 0zm1 0zm1 0zm1 0zm1 0zm1 0zm2 0zm1 0zm3 0zm20 0zm9 0zm1 0zm8 0zm-69 1zm7 0zm1 0zm1 0zm1 0zm1 0zm3 0zm4 0zm2 0zm1 0zm2 0zm2 0zm4 0zm1 0zm6 0zm24 0zm2 0zm4 0zm2 0zm26 0zm-91 1zm1 0zm1 0zm7 0zm2 0zm1 0zm1 0zm1 0zm1 0zm1 0zm2 0zm1 0zm2 0zm1 0zm1 0zm1 0zm2 0zm3 0zm3 0zm5 0zm20 0zm19 0zm-79 1zm5 0zm5 0zm1 0zm1 0zm2 0zm2 0zm1 0zm2 0zm2 0zm3 0zm1 0zm5 0zm2 0zm3 0zm30 0zm-58 1zm1 0zm4 0zm2 0zm1 0zm2 0zm1 0zm1 0zm1 0zm1 0zm2 0zm1 0zm2 0zm3 0zm17 0zm31 0zm-72 1zm2 0zm2 0zm2 0zm1 0zm1 0zm1 0zm1 0zm9 0zm1 0zm1 0zm3 0zm17 0zm20 0zm-55 1zm2 0zm1 0zm1 0zm1 0zm1 0zm2 0zm2 0zm1 0zm25 0zm22 0zm5 0zm-76 1zm1 0zm8 0zm2 0zm1 0zm2 0zm1 0zm1 0zm1 0zm1 0zm1 0zm1 0zm1 0zm1 0zm2 0zm6 0zm39 0zm-67 1zm5 0zm13 0zm2 0zm1 0zm1 0zm1 0zm1 0zm3 0zm3 0zm11 0zm47 0zm-90 1zm4 0zm3 0zm4 0zm2 0zm1 0zm1 0zm1 0zm1 0zm1 0zm2 0zm1 0zm1 0zm7 0zm1 0zm1 0zm3 0zm-26 1zm4 0zm1 0zm2 0zm3 0zm1 0zm1 0zm1 0zm5 0zm3 0zm1 0zm6 0zm2 0zm22 0zm5 0zm-65 1zm6 0zm3 0zm4 0zm3 0zm1 0zm1 0zm23 0zm15 0zm9 0zm-61 1zm13 0zm1 0zm8 0zm10 0zm4 0zm12 0zm-52 1zm12 0zm6 0zm3 0zm2 0zm1 0zm7 0zm4 0zm22 0zm-55 1zm21 0zm4 0zm30 0zm-52 1zm2 0zm3 0zm5 0zm6 0zm35 0zm-51 1zm17 0zm6 0zm8 0zm-34 1zm9 0zm4 0zm2 0zm20 0zm-32 1zm8 0zm4 0zm8 0zm11 0zm-28 1zm1 0zm1 0zm6 0zm4 0zm1 0zm7 0zm-25 1zm10 0zm4 0zm2 0zm2 0zm2 0zm9 0zm1 0zm-27 1zm8 0zm10 0zm-10 1zm1 0zm8 0z"/><path class="g" d="M99.5 264.3V386.3M60 346.5H181.6"/><path class="f" d="M59.1 264.3H182.6"/><path class="f2" d="M60 263.7V386.5H181.7V263.7"/><path class="t" d="M60 386.3h-4.2M60 386.3v2.5M60 355.8h-4.2M90.4 386.3v2.5M60 325.3h-4.2M120.8 386.3v2.5M60 294.8h-4.2M151.2 386.3v2.5M60 264.3h-4.2M181.6 386.3v2.5"/><path class="m" d="M60 377.1h-2.4M69.2 386.3v1.6M60 371.7h-2.4M74.5 386.3v1.6M60 367.9h-2.4M78.3 386.3v1.6M60 365h-2.4M81.2 386.3v1.6M60 362.6h-2.4M83.7 386.3v1.6M60 360.5h-2.4M85.7 386.3v1.6M60 358.8h-2.4M87.5 386.3v1.6M60 357.2h-2.4M89 386.3v1.6M60 346.6h-2.4M99.6 386.3v1.6M60 341.2h-2.4M104.9 386.3v1.6M60 337.4h-2.4M108.7 386.3v1.6M60 334.5h-2.4M111.6 386.3v1.6M60 332.1h-2.4M114.1 386.3v1.6M60 330h-2.4M116.1 386.3v1.6M60 328.3h-2.4M117.9 386.3v1.6M60 326.7h-2.4M119.4 386.3v1.6M60 316.1h-2.4M130 386.3v1.6M60 310.7h-2.4M135.3 386.3v1.6M60 306.9h-2.4M139.1 386.3v1.6M60 304h-2.4M142 386.3v1.6M60 301.6h-2.4M144.5 386.3v1.6M60 299.5h-2.4M146.5 386.3v1.6M60 297.8h-2.4M148.3 386.3v1.6M60 296.2h-2.4M149.8 386.3v1.6M60 285.6h-2.4M160.4 386.3v1.6M60 280.2h-2.4M165.7 386.3v1.6M60 276.4h-2.4M169.5 386.3v1.6M60 273.5h-2.4M172.4 386.3v1.6M60 271.1h-2.4M174.9 386.3v1.6M60 269h-2.4M176.9 386.3v1.6M60 267.3h-2.4M178.7 386.3v1.6M60 265.7h-2.4M180.2 386.3v1.6"/><text class="k y" text-anchor="end" x="54.7" y="389.1">1</text><text class="k y" text-anchor="end" x="54.7" y="358.6">10</text><text class="k y" text-anchor="end" x="54.7" y="328.1">100</text><text class="k y" text-anchor="end" x="54.7" y="297.6">1000</text><text class="k y" text-anchor="end" x="54.7" y="267.1">10000</text><rect fill="#fff" x="60.9" y="378.7" width="16.5" height="6.6"/><text class="q" x="61.7" y="272.3">23.5</text><text class="q" text-anchor="end" x="180.7" y="272.3">12.2</text><text class="q" x="61.9" y="384.7">56.8</text><text class="q" text-anchor="end" x="180.7" y="384.6">7.45</text></g>
<g><path class="e" d="M230.5 290.5zm9 1zm2 1zm5 0zm-12 1zm-4 1zm3 0zm2 0zm11 0zm-8 1zm8 0zm-10 1zm-5 1zm7 0zm5 0zm-13 1zm17 0zm-11 1zm2 1zm2 0zm3 0zm-21 1zm10 0zm8 0zm1 0zm1 0zm5 0zm-20 1zm5 0zm13 0zm-13 1zm2 0zm4 0zm1 0zm-8 1zm3 0zm9 0zm-13 1zm3 0zm14 2zm3 0zm-21 1zm3 0zm3 0zm9 0zm-21 1zm6 0zm14 0zm2 0zm3 0zm1 0zm-26 1zm6 0zm4 0zm1 0zm-7 1zm9 0zm5 0zm4 0zm-10 1zm8 0zm1 0zm1 0zm-20 1zm5 0zm6 0zm4 0zm2 0zm3 0zm3 0zm-15 1zm-12 1zm12 0zm3 0zm9 0zm8 0zm-22 1zm4 0zm2 0zm5 0zm5 0zm-26 1zm10 0zm1 0zm3 0zm3 0zm4 0zm1 0zm-15 1zm1 0zm7 0zm1 0zm2 0zm3 0zm8 0zm-17 1zm3 0zm3 1zm2 0zm3 0zm6 0zm-19 1zm4 0zm2 0zm1 0zm1 0zm2 0zm1 0zm4 0zm-24 1zm5 0zm6 0zm1 0zm4 0zm-17 1zm14 0zm1 0zm2 0zm9 0zm-13 1zm3 0zm7 0zm5 0zm-26 1zm2 0zm6 0zm4 0zm9 0zm-14 1zm5 0zm8 0zm-22 1zm5 0zm7 0zm5 0zm2 0zm-11 1zm2 0zm4 0zm2 0zm3 0zm1 0zm-10 1zm8 0zm1 0zm10 0zm1 0zm-12 1zm2 0zm-16 1zm3 0zm3 0zm5 0zm4 0zm1 0zm1 0zm1 0zm-14 1zm11 0zm1 0zm-20 1zm9 0zm4 0zm2 0zm1 0zm8 0zm9 0zm-22 1zm3 0zm1 0zm1 0zm6 0zm-2 1zm-19 2zm4 0zm10 0zm6 0zm-16 1zm15 0zm-12 1zm5 0zm-2 1zm7 0zm2 0zm-7 1zm2 0zm1 0zm1 0zm19 0zm-26 1zm2 0zm5 0zm5 0zm2 0zm-15 1zm-5 1zm6 0zm2 0zm-10 1zm7 0zm4 0zm1 0zm8 0zm5 0zm-27 1zm3 0zm8 0zm6 0zm-17 1zm15 0zm1 0zm12 0zm1 0zm2 0zm-31 1zm3 0zm5 0zm2 0zm1 0zm-11 1zm3 0zm8 0zm4 0zm3 0zm1 0zm4 0zm1 0zm5 0zm14 0zm-41 1zm3 0zm2 0zm7 0zm2 0zm10 0zm-19 1zm4 0zm2 0zm4 0zm1 0zm3 0zm3 0zm1 0zm1 0zm-23 1zm6 0zm1 0zm2 0zm1 0zm2 0zm1 0zm3 0zm3 0zm1 0zm4 0zm-27 1zm8 0zm6 0zm2 0zm2 0zm1 0zm1 0zm3 0zm-23 1zm7 0zm4 0zm1 0zm1 0zm5 0zm2 0zm8 0zm1 0zm-29 1zm1 0zm4 0zm1 0zm6 0zm2 0zm3 0zm12 0zm-28 1zm3 0zm3 0zm4 0zm1 0zm7 0zm1 0zm1 0zm1 0zm-22 1zm1 0zm7 0zm4 0zm2 0zm1 0zm1 0zm2 0zm2 0zm-20 1zm5 0zm1 0zm1 0zm1 0zm1 0zm1 0zm3 0zm4 0zm2 0zm6 0zm1 0zm8 0zm-34 1zm6 0zm1 0zm2 0zm1 0zm2 0zm1 0zm1 0zm1 0zm2 0zm1 0zm3 0zm2 0zm4 0zm-27 1zm3 0zm1 0zm1 0zm3 0zm1 0zm1 0zm1 0zm1 0zm1 0zm1 0zm1 0zm4 0zm7 0zm-26 1zm2 0zm3 0zm3 0zm1 0zm3 0zm2 0zm1 0zm1 0zm1 0zm6 0zm1 0zm2 0zm1 0zm5 0zm1 0zm3 0zm-36 1zm3 0zm2 0zm1 0zm5 0zm3 0zm2 0zm1 0zm1 0zm1 0zm2 0zm1 0zm6 0zm-28 1zm2 0zm2 0zm2 0zm3 0zm1 0zm1 0zm1 0zm5 0zm2 0zm2 0zm1 0zm1 0zm6 0zm-29 1zm1 0zm1 0zm3 0zm2 0zm2 0zm2 0zm1 0zm1 0zm2 0zm1 0zm1 0zm1 0zm5 0zm2 0zm2 0zm-27 1zm2 0zm3 0zm1 0zm1 0zm4 0zm7 0zm1 0zm12 0zm1 0zm-32 1zm1 0zm3 0zm1 0zm3 0zm2 0zm1 0zm3 0zm1 0zm2 0zm1 0zm1 0zm3 0zm3 0zm4 0zm3 0zm-32 1zm5 0zm1 0zm1 0zm1 0zm3 0zm2 0zm1 0zm2 0zm1 0zm4 0zm3 0zm1 0zm2 0zm-26 1zm2 0zm1 0zm1 0zm8 0zm2 0zm1 0zm1 0zm7 0zm2 0zm-26 1zm2 0zm2 0zm2 0zm4 0zm1 0zm2 0zm1 0zm1 0zm1 0zm1 0zm7 0zm-23 1zm5 0zm3 0zm1 0zm3 0zm2 0zm1 0zm1 0zm1 0zm1 0zm1 0zm1 0zm-19 1zm3 0zm2 0zm3 0zm1 0zm3 0zm3 0zm2 0zm3 0zm3 0zm13 0zm-38 1zm1 0zm2 0zm1 0zm3 0zm4 0zm3 0zm1 0zm3 0zm2 0zm11 0zm-31 1zm1 0zm6 0zm3 0zm5 0zm1 0zm1 0zm1 0zm3 0zm4 0zm-23 1zm7 0zm4 0zm6 0zm1 0zm3 0zm2 0zm2 0zm8 0zm-33 1zm1 0zm1 0zm3 0zm2 0zm1 0zm9 0zm3 0zm2 0zm1 0zm-25 1zm1 0zm9 0zm4 0zm1 0zm3 0zm7 0zm1 0zm6 0zm-29 1zm2 0zm2 0zm4 0zm4 0zm1 0zm5 0zm4 0zm-21 1zm3 0zm2 0zm6 0zm2 0zm6 0zm-23 1zm6 0zm3 0zm8 0zm11 0zm2 0zm-27 1zm13 0zm12 0zm-24 1zm8 2zm4 0zm1 0zm-12 1zm7 0zm3 0zm-15 1zm18 0zm-16 2zm2 0zm4 0zm1 0zm6 0zm14 0z"/><path class="g" d="M261.5 262.5V388.3M220.6 347.5H346.5"/><rect class="r" x="269" y="298.8" width="43.4" height="85.7"/><path class="f" d="M219.7 262.5H347.5"/><path class="f2" d="M220.6 261.9V388.5H346.6V261.9"/><path class="t" d="M220.6 388.3h-4.2M220.6 388.3v1.3M220.6 356.9h-4.2M252.1 388.3v1.3M220.6 325.4h-4.2M283.6 388.3v1.3M220.6 293.9h-4.2M315 388.3v1.3M220.6 262.5h-4.2M346.5 388.3v1.3"/><path class="m" d="M220.6 378.8h-2.4M230.1 388.3v.9M220.6 373.3h-2.4M235.6 388.3v.9M220.6 369.4h-2.4M239.5 388.3v.9M220.6 366.3h-2.4M242.6 388.3v.9M220.6 363.8h-2.4M245.1 388.3v.9M220.6 361.7h-2.4M247.2 388.3v.9M220.6 359.9h-2.4M249 388.3v.9M220.6 358.3h-2.4M250.6 388.3v.9M220.6 347.4h-2.4M261.5 388.3v.9M220.6 341.8h-2.4M267.1 388.3v.9M220.6 337.9h-2.4M271 388.3v.9M220.6 334.9h-2.4M274.1 388.3v.9M220.6 332.4h-2.4M276.6 388.3v.9M220.6 330.3h-2.4M278.7 388.3v.9M220.6 328.4h-2.4M280.5 388.3v.9M220.6 326.8h-2.4M282.1 388.3v.9M220.6 315.9h-2.4M293 388.3v.9M220.6 310.4h-2.4M298.6 388.3v.9M220.6 306.5h-2.4M302.5 388.3v.9M220.6 303.4h-2.4M305.6 388.3v.9M220.6 300.9h-2.4M308 388.3v.9M220.6 298.8h-2.4M310.1 388.3v.9M220.6 297h-2.4M312 388.3v.9M220.6 295.4h-2.4M313.6 388.3v.9M220.6 284.5h-2.4M324.5 388.3v.9M220.6 278.9h-2.4M330 388.3v.9M220.6 275h-2.4M334 388.3v.9M220.6 272h-2.4M337 388.3v.9M220.6 269.5h-2.4M339.5 388.3v.9M220.6 267.4h-2.4M341.6 388.3v.9M220.6 265.5h-2.4M343.4 388.3v.9M220.6 263.9h-2.4M345.1 388.3v.9"/><text class="k y" text-anchor="end" x="215.3" y="391.1">1</text><text class="k y" text-anchor="end" x="215.3" y="359.7">10</text><text class="k y" text-anchor="end" x="215.3" y="328.2">100</text><text class="k y" text-anchor="end" x="215.3" y="296.8">1000</text><text class="k y" text-anchor="end" x="215.3" y="265.3">10000</text><rect fill="#fff" x="221.5" y="380.7" width="16.5" height="6.6"/><text class="q" x="222.3" y="270.5">29.2</text><text class="q" text-anchor="end" x="345.6" y="270.5">0</text><text class="q" x="222.5" y="386.7">70.8</text><text class="q" text-anchor="end" x="345.6" y="386.6">0</text></g>
<g><path class="e" d="M442.5 280.5zm-34 1zm30 1zm-37 1zm7 0zm2 0zm3 1zm3 0zm5 0zm30 0zm-64 1zm5 0zm12 0zm56 0zm14 0zm-77 1zm5 0zm3 0zm7 0zm4 0zm35 0zm-35 1zm27 0zm7 0zm-45 1zm5 0zm-18 1zm3 0zm7 0zm9 0zm1 0zm44 0zm-58 1zm1 0zm2 0zm1 0zm3 0zm14 0zm-15 1zm2 0zm1 0zm4 0zm6 0zm-26 1zm21 0zm12 0zm5 0zm-33 1zm1 0zm1 0zm3 0zm2 0zm1 0zm1 0zm54 0zm-60 1zm2 0zm1 0zm1 0zm4 0zm2 0zm47 0zm-66 1zm7 0zm2 0zm4 0zm1 0zm3 0zm5 0zm5 0zm4 0zm29 0zm-65 1zm8 0zm11 0zm7 0zm2 0zm1 0zm21 0zm6 0zm-46 1zm7 0zm1 0zm3 0zm1 0zm2 0zm1 0zm3 0zm3 0zm-22 1zm1 0zm3 0zm1 0zm1 0zm2 0zm4 0zm2 0zm2 0zm2 0zm5 0zm2 0zm2 0zm26 0zm-48 1zm4 0zm2 0zm1 0zm7 0zm2 0zm8 0zm13 0zm10 0zm-45 1zm5 0zm2 0zm1 0zm2 0zm2 0zm2 0zm10 0zm12 0zm15 0zm-52 1zm2 0zm2 0zm1 0zm1 0zm1 0zm1 0zm2 0zm1 0zm2 0zm1 0zm3 0zm12 0zm1 0zm4 0zm1 0zm6 0zm3 0zm-56 1zm4 0zm9 0zm6 0zm2 0zm2 0zm3 0zm3 0zm10 0zm2 0zm13 0zm5 0zm3 0zm-48 1zm1 0zm2 0zm2 0zm1 0zm1 0zm1 0zm3 0zm1 0zm1 0zm19 0zm21 0zm-59 1zm6 0zm3 0zm12 0zm11 0zm12 0zm2 0zm6 0zm13 0zm-62 1zm1 0zm1 0zm1 0zm4 0zm3 0zm1 0zm1 0zm3 0zm1 0zm12 0zm18 0zm2 0zm3 0zm9 0zm-64 1zm1 0zm1 0zm1 0zm1 0zm1 0zm1 0zm4 0zm1 0zm1 0zm1 0zm3 0zm2 0zm3 0zm6 0zm5 0zm41 0zm-77 1zm5 0zm7 0zm3 0zm1 0zm2 0zm5 0zm1 0zm15 0zm16 0zm1 0zm8 0zm18 0zm-79 1zm4 0zm5 0zm5 0zm2 0zm4 0zm1 0zm26 0zm4 0zm14 0zm4 0zm-56 1zm3 0zm2 0zm2 0zm6 0zm9 0zm5 0zm36 0zm-75 1zm4 0zm7 0zm4 0zm3 0zm4 0zm4 0zm16 0zm1 0zm4 0zm4 0zm4 0zm15 0zm-72 1zm2 0zm1 0zm1 0zm2 0zm4 0zm1 0zm8 0zm2 0zm2 0zm1 0zm21 0zm10 0zm-57 1zm2 0zm1 0zm5 0zm6 0zm1 0zm2 0zm5 0zm1 0zm7 0zm23 0zm3 0zm8 0zm39 0zm-107 1zm14 0zm2 0zm2 0zm1 0zm3 0zm1 0zm3 0zm2 0zm2 0zm6 0zm17 0zm2 0zm10 0zm-61 1zm2 0zm6 0zm4 0zm1 0zm1 0zm4 0zm1 0zm1 0zm27 0zm1 0zm4 0zm6 0zm2 0zm-59 1zm6 0zm4 0zm2 0zm2 0zm1 0zm3 0zm5 0zm1 0zm3 0zm11 0zm3 0zm1 0zm4 0zm8 0zm3 0zm8 0zm5 0zm-70 1zm6 0zm6 0zm1 0zm3 0zm3 0zm3 0zm18 0zm12 0zm1 0zm3 0zm7 0zm-66 1zm7 0zm1 0zm3 0zm3 0zm5 0zm4 0zm14 0zm4 0zm4 0zm11 0zm3 0zm6 0zm-58 1zm1 0zm4 0zm1 0zm7 0zm1 0zm4 0zm6 0zm10 0zm2 0zm10 0zm2 0zm3 0zm3 0zm45 0zm-95 1zm4 0zm2 0zm2 0zm5 0zm1 0zm2 0zm2 0zm22 0zm11 0zm2 0zm3 0zm-62 1zm7 0zm1 0zm3 0zm1 0zm2 0zm3 0zm2 0zm2 0zm4 0zm1 0zm2 0zm11 0zm5 0zm5 0zm4 0zm-60 1zm6 0zm7 0zm2 0zm2 0zm12 0zm1 0zm8 0zm6 0zm2 0zm18 0zm7 0zm-65 1zm1 0zm5 0zm1 0zm2 0zm1 0zm1 0zm1 0zm1 0zm1 0zm1 0zm3 0zm5 0zm1 0zm10 0zm11 0zm5 0zm4 0zm9 0zm-61 1zm6 0zm1 0zm3 0zm1 0zm1 0zm1 0zm4 0zm1 0zm4 0zm1 0zm2 0zm4 0zm4 0zm2 0zm9 0zm12 0zm18 0zm-73 1zm1 0zm1 0zm4 0zm1 0zm6 0zm2 0zm1 0zm1 0zm1 0zm26 0zm21 0zm-76 1zm11 0zm1 0zm8 0zm1 0zm2 0zm2 0zm6 0zm1 0zm2 0zm19 0zm4 0zm5 0zm-51 1zm2 0zm3 0zm1 0zm2 0zm2 0zm10 0zm16 0zm-39 1zm4 0zm4 0zm2 0zm1 0zm3 0zm1 0zm3 0zm2 0zm9 0zm3 0zm2 0zm3 0zm18 0zm4 0zm6 0zm-57 1zm3 0zm2 0zm3 0zm3 0zm1 0zm1 0zm1 0zm6 0zm19 0zm1 0zm1 0zm5 0zm3 0zm8 0zm-61 1zm2 0zm1 0zm3 0zm1 0zm4 0zm3 0zm1 0zm1 0zm2 0zm25 0zm6 0zm-55 1zm1 0zm5 0zm7 0zm2 0zm1 0zm1 0zm1 0zm7 0zm2 0zm1 0zm4 0zm1 0zm1 0zm11 0zm-49 1zm3 0zm3 0zm1 0zm2 0zm4 0zm2 0zm2 0zm2 0zm3 0zm1 0zm2 0zm3 0zm32 0zm3 0zm-62 1zm2 0zm3 0zm4 0zm1 0zm1 0zm1 0zm1 0zm1 0zm2 0zm2 0zm4 0zm2 0zm2 0zm1 0zm-25 1zm3 0zm3 0zm4 0zm1 0zm2 0zm2 0zm1 0zm1 0zm3 0zm1 0zm1 0zm3 0zm2 0zm3 0zm6 0zm16 0zm-57 1zm9 0zm4 0zm1 0zm6 0zm2 0zm1 0zm1 0zm2 0zm2 0zm2 0zm1 0zm4 0zm2 0zm3 0zm9 0zm-49 1zm6 0zm3 0zm3 0zm1 0zm2 0zm2 0zm1 0zm1 0zm1 0zm2 0zm2 0zm1 0zm1 0zm20 0zm9 0zm2 0zm-57 1zm7 0zm2 0zm1 0zm6 0zm1 0zm2 0zm1 0zm1 0zm1 0zm4 0zm1 0zm1 0zm4 0zm5 0zm11 0zm20 0zm-68 1zm3 0zm8 0zm1 0zm1 0zm3 0zm1 0zm4 0zm1 0zm1 0zm1 0zm2 0zm1 0zm3 0zm7 0zm13 0zm1 0zm2 0zm3 0zm-54 1zm1 0zm3 0zm4 0zm1 0zm2 0zm1 0zm2 0zm1 0zm1 0zm1 0zm1 0zm2 0zm1 0zm1 0zm1 0zm6 0zm1 0zm6 0zm-33 1zm1 0zm1 0zm1 0zm3 0zm1 0zm1 0zm2 0zm1 0zm1 0zm1 0zm1 0zm1 0zm2 0zm2 0zm1 0zm2 0zm1 0zm2 0zm13 0zm7 0zm-46 1zm2 0zm5 0zm1 0zm1 0zm1 0zm1 0zm1 0zm1 0zm1 0zm1 0zm1 0zm1 0zm3 0zm1 0zm1 0zm3 0zm8 0zm4 0zm3 0zm11 0zm2 0zm1 0zm-53 1zm1 0zm3 0zm1 0zm1 0zm3 0zm1 0zm1 0zm1 0zm1 0zm1 0zm1 0zm1 0zm1 0zm2 0zm1 0zm1 0zm1 0zm3 0zm1 0zm3 0zm12 0zm-39 1zm2 0zm1 0zm3 0zm1 0zm1 0zm1 0zm1 0zm1 0zm1 0zm1 0zm1 0zm1 0zm1 0zm1 0zm1 0zm4 0zm1 0zm1 0zm1 0zm1 0zm-27 1zm2 0zm1 0zm3 0zm2 0zm1 0zm1 0zm1 0zm1 0zm1 0zm3 0zm1 0zm1 0zm1 0zm1 0zm1 0zm1 0zm2 0zm4 0zm5 0zm7 0zm-43 1zm5 0zm3 0zm1 0zm1 0zm2 0zm1 0zm1 0zm1 0zm2 0zm2 0zm1 0zm1 0zm1 0zm1 0zm1 0zm2 0zm8 0zm-37 1zm3 0zm2 0zm2 0zm1 0zm2 0zm1 0zm2 0zm1 0zm1 0zm2 0zm1 0zm1 0zm1 0zm1 0zm1 0zm1 0zm1 0zm1 0zm1 0zm1 0zm1 0zm2 0zm3 0zm24 0zm2 0zm4 0zm-62 1zm2 0zm8 0zm1 0zm1 0zm1 0zm1 0zm1 0zm1 0zm1 0zm1 0zm1 0zm1 0zm1 0zm1 0zm1 0zm1 0zm1 0zm1 0zm2 0zm3 0zm1 0zm8 0zm11 0zm-48 1zm2 0zm1 0zm1 0zm1 0zm2 0zm1 0zm1 0zm2 0zm1 0zm2 0zm1 0zm1 0zm1 0zm1 0zm1 0zm1 0zm3 0zm2 0zm39 0zm7 0zm-71 1zm3 0zm1 0zm1 0zm1 0zm1 0zm1 0zm1 0zm1 0zm1 0zm1 0zm1 0zm1 0zm1 0zm1 0zm1 0zm1 0zm1 0zm1 0zm2 0zm1 0zm5 0zm19 0zm-49 1zm1 0zm1 0zm2 0zm1 0zm1 0zm2 0zm1 0zm1 0zm1 0zm2 0zm1 0zm1 0zm1 0zm2 0zm1 0zm1 0zm1 0zm1 0zm1 0zm1 0zm1 0zm1 0zm1 0zm1 0zm1 0zm2 0zm13 0zm6 0zm-52 1zm1 0zm2 0zm2 0zm3 0zm1 0zm1 0zm2 0zm1 0zm1 0zm1 0zm1 0zm1 0zm1 0zm1 0zm1 0zm1 0zm1 0zm1 0zm1 0zm1 0zm1 0zm1 0zm1 0zm1 0zm20 0zm4 0zm-49 1zm1 0zm2 0zm1 0zm1 0zm1 0zm1 0zm1 0zm1 0zm1 0zm1 0zm1 0zm1 0zm1 0zm1 0zm1 0zm1 0zm1 0zm1 0zm1 0zm2 0zm1 0zm1 0zm1 0zm1 0zm16 0zm12 0zm7 0zm-64 1zm1 0zm2 0zm4 0zm1 0zm1 0zm2 0zm1 0zm1 0zm2 0zm1 0zm1 0zm1 0zm1 0zm1 0zm1 0zm1 0zm1 0zm1 0zm1 0zm1 0zm4 0zm3 0zm4 0zm-35 1zm1 0zm1 0zm1 0zm2 0zm1 0zm1 0zm1 0zm1 0zm1 0zm1 0zm1 0zm1 0zm1 0zm1 0zm1 0zm1 0zm1 0zm1 0zm1 0zm1 0zm1 0zm2 0zm2 0zm1 0zm7 0zm-37 1zm1 0zm4 0zm4 0zm1 0zm1 0zm3 0zm1 0zm1 0zm1 0zm1 0zm2 0zm1 0zm1 0zm1 0zm1 0zm1 0zm1 0zm1 0zm1 0zm1 0zm33 0zm-62 1zm6 0zm2 0zm1 0zm1 0zm1 0zm1 0zm1 0zm1 0zm2 0zm1 0zm1 0zm1 0zm1 0zm1 0zm1 0zm1 0zm1 0zm1 0zm1 0zm1 0zm1 0zm2 0zm1 0zm1 0zm-28 1zm2 0zm3 0zm1 0zm2 0zm1 0zm1 0zm1 0zm1 0zm1 0zm1 0zm1 0zm1 0zm1 0zm1 0zm1 0zm1 0zm1 0zm1 0zm1 0zm1 0zm1 0zm3 0zm-32 1zm4 0zm1 0zm3 0zm1 0zm1 0zm2 0zm1 0zm1 0zm1 0zm1 0zm1 0zm1 0zm1 0zm2 0zm1 0zm1 0zm1 0zm1 0zm1 0zm1 0zm4 0zm-26 1zm1 0zm2 0zm1 0zm1 0zm2 0zm1 0zm1 0zm1 0zm1 0zm1 0zm1 0zm1 0zm1 0zm1 0zm1 0zm1 0zm1 0zm1 0zm1 0zm1 0zm3 0zm4 0zm51 0zm-81 1zm1 0zm3 0zm1 0zm1 0zm1 0zm1 0zm1 0zm1 0zm1 0zm1 0zm1 0zm1 0zm1 0zm1 0zm1 0zm1 0zm1 0zm1 0zm1 0zm1 0zm2 0zm1 0zm1 0zm-25 1zm3 0zm1 0zm1 0zm1 0zm1 0zm1 0zm1 0zm1 0zm1 0zm1 0zm1 0zm1 0zm1 0zm1 0zm1 0zm1 0zm2 0zm2 0zm1 0zm1 0zm1 0zm8 0zm15 0zm-50 1zm4 0zm1 0zm1 0zm1 0zm1 0zm1 0zm1 0zm1 0zm1 0zm1 0zm1 0zm1 0zm1 0zm1 0zm1 0zm2 0zm1 0zm1 0zm1 0zm1 0zm5 0zm-32 1zm5 0zm1 0zm1 0zm1 0zm1 0zm4 0zm2 0zm1 0zm1 0zm1 0zm1 0zm1 0zm1 0zm1 0zm1 0zm2 0zm1 0zm1 0zm1 0zm2 0zm3 0zm-28 1zm4 0zm1 0zm1 0zm3 0zm1 0zm1 0zm1 0zm1 0zm1 0zm1 0zm1 0zm1 0zm1 0zm1 0zm1 0zm3 0zm1 0zm-24 1zm3 0zm1 0zm2 0zm2 0zm2 0zm1 0zm1 0zm1 0zm1 0zm1 0zm1 0zm1 0zm2 0zm1 0zm1 0zm1 0zm4 0zm-23 1zm1 0zm1 0zm1 0zm1 0zm2 0zm1 0zm1 0zm1 0zm1 0zm1 0zm1 0zm1 0zm2 0zm3 0zm8 0zm4 0zm54 0zm-86 1zm1 0zm1 0zm1 0zm1 0zm1 0zm1 0zm1 0zm1 0zm1 0zm1 0zm1 0zm1 0zm1 0zm1 0zm1 0zm1 0zm2 0zm1 0zm2 0zm2 0zm9 0zm-29 1zm1 0zm1 0zm1 0zm1 0zm1 0zm1 0zm1 0zm1 0zm1 0zm1 0zm2 0zm1 0zm2 0zm2 0zm1 0zm6 0zm-26 1zm1 0zm1 0zm1 0zm1 0zm2 0zm1 0zm1 0zm4 0zm1 0zm2 0zm1 0zm1 0zm1 0zm1 0zm1 0zm3 0zm2 0zm79 0zm2 0zm-111 1zm4 0zm1 0zm1 0zm2 0zm1 0zm1 0zm2 0zm1 0zm2 0zm3 0zm1 0zm1 0zm1 0zm3 0zm1 0zm2 0zm7 0zm-29 1zm3 0zm1 0zm2 0zm1 0zm1 0zm1 0zm1 0zm1 0zm1 0zm1 0zm2 0zm3 0zm1 0zm1 0zm1 0zm1 0zm3 0zm-24 1zm1 0zm2 0zm2 0zm2 0zm1 0zm1 0zm1 0zm1 0zm1 0zm1 0zm1 0zm2 0zm2 0zm33 0zm-54 1zm3 0zm2 0zm4 0zm2 0zm2 0zm1 0zm1 0zm2 0zm1 0zm1 0zm1 0zm1 0zm-23 1zm5 0zm1 0zm5 0zm1 0zm1 0zm2 0zm2 0zm2 0zm1 0zm2 0zm1 0zm1 0zm4 0zm2 0zm5 0zm-32 1zm4 0zm2 0zm3 0zm2 0zm4 0zm1 0zm5 0zm8 0zm10 0zm-39 1zm5 0zm1 0zm3 0zm2 0zm2 0zm1 0zm1 0zm4 0zm-15 1zm4 0zm1 0zm2 0zm3 0zm1 0zm9 0zm-17 1zm1 0zm5 0zm1 0zm1 0zm1 0zm1 0zm-21 1zm12 0zm2 0zm2 0zm3 0zm3 0zm-22 1zm23 0zm2 0zm5 0zm-17 1zm3 0zm5 0zm-12 1zm1 0zm-2 1zm7 0zm1 0zm2 0zm-10 1zm12 0zm1 0zm1 0zm8 0zm-23 1zm5 0zm1 0zm11 0zm-11 1zm1 0zm1 0zm3 0zm1 0z"/><path class="g" d="M423.5 264.3V386M384.5 346.5H506.3"/><rect class="r" x="428.2" y="347.7" width="37.2" height="30.3"/><path class="f" d="M383.6 264.3H507.3"/><path class="f2" d="M384.5 263.7V386.2H506.4V263.7"/><path class="t" d="M384.5 386h-4.2M384.5 386v2.5M384.5 355.6h-4.2M414.9 386v2.5M384.5 325.1h-4.2M445.4 386v2.5M384.5 294.7h-4.2M475.9 386v2.5M384.5 264.3h-4.2M506.3 386v2.5"/><path class="m" d="M384.5 376.8h-2.4M393.7 386v1.6M384.5 371.5h-2.4M399 386v1.6M384.5 367.7h-2.4M402.8 386v1.6M384.5 364.7h-2.4M405.8 386v1.6M384.5 362.3h-2.4M408.2 386v1.6M384.5 360.3h-2.4M410.2 386v1.6M384.5 358.5h-2.4M412 386v1.6M384.5 357h-2.4M413.6 386v1.6M384.5 346.4h-2.4M424.1 386v1.6M384.5 341.1h-2.4M429.5 386v1.6M384.5 337.3h-2.4M433.3 386v1.6M384.5 334.3h-2.4M436.2 386v1.6M384.5 331.9h-2.4M438.6 386v1.6M384.5 329.9h-2.4M440.7 386v1.6M384.5 328.1h-2.4M442.4 386v1.6M384.5 326.5h-2.4M444 386v1.6M384.5 316h-2.4M454.6 386v1.6M384.5 310.6h-2.4M459.9 386v1.6M384.5 306.8h-2.4M463.7 386v1.6M384.5 303.9h-2.4M466.7 386v1.6M384.5 301.5h-2.4M469.1 386v1.6M384.5 299.4h-2.4M471.1 386v1.6M384.5 297.7h-2.4M472.9 386v1.6M384.5 296.1h-2.4M474.5 386v1.6M384.5 285.6h-2.4M485 386v1.6M384.5 280.2h-2.4M490.4 386v1.6M384.5 276.4h-2.4M494.2 386v1.6M384.5 273.5h-2.4M497.1 386v1.6M384.5 271h-2.4M499.5 386v1.6M384.5 269h-2.4M501.6 386v1.6M384.5 267.2h-2.4M503.3 386v1.6M384.5 265.7h-2.4M504.9 386v1.6"/><text class="k y" text-anchor="end" x="379.2" y="388.8">1</text><text class="k y" text-anchor="end" x="379.2" y="358.4">10</text><text class="k y" text-anchor="end" x="379.2" y="327.9">100</text><text class="k y" text-anchor="end" x="379.2" y="297.5">1000</text><text class="k y" text-anchor="end" x="379.2" y="267.1">10000</text><rect fill="#fff" x="385.4" y="378.4" width="15.5" height="6.6"/><text class="q" x="386.2" y="272.3">36.1</text><text class="q" text-anchor="end" x="505.4" y="272.3">9.47</text><text class="q" x="386.4" y="384.4">54.1</text><text class="q" text-anchor="end" x="505.4" y="384.3">0.42</text></g>
<g><path class="d" d="M94 534zm8 0zm5.5 .5zm-23 4.5zm7.5 0zm11 3.5zm-6.5 2zm2.5 2zm8.5 2.5zm-9.5 2.5zm7 0zm-4.5 3.5zm-15 8zm15 1zm-34 .5zm3 0zm9 0zm-10.5 1zm55 0zm-57 .5zm.5 0zm8.5 0zm4 0zm-24 .5zm1 0zm6 0zm1 0zm3.5 0zm1.5 0zm1.5 0zm11 0zm18.5 0zm30.5 0zm-70.5 .5zm7 0zm2 0zm2 0zm20.5 0zm-28 .5zm1.5 0zm1 0zm4 0zm.5 0zm10 0zm4 0zm41.5 0zm-62.5 .5zm6.5 0zm1.5 0zm1 0zm18.5 0zm-35 .5zm19.5 0zm.5 0zm9.5 0zm39 0zm-68.5 .5zm8.5 0zm1.5 0zm2 0zm2 0zm7.5 0zm3 0zm2.5 0zm6.5 0zm-33.5 .5zm3 0zm.5 0zm2.5 0zm3 0zm7 0zm5 0zm.5 0zm2 0zm8 0zm12.5 0zm13.5 0zm-57.5 .5zm.5 0zm1.5 0zm5.5 0zm3 0zm.5 0zm4 0zm3 0zm6 0zm3.5 0zm12.5 0zm16 0zm-56 .5zm7 0zm5.5 0zm5.5 0zm3.5 0zm26.5 0zm23.5 0zm-71.5 .5zm1.5 0zm3.5 0zm1.5 0zm5.5 0zm2 0zm.5 0zm3 0zm7.5 0zm1.5 0zm12.5 0zm12.5 0zm-51.5 .5zm1.5 0zm1.5 0zm.5 0zm1.5 0zm.5 0zm3 0zm.5 0zm3 0zm3.5 0zm1 0zm1 0zm5 0zm1 0zm28.5 0zm-52 .5zm1 0zm.5 0zm3.5 0zm.5 0zm1 0zm2 0zm2 0zm2.5 0zm.5 0zm1.5 0zm.5 0zm.5 0zm.5 0zm.5 0zm.5 0zm1 0zm1 0zm.5 0zm4 0zm28 0zm6.5 0zm-58.5 .5zm2.5 0zm2 0zm.5 0zm.5 0zm1.5 0zm.5 0zm1.5 0zm3 0zm1.5 0zm2.5 0zm3 0zm3 0zm1.5 0zm1 0zm1.5 0zm6 0zm2 0zm5.5 0zm-39.5 .5zm5 0zm1.5 0zm3 0zm1 0zm2 0zm.5 0zm.5 0zm.5 0zm.5 0zm1.5 0zm1.5 0zm9 0zm1.5 0zm2 0zm31 0zm-61 .5zm.5 0zm.5 0zm4.5 0zm1.5 0zm.5 0zm.5 0zm1 0zm.5 0zm1.5 0zm.5 0zm1 0zm1 0zm1.5 0zm1 0zm2 0zm2.5 0zm2.5 0zm4 0zm.5 0zm.5 0zm1.5 0zm36 0zm-65.5 .5zm1 0zm6.5 0zm.5 0zm1.5 0zm2 0zm.5 0zm.5 0zm1.5 0zm.5 0zm.5 0zm.5 0zm.5 0zm.5 0zm.5 0zm.5 0zm1.5 0zm.5 0zm1.5 0zm1 0zm.5 0zm6.5 0zm1 0zm11.5 0zm8 0zm2.5 0zm10.5 0zm-62.5 .5zm.5 0zm2.5 0zm5.5 0zm.5 0zm.5 0zm1.5 0zm.5 0zm4.5 0zm.5 0zm.5 0zm1 0zm.5 0zm1 0zm.5 0zm3 0zm.5 0zm8.5 0zm-32 .5zm2 0zm5 0zm.5 0zm2 0zm1 0zm.5 0zm2.5 0zm1.5 0zm2.5 0zm2 0zm1 0zm2 0zm.5 0zm.5 0zm.5 0zm1 0zm4.5 0zm2.5 0zm1.5 0zm.5 0zm1 0zm3 0zm1.5 0zm23 0zm-62.5 .5zm4 0zm.5 0zm3.5 0zm1 0zm.5 0zm1 0zm.5 0zm.5 0zm.5 0zm1 0zm.5 0zm1 0zm1.5 0zm1.5 0zm1 0zm.5 0zm1.5 0zm.5 0zm1 0zm2.5 0zm1.5 0zm28.5 0zm-54.5 .5zm6.5 0zm1 0zm1 0zm.5 0zm.5 0zm.5 0zm1 0zm1.5 0zm1 0zm3 0zm3 0zm3 0zm1.5 0zm1 0zm.5 0zm2.5 0zm.5 0zm3.5 0zm9.5 0zm18.5 0zm-60 .5zm2 0zm2 0zm.5 0zm.5 0zm1 0zm1 0zm1 0zm.5 0zm.5 0zm1.5 0zm.5 0zm.5 0zm1 0zm.5 0zm.5 0zm.5 0zm3.5 0zm.5 0zm.5 0zm.5 0zm.5 0zm2 0zm9.5 0zm13.5 0zm20.5 0zm-65 .5zm1 0zm2 0zm.5 0zm3 0zm.5 0zm1.5 0zm.5 0zm.5 0zm1 0zm1 0zm.5 0zm1 0zm.5 0zm.5 0zm1 0zm.5 0zm1 0zm1.5 0zm1 0zm2.5 0zm.5 0zm.5 0zm24 0zm7 0zm7 0zm-60.5 .5zm3.5 0zm2 0zm1.5 0zm.5 0zm.5 0zm1 0zm4 0zm.5 0zm1 0zm.5 0zm2 0zm.5 0zm1 0zm.5 0zm1 0zm.5 0zm3 0zm.5 0zm1 0zm1.5 0zm5.5 0zm3 0zm2.5 0zm5.5 0zm4 0zm1.5 0zm1 0zm.5 0zm4.5 0zm1 0zm2.5 0zm-58 .5zm1 0zm.5 0zm.5 0zm1.5 0zm.5 0zm1 0zm.5 0zm.5 0zm1 0zm1.5 0zm1.5 0zm1 0zm1 0zm.5 0zm.5 0zm.5 0zm.5 0zm.5 0zm.5 0zm1 0zm1 0zm.5 0zm.5 0zm.5 0zm.5 0zm.5 0zm1 0zm.5 0zm.5 0zm.5 0zm1.5 0zm5.5 0zm16 0zm25 0zm-70 .5zm1 0zm3 0zm1 0zm.5 0zm1 0zm1.5 0zm.5 0zm.5 0zm.5 0zm1.5 0zm1 0zm1 0zm1 0zm.5 0zm.5 0zm.5 0zm.5 0zm.5 0zm.5 0zm2 0zm2.5 0zm.5 0zm4.5 0zm2.5 0zm19.5 0zm23.5 0zm-72 .5zm.5 0zm1 0zm2 0zm.5 0zm1 0zm1.5 0zm.5 0zm1 0zm.5 0zm.5 0zm.5 0zm.5 0zm.5 0zm.5 0zm.5 0zm.5 0zm.5 0zm.5 0zm.5 0zm.5 0zm1 0zm1 0zm1 0zm.5 0zm.5 0zm1.5 0zm.5 0zm.5 0zm1 0zm.5 0zm1 0zm1.5 0zm.5 0zm7 0zm1 0zm.5 0zm1.5 0zm1 0zm1.5 0zm1.5 0zm3.5 0zm7 0zm2 0zm-51.5 .5zm2 0zm1.5 0zm1 0zm2.5 0zm.5 0zm.5 0zm.5 0zm1 0zm1 0zm.5 0zm.5 0zm.5 0zm.5 0zm1 0zm1 0zm1.5 0zm.5 0zm1 0zm.5 0zm1 0zm1 0zm2 0zm1.5 0zm3 0zm.5 0zm1 0zm.5 0zm7 0zm9 0zm-44.5 .5zm3 0zm1 0zm.5 0zm1 0zm1 0zm.5 0zm.5 0zm1 0zm1 0zm.5 0zm.5 0zm.5 0zm.5 0zm.5 0zm1 0zm.5 0zm1 0zm.5 0zm.5 0zm1 0zm1 0zm.5 0zm1 0zm.5 0zm3.5 0zm1 0zm1 0zm2.5 0zm7.5 0zm1.5 0zm2 0zm13 0zm8.5 0zm-60 .5zm1.5 0zm.5 0zm.5 0zm.5 0zm1 0zm.5 0zm.5 0zm1 0zm2.5 0zm1 0zm.5 0zm1 0zm1 0zm1.5 0zm1 0zm.5 0zm.5 0zm3 0zm1.5 0zm1 0zm.5 0zm2 0zm1 0zm.5 0zm4.5 0zm2.5 0zm2.5 0zm3 0zm3 0zm1.5 0zm22 0zm.5 0zm-64.5 .5zm1.5 0zm.5 0zm1 0zm.5 0zm1 0zm1 0zm.5 0zm1 0zm1 0zm.5 0zm.5 0zm.5 0zm.5 0zm.5 0zm.5 0zm.5 0zm.5 0zm.5 0zm.5 0zm.5 0zm.5 0zm.5 0zm.5 0zm1.5 0zm.5 0zm.5 0zm1 0zm1 0zm2 0zm1 0zm1.5 0zm1.5 0zm6.5 0zm1 0zm12.5 0zm13.5 0zm-59 .5zm1 0zm1.5 0zm.5 0zm1 0zm.5 0zm.5 0zm.5 0zm.5 0zm1 0zm.5 0zm.5 0zm.5 0zm.5 0zm1.5 0zm1.5 0zm.5 0zm1 0zm.5 0zm.5 0zm1 0zm1 0zm.5 0zm.5 0zm1 0zm1 0zm.5 0zm.5 0zm.5 0zm.5 0zm1.5 0zm.5 0zm1.5 0zm3 0zm.5 0zm2.5 0zm1.5 0zm12 0zm5.5 0zm3.5 0zm-53.5 .5zm1 0zm.5 0zm1 0zm.5 0zm1 0zm.5 0zm.5 0zm.5 0zm.5 0zm.5 0zm.5 0zm.5 0zm.5 0zm.5 0zm.5 0zm.5 0zm.5 0zm.5 0zm1 0zm.5 0zm1 0zm.5 0zm.5 0zm.5 0zm.5 0zm.5 0zm1 0zm.5 0zm1 0zm1 0zm1 0zm.5 0zm.5 0zm1 0zm.5 0zm1 0zm2 0zm2.5 0zm9.5 0zm1 0zm2 0zm1 0zm2 0zm4.5 0zm5.5 0zm-53.5 .5zm.5 0zm.5 0zm.5 0zm1.5 0zm.5 0zm.5 0zm.5 0zm1 0zm.5 0zm.5 0zm.5 0zm1.5 0zm1 0zm.5 0zm.5 0zm1 0zm.5 0zm.5 0zm.5 0zm1 0zm.5 0zm.5 0zm.5 0zm.5 0zm.5 0zm.5 0zm.5 0zm.5 0zm.5 0zm1 0zm.5 0zm.5 0zm1 0zm.5 0zm2 0zm1 0zm1 0zm.5 0zm1.5 0zm1 0zm2.5 0zm1 0zm.5 0zm4 0zm7 0zm6.5 0zm1 0zm1.5 0zm1 0zm-54 .5zm.5 0zm.5 0zm.5 0zm.5 0zm1 0zm1 0zm.5 0zm.5 0zm.5 0zm.5 0zm.5 0zm.5 0zm.5 0zm.5 0zm1 0zm.5 0zm.5 0zm1.5 0zm.5 0zm.5 0zm.5 0zm.5 0zm.5 0zm.5 0zm.5 0zm.5 0zm.5 0zm.5 0zm1.5 0zm.5 0zm1 0zm.5 0zm.5 0zm.5 0zm1.5 0zm.5 0zm.5 0zm1 0zm.5 0zm1 0zm.5 0zm2.5 0zm12 0zm1 0zm1.5 0zm2 0zm1 0zm8 0zm1 0zm3.5 0zm3 0zm10 0zm-72 .5zm1.5 0zm.5 0zm.5 0zm1 0zm.5 0zm.5 0zm.5 0zm.5 0zm.5 0zm1 0zm.5 0zm.5 0zm1 0zm.5 0zm.5 0zm.5 0zm1 0zm.5 0zm.5 0zm.5 0zm.5 0zm.5 0zm1 0zm.5 0zm.5 0zm.5 0zm1.5 0zm2 0zm2 0zm4.5 0zm5.5 0zm.5 0zm.5 0zm1 0zm5 0zm4 0zm3.5 0zm1 0zm1 0zm1 0zm.5 0zm6 0zm3.5 0zm2 0zm6 0zm-67.5 .5zm.5 0zm.5 0zm1 0zm.5 0zm1 0zm1 0zm1 0zm.5 0zm1 0zm.5 0zm1 0zm1 0zm.5 0zm.5 0zm.5 0zm.5 0zm.5 0zm.5 0zm.5 0zm.5 0zm.5 0zm.5 0zm.5 0zm.5 0zm.5 0zm1.5 0zm.5 0zm.5 0zm1 0zm.5 0zm.5 0zm.5 0zm.5 0zm.5 0zm1 0zm1 0zm.5 0zm.5 0zm5 0zm.5 0zm1.5 0zm9 0zm3.5 0zm2.5 0zm1 0zm1 0zm.5 0zm6.5 0zm4.5 0zm8 0zm-68.5 .5zm.5 0zm1.5 0zm.5 0zm.5 0zm.5 0zm.5 0zm.5 0zm1 0zm.5 0zm1 0zm.5 0zm.5 0zm.5 0zm.5 0zm.5 0zm.5 0zm.5 0zm.5 0zm.5 0zm.5 0zm.5 0zm.5 0zm.5 0zm.5 0zm.5 0zm.5 0zm1 0zm.5 0zm.5 0zm.5 0zm.5 0zm1 0zm.5 0zm.5 0zm.5 0zm.5 0zm.5 0zm.5 0zm2.5 0zm.5 0zm.5 0zm1.5 0zm1 0zm2 0zm3 0zm1 0zm5.5 0zm5 0zm2 0zm4 0zm12 0zm4 0zm-66.5 .5zm.5 0zm1 0zm1 0zm.5 0zm.5 0zm.5 0zm.5 0zm1 0zm.5 0zm.5 0zm.5 0zm.5 0zm.5 0zm.5 0zm1.5 0zm.5 0zm.5 0zm.5 0zm.5 0zm.5 0zm.5 0zm.5 0zm.5 0zm.5 0zm.5 0zm.5 0zm1 0zm1 0zm1 0zm1 0zm1 0zm.5 0zm.5 0zm.5 0zm2.5 0zm.5 0zm1 0zm1 0zm.5 0zm1.5 0zm.5 0zm.5 0zm.5 0zm2 0zm9 0zm4 0zm2.5 0zm3.5 0zm1 0zm5.5 0zm.5 0zm6.5 0zm4 0zm24.5 0zm-93.5 .5zm1 0zm1 0zm.5 0zm.5 0zm1 0zm1 0zm.5 0zm.5 0zm.5 0zm.5 0zm.5 0zm.5 0zm1 0zm.5 0zm.5 0zm.5 0zm.5 0zm.5 0zm.5 0zm.5 0zm.5 0zm.5 0zm.5 0zm.5 0zm.5 0zm.5 0zm.5 0zm.5 0zm2 0zm.5 0zm1 0zm1 0zm1 0zm.5 0zm.5 0zm.5 0zm2 0zm.5 0zm2.5 0zm.5 0zm1 0zm.5 0zm5 0zm1 0zm2 0zm1 0zm31.5 0zm-71 .5zm.5 0zm1 0zm1 0zm1 0zm.5 0zm.5 0zm1 0zm.5 0zm.5 0zm1 0zm.5 0zm.5 0zm.5 0zm.5 0zm1.5 0zm.5 0zm.5 0zm.5 0zm.5 0zm1 0zm1 0zm1 0zm.5 0zm.5 0zm.5 0zm1 0zm1 0zm1 0zm1 0zm1 0zm1 0zm.5 0zm2 0zm2 0zm3.5 0zm.5 0zm3 0zm.5 0zm3.5 0zm5 0zm7 0zm.5 0zm5 0zm8 0zm4 0zm1 0zm4 0zm4.5 0zm3 0zm-81 .5zm1 0zm.5 0zm.5 0zm1 0zm.5 0zm.5 0zm.5 0zm.5 0zm.5 0zm.5 0zm.5 0zm1 0zm.5 0zm.5 0zm.5 0zm.5 0zm.5 0zm.5 0zm.5 0zm.5 0zm.5 0zm1.5 0zm.5 0zm.5 0zm.5 0zm.5 0zm.5 0zm.5 0zm1 0zm.5 0zm.5 0zm1 0zm.5 0zm.5 0zm.5 0zm.5 0zm.5 0zm2 0zm3 0zm2.5 0zm1.5 0zm1 0zm.5 0zm1 0zm3.5 0zm2.5 0zm.5 0zm2 0zm30 0zm-72 .5zm1 0zm1.5 0zm.5 0zm1 0zm.5 0zm.5 0zm1.5 0zm.5 0zm.5 0zm.5 0zm.5 0zm.5 0zm.5 0zm.5 0zm.5 0zm.5 0zm.5 0zm.5 0zm.5 0zm.5 0zm1 0zm.5 0zm.5 0zm.5 0zm.5 0zm1 0zm.5 0zm.5 0zm1 0zm.5 0zm1.5 0zm1 0zm.5 0zm.5 0zm1.5 0zm.5 0zm.5 0zm1 0zm2 0zm4.5 0zm21 0zm1.5 0zm12 0zm2.5 0zm-70 .5zm.5 0zm1 0zm1 0zm1 0zm.5 0zm.5 0zm.5 0zm.5 0zm.5 0zm1 0zm.5 0zm.5 0zm1 0zm.5 0zm.5 0zm.5 0zm.5 0zm.5 0zm1.5 0zm.5 0zm1 0zm.5 0zm1 0zm1 0zm.5 0zm1 0zm.5 0zm.5 0zm.5 0zm1 0zm.5 0zm1.5 0zm1.5 0zm1 0zm.5 0zm.5 0zm.5 0zm3 0zm2.5 0zm6.5 0zm.5 0zm4 0zm.5 0zm1.5 0zm2 0zm3 0zm4 0zm15 0zm-69.5 .5zm.5 0zm.5 0zm.5 0zm.5 0zm.5 0zm.5 0zm.5 0zm.5 0zm.5 0zm1.5 0zm.5 0zm.5 0zm.5 0zm.5 0zm.5 0zm.5 0zm.5 0zm.5 0zm.5 0zm.5 0zm.5 0zm.5 0zm.5 0zm.5 0zm1 0zm.5 0zm.5 0zm.5 0zm.5 0zm.5 0zm1 0zm.5 0zm.5 0zm.5 0zm.5 0zm.5 0zm.5 0zm1.5 0zm.5 0zm.5 0zm.5 0zm2.5 0zm4 0zm5.5 0zm1.5 0zm3 0zm.5 0zm1.5 0zm.5 0zm1 0zm.5 0zm1 0zm4.5 0zm4 0zm4 0zm10.5 0zm6 0zm2 0zm-76 .5zm2 0zm1 0zm.5 0zm1 0zm.5 0zm.5 0zm.5 0zm.5 0zm.5 0zm.5 0zm1 0zm.5 0zm.5 0zm1 0zm.5 0zm.5 0zm.5 0zm.5 0zm.5 0zm.5 0zm.5 0zm.5 0zm.5 0zm.5 0zm1 0zm.5 0zm.5 0zm1 0zm.5 0zm.5 0zm.5 0zm.5 0zm.5 0zm.5 0zm.5 0zm.5 0zm1 0zm.5 0zm3.5 0zm1 0zm1 0zm1.5 0zm2 0zm.5 0zm11 0zm1.5 0zm1 0zm3.5 0zm2 0zm1 0zm.5 0zm7 0zm5 0zm-66 .5zm.5 0zm.5 0zm.5 0zm.5 0zm.5 0zm1 0zm1 0zm1 0zm.5 0zm.5 0zm.5 0zm.5 0zm1 0zm.5 0zm.5 0zm.5 0zm.5 0zm.5 0zm1 0zm.5 0zm.5 0zm.5 0zm.5 0zm.5 0zm.5 0zm.5 0zm.5 0zm.5 0zm.5 0zm.5 0zm.5 0zm.5 0zm.5 0zm.5 0zm1 0zm1 0zm.5 0zm.5 0zm.5 0zm2 0zm3 0zm.5 0zm1 0zm6 0zm4.5 0zm2.5 0zm24 0zm1 0zm-67.5 .5zm.5 0zm1 0zm.5 0zm.5 0zm.5 0zm.5 0zm.5 0zm1.5 0zm.5 0zm1 0zm.5 0zm.5 0zm.5 0zm.5 0zm.5 0zm.5 0zm.5 0zm.5 0zm.5 0zm.5 0zm.5 0zm.5 0zm.5 0zm.5 0zm.5 0zm.5 0zm.5 0zm.5 0zm.5 0zm.5 0zm.5 0zm.5 0zm.5 0zm.5 0zm.5 0zm.5 0zm.5 0zm.5 0zm.5 0zm.5 0zm1.5 0zm1 0zm5.5 0zm.5 0zm.5 0zm11.5 0zm6.5 0zm2.5 0zm2 0zm.5 0zm10.5 0zm-64.5 .5zm.5 0zm1.5 0zm.5 0zm.5 0zm.5 0zm.5 0zm.5 0zm.5 0zm1 0zm1 0zm.5 0zm.5 0zm.5 0zm.5 0zm.5 0zm.5 0zm.5 0zm.5 0zm1 0zm.5 0zm.5 0zm.5 0zm.5 0zm.5 0zm.5 0zm.5 0zm1 0zm.5 0zm.5 0zm.5 0zm.5 0zm.5 0zm.5 0zm.5 0zm.5 0zm.5 0zm.5 0zm.5 0zm.5 0zm.5 0zm1.5 0zm.5 0zm.5 0zm1 0zm1.5 0zm5 0zm10 0zm4 0zm2 0zm2 0zm9 0zm7 0zm-67 .5zm.5 0zm.5 0zm1.5 0zm.5 0zm.5 0zm.5 0zm.5 0zm.5 0zm.5 0zm.5 0zm.5 0zm.5 0zm.5 0zm.5 0zm.5 0zm.5 0zm.5 0zm.5 0zm.5 0zm1 0zm.5 0zm.5 0zm.5 0zm.5 0zm.5 0zm.5 0zm.5 0zm.5 0zm.5 0zm.5 0zm.5 0zm1 0zm.5 0zm.5 0zm1.5 0zm.5 0zm.5 0zm.5 0zm1 0zm.5 0zm1 0zm4.5 0zm1.5 0zm3 0zm1.5 0zm3.5 0zm2.5 0zm2.5 0zm3 0zm8.5 0zm1 0zm5 0zm-61 .5zm1.5 0zm.5 0zm1 0zm.5 0zm.5 0zm.5 0zm.5 0zm.5 0zm.5 0zm.5 0zm.5 0zm.5 0zm.5 0zm.5 0zm.5 0zm.5 0zm.5 0zm.5 0zm1 0zm.5 0zm.5 0zm.5 0zm.5 0zm.5 0zm.5 0zm.5 0zm.5 0zm.5 0zm.5 0zm.5 0zm1 0zm.5 0zm.5 0zm.5 0zm.5 0zm.5 0zm.5 0zm1 0zm.5 0zm.5 0zm1 0zm1.5 0zm1 0zm1.5 0zm5 0zm1 0zm1 0zm12.5 0zm16.5 0zm3.5 0zm-67.5 .5zm1.5 0zm.5 0zm.5 0zm.5 0zm.5 0zm.5 0zm.5 0zm.5 0zm.5 0zm.5 0zm.5 0zm1 0zm.5 0zm.5 0zm.5 0zm.5 0zm.5 0zm1 0zm.5 0zm.5 0zm.5 0zm.5 0zm.5 0zm.5 0zm.5 0zm.5 0zm.5 0zm.5 0zm.5 0zm1 0zm.5 0zm.5 0zm.5 0zm.5 0zm.5 0zm1 0zm2 0zm1 0zm.5 0zm1.5 0zm1.5 0zm5.5 0zm4.5 0zm3.5 0zm4 0zm1.5 0zm1.5 0zm2.5 0zm1.5 0zm7.5 0zm1.5 0zm4.5 0zm12 0zm7 0zm-84.5 .5zm.5 0zm.5 0zm.5 0zm.5 0zm1 0zm.5 0zm1.5 0zm.5 0zm.5 0zm1.5 0zm.5 0zm1 0zm.5 0zm.5 0zm.5 0zm.5 0zm1 0zm.5 0zm.5 0zm.5 0zm.5 0zm.5 0zm.5 0zm.5 0zm.5 0zm.5 0zm.5 0zm.5 0zm.5 0zm.5 0zm.5 0zm.5 0zm1 0zm.5 0zm.5 0zm.5 0zm.5 0zm.5 0zm.5 0zm.5 0zm.5 0zm1.5 0zm3.5 0zm.5 0zm1 0zm1.5 0zm3 0zm1.5 0zm4 0zm4 0zm.5 0zm2 0zm1 0zm4 0zm9 0zm.5 0zm4 0zm-66 .5zm.5 0zm.5 0zm.5 0zm.5 0zm.5 0zm.5 0zm1 0zm.5 0zm1.5 0zm.5 0zm.5 0zm.5 0zm.5 0zm.5 0zm.5 0zm.5 0zm.5 0zm.5 0zm.5 0zm.5 0zm.5 0zm.5 0zm.5 0zm.5 0zm.5 0zm.5 0zm.5 0zm.5 0zm.5 0zm.5 0zm.5 0zm.5 0zm.5 0zm.5 0zm.5 0zm.5 0zm.5 0zm.5 0zm.5 0zm.5 0zm1 0zm.5 0zm.5 0zm1 0zm.5 0zm.5 0zm.5 0zm1 0zm1 0zm6 0zm2 0zm6.5 0zm1 0zm3 0zm2 0zm3 0zm.5 0zm1.5 0zm21 0zm-74.5 .5zm1 0zm.5 0zm.5 0zm1 0zm1 0zm.5 0zm.5 0zm.5 0zm.5 0zm.5 0zm1 0zm.5 0zm.5 0zm.5 0zm.5 0zm1 0zm.5 0zm.5 0zm.5 0zm.5 0zm.5 0zm.5 0zm.5 0zm.5 0zm.5 0zm.5 0zm.5 0zm.5 0zm1 0zm.5 0zm.5 0zm1 0zm.5 0zm1.5 0zm.5 0zm1 0zm.5 0zm1 0zm.5 0zm1 0zm1 0zm.5 0zm.5 0zm1.5 0zm6 0zm20.5 0zm3 0zm.5 0zm1.5 0zm7 0zm4.5 0zm-72.5 .5zm.5 0zm.5 0zm1 0zm1 0zm1 0zm.5 0zm.5 0zm.5 0zm.5 0zm.5 0zm.5 0zm.5 0zm.5 0zm.5 0zm.5 0zm.5 0zm.5 0zm.5 0zm.5 0zm.5 0zm.5 0zm.5 0zm.5 0zm.5 0zm1 0zm.5 0zm.5 0zm.5 0zm.5 0zm.5 0zm1 0zm.5 0zm.5 0zm.5 0zm.5 0zm.5 0zm1 0zm1.5 0zm1 0zm.5 0zm.5 0zm.5 0zm4.5 0zm1 0zm1 0zm.5 0zm1 0zm1.5 0zm.5 0zm.5 0zm.5 0zm1 0zm2 0zm1.5 0zm1.5 0zm2 0zm.5 0zm2.5 0zm2 0zm1 0zm15 0zm-65.5 .5zm1 0zm.5 0zm.5 0zm.5 0zm.5 0zm.5 0zm.5 0zm.5 0zm.5 0zm.5 0zm.5 0zm.5 0zm.5 0zm.5 0zm.5 0zm.5 0zm.5 0zm.5 0zm1 0zm1 0zm.5 0zm.5 0zm.5 0zm.5 0zm.5 0zm.5 0zm.5 0zm1 0zm.5 0zm.5 0zm.5 0zm1 0zm.5 0zm1 0zm.5 0zm.5 0zm.5 0zm.5 0zm1.5 0zm.5 0zm2.5 0zm2.5 0zm1.5 0zm3.5 0zm1 0zm2.5 0zm9 0zm2 0zm6 0zm2 0zm2.5 0zm2 0zm3 0zm5.5 0zm-69.5 .5zm1 0zm.5 0zm.5 0zm.5 0zm1 0zm.5 0zm.5 0zm1 0zm1 0zm.5 0zm.5 0zm.5 0zm.5 0zm.5 0zm.5 0zm.5 0zm.5 0zm.5 0zm.5 0zm.5 0zm.5 0zm.5 0zm.5 0zm.5 0zm.5 0zm1 0zm.5 0zm.5 0zm1 0zm.5 0zm.5 0zm.5 0zm1 0zm.5 0zm.5 0zm.5 0zm.5 0zm.5 0zm1 0zm1.5 0zm1 0zm2.5 0zm.5 0zm6 0zm6 0zm2.5 0zm2 0zm.5 0zm2.5 0zm1.5 0zm1.5 0zm3.5 0zm.5 0zm6 0zm.5 0zm3 0zm-65 .5zm.5 0zm.5 0zm1.5 0zm1 0zm.5 0zm.5 0zm.5 0zm.5 0zm.5 0zm.5 0zm.5 0zm.5 0zm.5 0zm.5 0zm.5 0zm.5 0zm.5 0zm.5 0zm.5 0zm.5 0zm.5 0zm.5 0zm.5 0zm.5 0zm1 0zm.5 0zm.5 0zm.5 0zm.5 0zm.5 0zm.5 0zm.5 0zm.5 0zm.5 0zm.5 0zm.5 0zm.5 0zm.5 0zm.5 0zm.5 0zm.5 0zm.5 0zm.5 0zm1.5 0zm3 0zm1.5 0zm1 0zm1 0zm1 0zm3.5 0zm3 0zm3.5 0zm1 0zm1 0zm.5 0zm4 0zm1.5 0zm.5 0zm3 0zm6 0zm.5 0zm3.5 0zm1 0zm.5 0zm9 0zm1.5 0zm-76 .5zm1 0zm1 0zm.5 0zm1 0zm.5 0zm1 0zm.5 0zm.5 0zm.5 0zm.5 0zm.5 0zm.5 0zm.5 0zm1 0zm.5 0zm1.5 0zm.5 0zm.5 0zm.5 0zm.5 0zm.5 0zm.5 0zm.5 0zm.5 0zm.5 0zm.5 0zm.5 0zm.5 0zm.5 0zm.5 0zm.5 0zm.5 0zm.5 0zm1 0zm1 0zm1.5 0zm2.5 0zm.5 0zm.5 0zm1 0zm.5 0zm1.5 0zm1 0zm.5 0zm3 0zm4.5 0zm.5 0zm5.5 0zm4.5 0zm1 0zm3.5 0zm8.5 0zm4 0zm11.5 0zm-78 .5zm1 0zm.5 0zm2 0zm.5 0zm1.5 0zm.5 0zm.5 0zm1.5 0zm.5 0zm.5 0zm.5 0zm.5 0zm.5 0zm.5 0zm.5 0zm.5 0zm1 0zm.5 0zm.5 0zm.5 0zm.5 0zm1 0zm.5 0zm.5 0zm.5 0zm.5 0zm.5 0zm.5 0zm1 0zm1 0zm1.5 0zm.5 0zm.5 0zm.5 0zm1.5 0zm1 0zm1 0zm1 0zm2.5 0zm5 0zm3 0zm3 0zm2.5 0zm6.5 0zm1.5 0zm3 0zm1.5 0zm2.5 0zm2 0zm1.5 0zm1.5 0zm18 0zm-82.5 .5zm1 0zm.5 0zm.5 0zm.5 0zm.5 0zm.5 0zm.5 0zm.5 0zm.5 0zm.5 0zm.5 0zm.5 0zm.5 0zm.5 0zm1 0zm.5 0zm.5 0zm.5 0zm.5 0zm.5 0zm.5 0zm.5 0zm.5 0zm.5 0zm.5 0zm.5 0zm.5 0zm.5 0zm.5 0zm.5 0zm.5 0zm.5 0zm.5 0zm2 0zm.5 0zm.5 0zm1 0zm.5 0zm.5 0zm.5 0zm.5 0zm.5 0zm1 0zm1 0zm1.5 0zm5 0zm1 0zm4.5 0zm1 0zm14.5 0zm4 0zm5 0zm.5 0zm-63 .5zm1 0zm.5 0zm.5 0zm.5 0zm.5 0zm.5 0zm.5 0zm.5 0zm.5 0zm1 0zm.5 0zm1 0zm.5 0zm.5 0zm.5 0zm.5 0zm.5 0zm.5 0zm.5 0zm.5 0zm.5 0zm.5 0zm.5 0zm.5 0zm.5 0zm.5 0zm.5 0zm.5 0zm.5 0zm.5 0zm.5 0zm1 0zm.5 0zm.5 0zm1 0zm.5 0zm1.5 0zm.5 0zm1.5 0zm.5 0zm.5 0zm.5 0zm1.5 0zm3 0zm2 0zm5 0zm9.5 0zm2 0zm9.5 0zm4.5 0zm2.5 0zm4 0zm9.5 0zm-78.5 .5zm.5 0zm.5 0zm.5 0zm.5 0zm.5 0zm.5 0zm.5 0zm1.5 0zm.5 0zm.5 0zm.5 0zm.5 0zm.5 0zm.5 0zm.5 0zm.5 0zm.5 0zm.5 0zm.5 0zm.5 0zm.5 0zm.5 0zm.5 0zm.5 0zm.5 0zm.5 0zm.5 0zm.5 0zm.5 0zm.5 0zm.5 0zm.5 0zm.5 0zm.5 0zm1 0zm.5 0zm.5 0zm.5 0zm1.5 0zm.5 0zm.5 0zm6 0zm.5 0zm.5 0zm7.5 0zm7.5 0zm5.5 0zm1 0zm12 0zm.5 0zm6.5 0zm-70.5 .5zm.5 0zm.5 0zm.5 0zm1.5 0zm1 0zm.5 0zm.5 0zm1 0zm.5 0zm1 0zm.5 0zm.5 0zm.5 0zm.5 0zm.5 0zm.5 0zm.5 0zm.5 0zm.5 0zm.5 0zm.5 0zm.5 0zm.5 0zm1 0zm.5 0zm.5 0zm.5 0zm1 0zm.5 0zm1.5 0zm.5 0zm.5 0zm.5 0zm.5 0zm.5 0zm1.5 0zm2 0zm2 0zm.5 0zm.5 0zm.5 0zm1 0zm1 0zm2 0zm2 0zm2.5 0zm3.5 0zm3 0zm1 0zm8 0zm4.5 0zm7 0zm1 0zm.5 0zm5 0zm-71 .5zm.5 0zm.5 0zm1.5 0zm.5 0zm.5 0zm.5 0zm1.5 0zm.5 0zm.5 0zm.5 0zm.5 0zm.5 0zm.5 0zm.5 0zm.5 0zm.5 0zm.5 0zm.5 0zm.5 0zm.5 0zm.5 0zm.5 0zm1 0zm.5 0zm.5 0zm.5 0zm.5 0zm.5 0zm1 0zm.5 0zm.5 0zm.5 0zm.5 0zm1.5 0zm.5 0zm.5 0zm1 0zm2 0zm1.5 0zm2.5 0zm2 0zm6.5 0zm5 0zm11.5 0zm4.5 0zm3 0zm1 0zm1 0zm-63.5 .5zm.5 0zm1 0zm1 0zm1 0zm.5 0zm.5 0zm.5 0zm1.5 0zm.5 0zm.5 0zm.5 0zm.5 0zm.5 0zm.5 0zm.5 0zm1 0zm.5 0zm.5 0zm.5 0zm.5 0zm1 0zm.5 0zm.5 0zm.5 0zm1 0zm1 0zm1 0zm1.5 0zm.5 0zm1 0zm1 0zm1 0zm1.5 0zm.5 0zm3.5 0zm8 0zm4 0zm1 0zm2 0zm1 0zm.5 0zm.5 0zm.5 0zm5.5 0zm3 0zm6.5 0zm20.5 0zm6 0zm-88 .5zm1 0zm.5 0zm1 0zm.5 0zm.5 0zm2 0zm.5 0zm.5 0zm.5 0zm.5 0zm1 0zm.5 0zm.5 0zm.5 0zm.5 0zm1 0zm.5 0zm.5 0zm.5 0zm.5 0zm.5 0zm.5 0zm.5 0zm.5 0zm.5 0zm.5 0zm.5 0zm.5 0zm1 0zm1 0zm.5 0zm.5 0zm1.5 0zm.5 0zm.5 0zm2.5 0zm.5 0zm.5 0zm5.5 0zm3.5 0zm2 0zm.5 0zm3.5 0zm1.5 0zm3 0zm1.5 0zm4 0zm.5 0zm.5 0zm1 0zm.5 0zm2.5 0zm.5 0zm13 0zm8 0zm-78 .5zm.5 0zm2 0zm.5 0zm1 0zm.5 0zm1 0zm.5 0zm1 0zm1 0zm.5 0zm.5 0zm.5 0zm.5 0zm.5 0zm.5 0zm.5 0zm.5 0zm.5 0zm.5 0zm.5 0zm1 0zm.5 0zm.5 0zm1 0zm.5 0zm.5 0zm1 0zm.5 0zm1.5 0zm.5 0zm1.5 0zm.5 0zm2.5 0zm.5 0zm1.5 0zm5 0zm9 0zm5 0zm7 0zm3 0zm1.5 0zm1.5 0zm-59.5 .5zm.5 0zm.5 0zm1 0zm.5 0zm.5 0zm.5 0zm.5 0zm1.5 0zm.5 0zm.5 0zm.5 0zm.5 0zm.5 0zm.5 0zm.5 0zm.5 0zm.5 0zm.5 0zm1 0zm1 0zm.5 0zm.5 0zm1 0zm.5 0zm1.5 0zm1 0zm.5 0zm1 0zm.5 0zm.5 0zm.5 0zm.5 0zm1 0zm4 0zm6 0zm3.5 0zm2 0zm2 0zm6 0zm.5 0zm9 0zm.5 0zm1.5 0zm1.5 0zm1 0zm11 0zm16.5 0zm-87 .5zm.5 0zm.5 0zm.5 0zm.5 0zm.5 0zm1.5 0zm.5 0zm1 0zm.5 0zm.5 0zm1 0zm.5 0zm.5 0zm.5 0zm1 0zm.5 0zm.5 0zm.5 0zm.5 0zm1 0zm1 0zm.5 0zm.5 0zm.5 0zm.5 0zm.5 0zm.5 0zm.5 0zm.5 0zm1 0zm.5 0zm.5 0zm.5 0zm.5 0zm.5 0zm2 0zm1.5 0zm2 0zm2 0zm.5 0zm1 0zm1.5 0zm1.5 0zm3.5 0zm19 0zm4 0zm23 0zm-83 .5zm3 0zm.5 0zm1 0zm.5 0zm.5 0zm.5 0zm.5 0zm.5 0zm.5 0zm.5 0zm.5 0zm.5 0zm.5 0zm.5 0zm.5 0zm.5 0zm.5 0zm.5 0zm1 0zm.5 0zm.5 0zm.5 0zm1 0zm1 0zm.5 0zm1 0zm.5 0zm.5 0zm.5 0zm1.5 0zm1 0zm1.5 0zm.5 0zm1 0zm.5 0zm2.5 0zm4 0zm1 0zm4 0zm3.5 0zm5.5 0zm25.5 0zm-71.5 .5zm.5 0zm.5 0zm.5 0zm.5 0zm1.5 0zm.5 0zm1 0zm1 0zm1 0zm.5 0zm.5 0zm1 0zm.5 0zm.5 0zm.5 0zm.5 0zm.5 0zm.5 0zm.5 0zm1 0zm.5 0zm.5 0zm.5 0zm.5 0zm1 0zm1 0zm1 0zm1 0zm1.5 0zm1.5 0zm2.5 0zm12 0zm3.5 0zm.5 0zm3.5 0zm2 0zm.5 0zm2 0zm2.5 0zm.5 0zm2 0zm5.5 0zm7.5 0zm-67 .5zm.5 0zm1 0zm1.5 0zm.5 0zm.5 0zm1 0zm.5 0zm1 0zm.5 0zm.5 0zm.5 0zm1 0zm.5 0zm.5 0zm.5 0zm.5 0zm.5 0zm1 0zm1 0zm.5 0zm.5 0zm.5 0zm.5 0zm1 0zm.5 0zm.5 0zm.5 0zm.5 0zm.5 0zm.5 0zm1.5 0zm1 0zm.5 0zm1 0zm1.5 0zm1 0zm5.5 0zm8.5 0zm4.5 0zm.5 0zm3 0zm1.5 0zm1.5 0zm4.5 0zm28 0zm-83.5 .5zm.5 0zm.5 0zm1.5 0zm.5 0zm.5 0zm2.5 0zm.5 0zm.5 0zm.5 0zm.5 0zm1 0zm.5 0zm.5 0zm.5 0zm.5 0zm.5 0zm.5 0zm.5 0zm.5 0zm.5 0zm.5 0zm.5 0zm.5 0zm.5 0zm1 0zm1 0zm.5 0zm.5 0zm.5 0zm1 0zm.5 0zm.5 0zm1 0zm.5 0zm.5 0zm.5 0zm.5 0zm1.5 0zm3 0zm1.5 0zm5 0zm1.5 0zm3 0zm10.5 0zm.5 0zm1.5 0zm8 0zm7 0zm1 0zm10.5 0zm-78.5 .5zm2.5 0zm.5 0zm1.5 0zm.5 0zm1.5 0zm.5 0zm1 0zm1 0zm.5 0zm2 0zm.5 0zm1 0zm.5 0zm.5 0zm1 0zm.5 0zm.5 0zm.5 0zm.5 0zm.5 0zm.5 0zm1.5 0zm2.5 0zm1 0zm.5 0zm.5 0zm2 0zm1 0zm1.5 0zm3 0zm3.5 0zm1 0zm2 0zm3.5 0zm.5 0zm.5 0zm2.5 0zm2 0zm4 0zm1 0zm1 0zm17.5 0zm-70.5 .5zm1 0zm3 0zm.5 0zm.5 0zm1 0zm.5 0zm.5 0zm.5 0zm.5 0zm1 0zm.5 0zm.5 0zm.5 0zm.5 0zm.5 0zm.5 0zm.5 0zm.5 0zm.5 0zm.5 0zm.5 0zm1 0zm.5 0zm.5 0zm.5 0zm.5 0zm.5 0zm.5 0zm.5 0zm1.5 0zm1 0zm1 0zm.5 0zm1.5 0zm2.5 0zm1 0zm4.5 0zm1.5 0zm1.5 0zm3.5 0zm3 0zm.5 0zm4.5 0zm2 0zm1 0zm6 0zm4 0zm26 0zm-86 .5zm.5 0zm1.5 0zm1.5 0zm.5 0zm1 0zm1 0zm.5 0zm.5 0zm.5 0zm1 0zm1.5 0zm.5 0zm.5 0zm.5 0zm2 0zm.5 0zm1 0zm.5 0zm.5 0zm.5 0zm.5 0zm1 0zm.5 0zm1 0zm.5 0zm.5 0zm.5 0zm.5 0zm.5 0zm.5 0zm.5 0zm1 0zm3.5 0zm.5 0zm1 0zm6.5 0zm1 0zm1.5 0zm1 0zm7.5 0zm1.5 0zm2.5 0zm6 0zm2.5 0zm10 0zm5 0zm-74 .5zm.5 0zm2 0zm1 0zm1 0zm.5 0zm.5 0zm.5 0zm.5 0zm.5 0zm1 0zm.5 0zm.5 0zm.5 0zm.5 0zm.5 0zm.5 0zm1 0zm.5 0zm.5 0zm.5 0zm.5 0zm.5 0zm.5 0zm.5 0zm1 0zm1.5 0zm1 0zm2 0zm.5 0zm1.5 0zm1.5 0zm.5 0zm.5 0zm2.5 0zm1.5 0zm10 0zm3 0zm7.5 0zm2.5 0zm5.5 0zm1 0zm2 0zm-61 .5zm.5 0zm.5 0zm3 0zm1.5 0zm.5 0zm.5 0zm1.5 0zm.5 0zm.5 0zm.5 0zm1 0zm.5 0zm.5 0zm.5 0zm.5 0zm.5 0zm.5 0zm.5 0zm.5 0zm1 0zm.5 0zm1 0zm2 0zm.5 0zm1.5 0zm2.5 0zm1 0zm4.5 0zm7 0zm.5 0zm2.5 0zm.5 0zm2.5 0zm2.5 0zm1 0zm4 0zm1 0zm5.5 0zm.5 0zm8.5 0zm8.5 0zm-73.5 .5zm.5 0zm1 0zm2.5 0zm.5 0zm.5 0zm.5 0zm1 0zm.5 0zm1 0zm.5 0zm.5 0zm.5 0zm.5 0zm.5 0zm2.5 0zm.5 0zm.5 0zm.5 0zm.5 0zm1.5 0zm2 0zm1 0zm2.5 0zm5.5 0zm1 0zm1.5 0zm.5 0zm1 0zm1.5 0zm1.5 0zm4.5 0zm.5 0zm2 0zm3.5 0zm2 0zm10.5 0zm5 0zm2.5 0zm-65 .5zm1 0zm1 0zm.5 0zm3.5 0zm.5 0zm1.5 0zm.5 0zm.5 0zm2 0zm1 0zm1.5 0zm1 0zm.5 0zm.5 0zm.5 0zm1 0zm1.5 0zm1 0zm1.5 0zm24 0zm2.5 0zm2 0zm2.5 0zm6.5 0zm6 0zm2 0zm10 0zm-76.5 .5zm2 0zm.5 0zm.5 0zm1 0zm1 0zm.5 0zm.5 0zm1 0zm.5 0zm.5 0zm.5 0zm1 0zm1 0zm.5 0zm1.5 0zm.5 0zm.5 0zm1 0zm1.5 0zm2 0zm.5 0zm.5 0zm.5 0zm1 0zm1 0zm1 0zm.5 0zm2.5 0zm1 0zm3.5 0zm1.5 0zm3 0zm7.5 0zm4.5 0zm1.5 0zm.5 0zm14 0zm-62.5 .5zm1 0zm.5 0zm1 0zm1 0zm.5 0zm2 0zm.5 0zm.5 0zm4 0zm.5 0zm.5 0zm1 0zm1.5 0zm1 0zm.5 0zm3 0zm1.5 0zm3 0zm1.5 0zm1.5 0zm13 0zm3.5 0zm5.5 0zm2 0zm2.5 0zm1.5 0zm6 0zm-60.5 .5zm1 0zm.5 0zm3 0zm1 0zm.5 0zm1 0zm.5 0zm2.5 0zm.5 0zm.5 0zm.5 0zm2 0zm1 0zm1.5 0zm.5 0zm.5 0zm.5 0zm.5 0zm1.5 0zm3.5 0zm.5 0zm.5 0zm.5 0zm1 0zm10 0zm3.5 0zm4.5 0zm6.5 0zm6.5 0zm2 0zm9.5 0zm1.5 0zm-69.5 .5zm1 0zm1.5 0zm1.5 0zm.5 0zm.5 0zm2 0zm.5 0zm.5 0zm4.5 0zm1 0zm.5 0zm.5 0zm1.5 0zm1.5 0zm1 0zm1 0zm1 0zm.5 0zm3.5 0zm2 0zm1 0zm3 0zm1 0zm1 0zm1 0zm4.5 0zm4.5 0zm3 0zm12.5 0zm10 0zm-68 .5zm.5 0zm3 0zm2 0zm2 0zm.5 0zm.5 0zm3.5 0zm1 0zm1 0zm4.5 0zm.5 0zm2.5 0zm7 0zm14.5 0zm6.5 0zm5.5 0zm3.5 0zm8 0zm-66.5 .5zm2 0zm4 0zm1 0zm1 0zm.5 0zm2 0zm2.5 0zm.5 0zm2 0zm.5 0zm1 0zm1 0zm1 0zm.5 0zm4 0zm.5 0zm4 0zm5.5 0zm10.5 0zm4.5 0zm1 0zm4 0zm2.5 0zm3.5 0zm2.5 0zm-62 .5zm.5 0zm.5 0zm1.5 0zm1.5 0zm.5 0zm1.5 0zm1 0zm1 0zm1.5 0zm1.5 0zm1.5 0zm1 0zm2 0zm.5 0zm2 0zm1 0zm5 0zm5.5 0zm.5 0zm13.5 0zm8 0zm.5 0zm4 0zm-56 .5zm2.5 0zm2.5 0zm3 0zm.5 0zm.5 0zm.5 0zm.5 0zm.5 0zm.5 0zm2.5 0zm.5 0zm1 0zm1.5 0zm.5 0zm.5 0zm.5 0zm1 0zm1.5 0zm3 0zm1 0zm.5 0zm1 0zm6.5 0zm6 0zm5.5 0zm1 0zm9.5 0zm-54.5 .5zm1 0zm.5 0zm.5 0zm.5 0zm.5 0zm.5 0zm1 0zm.5 0zm.5 0zm.5 0zm.5 0zm.5 0zm.5 0zm.5 0zm.5 0zm.5 0zm.5 0zm.5 0zm.5 0zm.5 0zm.5 0zm1 0zm.5 0zm.5 0zm.5 0zm.5 0zm.5 0zm.5 0zm.5 0zm.5 0zm.5 0zm.5 0zm.5 0zm.5 0zm.5 0zm.5 0zm.5 0zm.5 0zm1 0zm.5 0zm.5 0zm.5 0zm.5 0zm1 0zm.5 0zm.5 0zm1 0zm1 0zm.5 0zm.5 0zm1 0zm.5 0zm.5 0zm.5 0zm.5 0zm.5 0zm.5 0zm1 0zm.5 0zm.5 0zm1 0zm.5 0zm.5 0zm.5 0zm.5 0zm.5 0zm2 0zm.5 0zm.5 0zm.5 0zm1 0zm.5 0zm.5 0zm.5 0zm.5 0zm.5 0zm.5 0zm.5 0zm1 0zm.5 0zm.5 0zm.5 0zm.5 0zm1 0zm.5 0zm.5 0zm.5 0zm.5 0zm.5 0zm2.5 0zm.5 0zm.5 0zm.5 0zm1 0zm.5 0zm.5 0zm1 0zm.5 0zm.5 0zm1.5 0zm1.5 0zm1 0zm.5 0zm.5 0zm2 0zm.5 0zm.5 0zm.5 0zm1 0zm1 0zm6.5 0zm10.5 0z"/><path class="g" d="M85.5 485.4V611.7M54.5 561.5H181.6"/><path class="f" d="M53.6 485.4H182.6"/><path class="f2" d="M54.5 484.8V611.9H181.7V484.8"/><path class="t" d="M54.5 611.7h-4.2M54.5 611.7v3.8M54.5 580.1h-4.2M86.3 611.7v3.8M54.5 548.5h-4.2M118 611.7v3.8M54.5 517h-4.2M149.8 611.7v3.8M54.5 485.4h-4.2M181.6 611.7v3.8"/><path class="m" d="M54.5 602.2h-2.4M64.1 611.7v2.5M54.5 596.6h-2.4M69.7 611.7v2.5M54.5 592.7h-2.4M73.6 611.7v2.5M54.5 589.6h-2.4M76.7 611.7v2.5M54.5 587.1h-2.4M79.2 611.7v2.5M54.5 585h-2.4M81.4 611.7v2.5M54.5 583.2h-2.4M83.2 611.7v2.5M54.5 581.6h-2.4M84.8 611.7v2.5M54.5 570.6h-2.4M95.8 611.7v2.5M54.5 565.1h-2.4M101.4 611.7v2.5M54.5 561.1h-2.4M105.4 611.7v2.5M54.5 558.1h-2.4M108.5 611.7v2.5M54.5 555.6h-2.4M111 611.7v2.5M54.5 553.4h-2.4M113.1 611.7v2.5M54.5 551.6h-2.4M115 611.7v2.5M54.5 550h-2.4M116.6 611.7v2.5M54.5 539h-2.4M127.6 611.7v2.5M54.5 533.5h-2.4M133.2 611.7v2.5M54.5 529.5h-2.4M137.2 611.7v2.5M54.5 526.5h-2.4M140.3 611.7v2.5M54.5 524h-2.4M142.8 611.7v2.5M54.5 521.9h-2.4M144.9 611.7v2.5M54.5 520h-2.4M146.7 611.7v2.5M54.5 518.4h-2.4M148.4 611.7v2.5M54.5 507.5h-2.4M159.4 611.7v2.5M54.5 501.9h-2.4M165 611.7v2.5M54.5 498h-2.4M169 611.7v2.5M54.5 494.9h-2.4M172 611.7v2.5M54.5 492.4h-2.4M174.6 611.7v2.5M54.5 490.3h-2.4M176.7 611.7v2.5M54.5 488.5h-2.4M178.5 611.7v2.5M54.5 486.8h-2.4M180.1 611.7v2.5"/><text class="k y" text-anchor="end" x="49.2" y="614.5">1</text><text class="k y" text-anchor="end" x="49.2" y="582.9">10</text><text class="k y" text-anchor="end" x="49.2" y="551.3">100</text><text class="k y" text-anchor="end" x="49.2" y="519.8">1000</text><text class="k y" text-anchor="end" x="49.2" y="488.2">10000</text><text class="k" text-anchor="middle" x="54.8" y="622.5">1</text><text class="k" text-anchor="middle" x="86.6" y="622.5">10</text><text class="k" text-anchor="middle" x="118.3" y="622.5">100</text><text class="k" text-anchor="middle" x="150.1" y="622.5">1000</text><text class="k" text-anchor="middle" x="181.9" y="622.5">10000</text><rect class="b" x="55.4" y="603.5" width="18.3" height="7.3"/><text class="q" x="56.2" y="493.4">0.044</text><text class="q" text-anchor="end" x="180.7" y="493.4">0.17</text><text class="q" x="56.4" y="610.1">91.1</text><text class="q" text-anchor="end" x="180.7" y="610">8.71</text></g>
<g><path class="d" d="M246 572zm-5.5 1zm-15 .5zm21.5 0zm2 0zm-4.5 .5zm-20 .5zm25 0zm2.5 0zm-6 .5zm1.5 0zm-4 .5zm7 0zm4.5 0zm-34 .5zm10 0zm12 0zm10 0zm5.5 0zm-24 .5zm4 0zm11.5 0zm4 0zm-16 .5zm3 0zm4 0zm1.5 0zm10.5 0zm-26.5 .5zm10 0zm2 0zm5.5 0zm1 0zm4 0zm-22.5 .5zm5.5 0zm7 0zm2.5 0zm4 0zm3 0zm3.5 0zm-17 .5zm.5 0zm4.5 0zm.5 0zm3 0zm2 0zm2 0zm-24 .5zm2.5 0zm6 0zm3.5 0zm2.5 0zm2 0zm.5 0zm2 0zm.5 0zm.5 0zm3 0zm-23.5 .5zm13 0zm.5 0zm2 0zm.5 0zm1 0zm.5 0zm1 0zm.5 0zm1 0zm.5 0zm.5 0zm1 0zm-23.5 .5zm1.5 0zm6 0zm3 0zm5.5 0zm4.5 0zm.5 0zm.5 0zm1 0zm1.5 0zm1 0zm1.5 0zm1 0zm3.5 0zm-19 .5zm6.5 0zm.5 0zm.5 0zm2 0zm.5 0zm1.5 0zm1.5 0zm2 0zm-21 .5zm2 0zm.5 0zm7 0zm3 0zm1.5 0zm2.5 0zm1.5 0zm2 0zm1.5 0zm.5 0zm1.5 0zm.5 0zm-19 .5zm4 0zm1.5 0zm.5 0zm.5 0zm.5 0zm.5 0zm1.5 0zm2.5 0zm.5 0zm.5 0zm2 0zm1.5 0zm3 0zm-23 .5zm5.5 0zm.5 0zm3 0zm1.5 0zm1 0zm1 0zm1 0zm2 0zm1.5 0zm1.5 0zm1 0zm-27 .5zm.5 0zm10 0zm3.5 0zm.5 0zm.5 0zm.5 0zm.5 0zm1.5 0zm.5 0zm.5 0zm.5 0zm.5 0zm1 0zm1.5 0zm1.5 0zm1.5 0zm1.5 0zm-12 .5zm.5 0zm.5 0zm.5 0zm1.5 0zm.5 0zm1.5 0zm1 0zm.5 0zm1.5 0zm3.5 0zm.5 0zm.5 0zm11 0zm-35 .5zm4.5 0zm3 0zm2.5 0zm.5 0zm1 0zm2 0zm1 0zm1.5 0zm.5 0zm1 0zm.5 0zm.5 0zm1 0zm1 0zm1 0zm1 0zm.5 0zm.5 0zm1.5 0zm-24.5 .5zm11 0zm1 0zm.5 0zm.5 0zm.5 0zm1.5 0zm.5 0zm.5 0zm.5 0zm1.5 0zm.5 0zm.5 0zm2.5 0zm1 0zm1 0zm1 0zm.5 0zm4 0zm1.5 0zm-21 .5zm3 0zm2 0zm.5 0zm1 0zm.5 0zm1 0zm1 0zm.5 0zm1 0zm1 0zm.5 0zm.5 0zm1 0zm.5 0zm3 0zm6 0zm-34.5 .5zm7 0zm2 0zm1.5 0zm.5 0zm3.5 0zm.5 0zm1.5 0zm1 0zm1 0zm.5 0zm.5 0zm.5 0zm.5 0zm3.5 0zm1 0zm1 0zm.5 0zm1.5 0zm5 0zm-32.5 .5zm2.5 0zm2 0zm6 0zm3.5 0zm1.5 0zm.5 0zm1 0zm.5 0zm.5 0zm.5 0zm.5 0zm.5 0zm1.5 0zm.5 0zm.5 0zm.5 0zm1 0zm.5 0zm1 0zm.5 0zm1 0zm6.5 0zm-30 .5zm4.5 0zm.5 0zm2.5 0zm1 0zm1.5 0zm1 0zm4 0zm1 0zm.5 0zm.5 0zm.5 0zm.5 0zm.5 0zm.5 0zm1 0zm.5 0zm.5 0zm.5 0zm.5 0zm-14 .5zm1 0zm1.5 0zm.5 0zm1 0zm.5 0zm.5 0zm.5 0zm.5 0zm.5 0zm.5 0zm.5 0zm.5 0zm.5 0zm1.5 0zm.5 0zm1 0zm.5 0zm.5 0zm1 0zm1.5 0zm1.5 0zm5.5 0zm-26.5 .5zm1 0zm1 0zm1.5 0zm3 0zm1 0zm1 0zm1 0zm.5 0zm.5 0zm1 0zm1.5 0zm.5 0zm.5 0zm1 0zm.5 0zm1 0zm.5 0zm1.5 0zm1 0zm2 0zm1 0zm1.5 0zm4 0zm-37.5 .5zm1 0zm4.5 0zm.5 0zm5 0zm3 0zm2 0zm1.5 0zm2 0zm.5 0zm.5 0zm.5 0zm.5 0zm.5 0zm.5 0zm.5 0zm.5 0zm.5 0zm.5 0zm.5 0zm1 0zm1 0zm1.5 0zm.5 0zm4.5 0zm1.5 0zm-24 .5zm1 0zm1 0zm1 0zm2 0zm1 0zm.5 0zm.5 0zm.5 0zm.5 0zm.5 0zm.5 0zm.5 0zm1.5 0zm.5 0zm.5 0zm.5 0zm1.5 0zm.5 0zm.5 0zm1 0zm2 0zm.5 0zm.5 0zm1 0zm3 0zm-37 .5zm2.5 0zm5.5 0zm2.5 0zm1 0zm3.5 0zm2 0zm1 0zm1 0zm2 0zm.5 0zm.5 0zm.5 0zm1 0zm.5 0zm.5 0zm.5 0zm.5 0zm.5 0zm.5 0zm.5 0zm.5 0zm.5 0zm1 0zm2.5 0zm.5 0zm.5 0zm3.5 0zm.5 0zm6.5 0zm-40 .5zm5 0zm5.5 0zm1 0zm3 0zm.5 0zm.5 0zm.5 0zm.5 0zm.5 0zm1 0zm.5 0zm.5 0zm1 0zm.5 0zm.5 0zm.5 0zm.5 0zm.5 0zm.5 0zm.5 0zm.5 0zm.5 0zm.5 0zm.5 0zm1.5 0zm.5 0zm.5 0zm2 0zm.5 0zm1 0zm-21 .5zm1.5 0zm.5 0zm.5 0zm.5 0zm.5 0zm3 0zm1 0zm.5 0zm1 0zm.5 0zm.5 0zm.5 0zm.5 0zm.5 0zm.5 0zm.5 0zm.5 0zm.5 0zm1 0zm.5 0zm1 0zm.5 0zm.5 0zm.5 0zm.5 0zm2 0zm4 0zm.5 0zm-37.5 .5zm2.5 0zm9.5 0zm2 0zm.5 0zm2.5 0zm.5 0zm.5 0zm2.5 0zm1 0zm.5 0zm.5 0zm.5 0zm.5 0zm.5 0zm.5 0zm.5 0zm.5 0zm.5 0zm.5 0zm.5 0zm.5 0zm.5 0zm.5 0zm.5 0zm.5 0zm.5 0zm.5 0zm1 0zm1.5 0zm2.5 0zm-30.5 .5zm3.5 0zm1 0zm2 0zm1 0zm1 0zm2 0zm.5 0zm1 0zm.5 0zm.5 0zm.5 0zm.5 0zm1 0zm.5 0zm.5 0zm.5 0zm.5 0zm.5 0zm.5 0zm.5 0zm.5 0zm.5 0zm.5 0zm.5 0zm.5 0zm.5 0zm.5 0zm1.5 0zm1.5 0zm.5 0zm.5 0zm1 0zm1 0zm1 0zm-30 .5zm2.5 0zm6 0zm5 0zm1.5 0zm1 0zm1 0zm.5 0zm.5 0zm.5 0zm.5 0zm1 0zm.5 0zm.5 0zm.5 0zm.5 0zm.5 0zm.5 0zm.5 0zm.5 0zm1 0zm.5 0zm.5 0zm.5 0zm.5 0zm.5 0zm.5 0zm1.5 0zm.5 0zm1.5 0zm1 0zm-31.5 .5zm5.5 0zm4.5 0zm.5 0zm.5 0zm.5 0zm1 0zm1 0zm.5 0zm.5 0zm1 0zm1 0zm.5 0zm.5 0zm.5 0zm.5 0zm.5 0zm.5 0zm.5 0zm.5 0zm1 0zm.5 0zm.5 0zm.5 0zm.5 0zm.5 0zm.5 0zm.5 0zm.5 0zm.5 0zm1.5 0zm.5 0zm1 0zm2.5 0zm2.5 0zm-37.5 .5zm5.5 0zm1 0zm5 0zm1 0zm.5 0zm1.5 0zm1 0zm.5 0zm1 0zm.5 0zm.5 0zm.5 0zm.5 0zm.5 0zm.5 0zm.5 0zm.5 0zm.5 0zm.5 0zm.5 0zm.5 0zm1 0zm.5 0zm.5 0zm.5 0zm.5 0zm.5 0zm.5 0zm.5 0zm.5 0zm.5 0zm1.5 0zm.5 0zm1 0zm2.5 0zm3 0zm-38.5 .5zm8.5 0zm1.5 0zm1.5 0zm.5 0zm4 0zm1 0zm1.5 0zm.5 0zm1 0zm.5 0zm.5 0zm.5 0zm.5 0zm.5 0zm.5 0zm.5 0zm.5 0zm.5 0zm.5 0zm.5 0zm.5 0zm.5 0zm.5 0zm.5 0zm.5 0zm.5 0zm.5 0zm.5 0zm.5 0zm.5 0zm.5 0zm1 0zm.5 0zm.5 0zm.5 0zm-28.5 .5zm.5 0zm1.5 0zm2 0zm1 0zm2.5 0zm.5 0zm.5 0zm.5 0zm1 0zm2 0zm.5 0zm.5 0zm1 0zm1 0zm1 0zm.5 0zm.5 0zm.5 0zm.5 0zm.5 0zm.5 0zm.5 0zm.5 0zm.5 0zm.5 0zm.5 0zm.5 0zm.5 0zm.5 0zm.5 0zm.5 0zm.5 0zm.5 0zm.5 0zm.5 0zm.5 0zm.5 0zm.5 0zm1.5 0zm.5 0zm.5 0zm.5 0zm.5 0zm-31 .5zm7 0zm.5 0zm2 0zm1 0zm1 0zm.5 0zm.5 0zm1 0zm.5 0zm1 0zm.5 0zm.5 0zm.5 0zm.5 0zm1 0zm.5 0zm.5 0zm.5 0zm1 0zm.5 0zm.5 0zm.5 0zm2 0zm1 0zm.5 0zm.5 0zm1 0zm1.5 0zm1.5 0zm-29.5 .5zm1.5 0zm.5 0zm1.5 0zm1.5 0zm1 0zm1 0zm1.5 0zm1 0zm.5 0zm.5 0zm1 0zm1.5 0zm1 0zm.5 0zm.5 0zm.5 0zm.5 0zm.5 0zm.5 0zm.5 0zm1 0zm.5 0zm1 0zm.5 0zm.5 0zm.5 0zm.5 0zm.5 0zm.5 0zm.5 0zm.5 0zm.5 0zm.5 0zm.5 0zm.5 0zm1 0zm.5 0zm1 0zm.5 0zm.5 0zm1.5 0zm1 0zm-32 .5zm4 0zm3.5 0zm2 0zm.5 0zm1.5 0zm1 0zm1.5 0zm1.5 0zm.5 0zm.5 0zm1 0zm.5 0zm.5 0zm1 0zm.5 0zm.5 0zm.5 0zm.5 0zm.5 0zm.5 0zm.5 0zm.5 0zm.5 0zm.5 0zm.5 0zm.5 0zm.5 0zm.5 0zm.5 0zm.5 0zm.5 0zm2 0zm1.5 0zm-31 .5zm4.5 0zm1.5 0zm.5 0zm1 0zm1.5 0zm1 0zm.5 0zm.5 0zm.5 0zm1.5 0zm.5 0zm.5 0zm.5 0zm.5 0zm.5 0zm.5 0zm1 0zm.5 0zm.5 0zm.5 0zm.5 0zm.5 0zm.5 0zm.5 0zm.5 0zm.5 0zm.5 0zm.5 0zm.5 0zm.5 0zm.5 0zm.5 0zm.5 0zm.5 0zm.5 0zm.5 0zm.5 0zm1 0zm1 0zm.5 0zm.5 0zm3.5 0zm-35.5 .5zm1.5 0zm.5 0zm1 0zm.5 0zm2 0zm3.5 0zm3 0zm.5 0zm.5 0zm.5 0zm.5 0zm.5 0zm1 0zm.5 0zm.5 0zm.5 0zm.5 0zm.5 0zm.5 0zm.5 0zm.5 0zm.5 0zm.5 0zm.5 0zm.5 0zm.5 0zm.5 0zm.5 0zm.5 0zm.5 0zm.5 0zm.5 0zm.5 0zm.5 0zm.5 0zm.5 0zm.5 0zm.5 0zm.5 0zm3 0zm1.5 0zm-34 .5zm6 0zm3 0zm1 0zm.5 0zm.5 0zm2 0zm1 0zm1 0zm.5 0zm.5 0zm.5 0zm.5 0zm.5 0zm.5 0zm1 0zm.5 0zm.5 0zm.5 0zm.5 0zm.5 0zm.5 0zm.5 0zm.5 0zm.5 0zm.5 0zm.5 0zm.5 0zm.5 0zm.5 0zm.5 0zm.5 0zm.5 0zm.5 0zm.5 0zm.5 0zm2 0zm.5 0zm1.5 0zm1 0zm-31 .5zm3 0zm2 0zm1 0zm1.5 0zm1.5 0zm1 0zm.5 0zm.5 0zm1.5 0zm.5 0zm1 0zm.5 0zm.5 0zm.5 0zm.5 0zm.5 0zm.5 0zm.5 0zm.5 0zm.5 0zm.5 0zm.5 0zm.5 0zm.5 0zm.5 0zm.5 0zm.5 0zm.5 0zm1 0zm.5 0zm.5 0zm.5 0zm.5 0zm.5 0zm1 0zm4.5 0zm-34 .5zm2.5 0zm2 0zm.5 0zm2.5 0zm1 0zm3 0zm.5 0zm.5 0zm.5 0zm1.5 0zm1 0zm.5 0zm.5 0zm.5 0zm.5 0zm.5 0zm.5 0zm.5 0zm.5 0zm1 0zm.5 0zm.5 0zm.5 0zm.5 0zm.5 0zm.5 0zm.5 0zm.5 0zm.5 0zm.5 0zm.5 0zm.5 0zm1 0zm.5 0zm1 0zm.5 0zm.5 0zm1 0zm1 0zm.5 0zm3 0zm-39.5 .5zm5.5 0zm3 0zm5 0zm1.5 0zm1 0zm1 0zm.5 0zm1.5 0zm.5 0zm.5 0zm.5 0zm.5 0zm.5 0zm.5 0zm.5 0zm.5 0zm.5 0zm.5 0zm.5 0zm.5 0zm.5 0zm.5 0zm.5 0zm.5 0zm.5 0zm.5 0zm.5 0zm.5 0zm.5 0zm.5 0zm.5 0zm.5 0zm.5 0zm.5 0zm.5 0zm.5 0zm2 0zm.5 0zm-28.5 .5zm2.5 0zm5 0zm2.5 0zm.5 0zm.5 0zm2 0zm.5 0zm.5 0zm.5 0zm.5 0zm.5 0zm.5 0zm.5 0zm.5 0zm.5 0zm.5 0zm.5 0zm.5 0zm.5 0zm.5 0zm.5 0zm.5 0zm.5 0zm.5 0zm.5 0zm.5 0zm.5 0zm.5 0zm.5 0zm1 0zm.5 0zm.5 0zm1 0zm1 0zm1 0zm1.5 0zm-34.5 .5zm1.5 0zm1 0zm1.5 0zm1 0zm5 0zm1.5 0zm.5 0zm.5 0zm.5 0zm1 0zm1 0zm.5 0zm.5 0zm.5 0zm.5 0zm.5 0zm.5 0zm.5 0zm.5 0zm.5 0zm.5 0zm.5 0zm.5 0zm.5 0zm.5 0zm.5 0zm.5 0zm.5 0zm.5 0zm.5 0zm.5 0zm.5 0zm.5 0zm.5 0zm1 0zm1 0zm.5 0zm.5 0zm.5 0zm.5 0zm.5 0zm1 0zm1 0zm1 0zm3.5 0zm-37 .5zm.5 0zm4 0zm.5 0zm.5 0zm2 0zm2 0zm1 0zm.5 0zm1 0zm.5 0zm.5 0zm1 0zm.5 0zm.5 0zm1 0zm.5 0zm.5 0zm.5 0zm.5 0zm.5 0zm.5 0zm.5 0zm.5 0zm.5 0zm.5 0zm.5 0zm.5 0zm.5 0zm.5 0zm.5 0zm.5 0zm.5 0zm.5 0zm.5 0zm.5 0zm.5 0zm.5 0zm.5 0zm.5 0zm.5 0zm.5 0zm.5 0zm.5 0zm1 0zm.5 0zm2 0zm.5 0zm3.5 0zm-39 .5zm7.5 0zm2.5 0zm.5 0zm2 0zm1.5 0zm1 0zm.5 0zm.5 0zm.5 0zm.5 0zm.5 0zm.5 0zm.5 0zm.5 0zm.5 0zm.5 0zm.5 0zm.5 0zm.5 0zm.5 0zm.5 0zm.5 0zm.5 0zm.5 0zm.5 0zm.5 0zm.5 0zm.5 0zm.5 0zm.5 0zm.5 0zm.5 0zm.5 0zm1 0zm.5 0zm.5 0zm.5 0zm.5 0zm.5 0zm.5 0zm1.5 0zm-31.5 .5zm3.5 0zm1 0zm.5 0zm2 0zm2.5 0zm1 0zm1.5 0zm.5 0zm.5 0zm.5 0zm.5 0zm.5 0zm.5 0zm.5 0zm.5 0zm.5 0zm.5 0zm.5 0zm.5 0zm.5 0zm.5 0zm.5 0zm.5 0zm.5 0zm.5 0zm.5 0zm.5 0zm.5 0zm.5 0zm.5 0zm.5 0zm.5 0zm.5 0zm.5 0zm.5 0zm.5 0zm.5 0zm.5 0zm.5 0zm.5 0zm1 0zm.5 0zm-32 .5zm3 0zm1 0zm2.5 0zm.5 0zm3.5 0zm.5 0zm1 0zm.5 0zm1.5 0zm.5 0zm1.5 0zm.5 0zm.5 0zm.5 0zm.5 0zm.5 0zm.5 0zm.5 0zm.5 0zm.5 0zm.5 0zm.5 0zm.5 0zm.5 0zm.5 0zm.5 0zm.5 0zm.5 0zm.5 0zm.5 0zm.5 0zm.5 0zm.5 0zm1 0zm.5 0zm.5 0zm.5 0zm.5 0zm.5 0zm.5 0zm.5 0zm1 0zm1 0zm1 0zm1 0zm-38.5 .5zm2 0zm3.5 0zm2 0zm2 0zm1 0zm1 0zm1 0zm2.5 0zm2 0zm.5 0zm.5 0zm.5 0zm.5 0zm.5 0zm.5 0zm.5 0zm.5 0zm.5 0zm.5 0zm.5 0zm.5 0zm.5 0zm.5 0zm.5 0zm.5 0zm.5 0zm.5 0zm.5 0zm.5 0zm.5 0zm.5 0zm.5 0zm.5 0zm.5 0zm.5 0zm1.5 0zm.5 0zm.5 0zm.5 0zm1.5 0zm.5 0zm1.5 0zm5.5 0zm-42 .5zm4.5 0zm1 0zm3.5 0zm2.5 0zm.5 0zm1.5 0zm2.5 0zm1.5 0zm.5 0zm.5 0zm.5 0zm.5 0zm.5 0zm1 0zm.5 0zm.5 0zm.5 0zm.5 0zm.5 0zm.5 0zm.5 0zm.5 0zm.5 0zm.5 0zm.5 0zm.5 0zm.5 0zm.5 0zm.5 0zm.5 0zm.5 0zm.5 0zm.5 0zm.5 0zm.5 0zm.5 0zm.5 0zm.5 0zm.5 0zm1 0zm.5 0zm3 0zm.5 0zm-34 .5zm2.5 0zm2 0zm2 0zm1 0zm1 0zm3 0zm.5 0zm1 0zm.5 0zm.5 0zm.5 0zm.5 0zm.5 0zm.5 0zm.5 0zm.5 0zm.5 0zm.5 0zm.5 0zm.5 0zm.5 0zm.5 0zm.5 0zm.5 0zm.5 0zm.5 0zm.5 0zm.5 0zm.5 0zm.5 0zm.5 0zm.5 0zm.5 0zm1 0zm.5 0zm1 0zm.5 0zm.5 0zm1 0zm1 0zm1 0zm1.5 0zm-37.5 .5zm3.5 0zm.5 0zm1.5 0zm1 0zm4.5 0zm1 0zm4.5 0zm.5 0zm1 0zm.5 0zm.5 0zm.5 0zm.5 0zm.5 0zm.5 0zm.5 0zm.5 0zm.5 0zm.5 0zm.5 0zm.5 0zm.5 0zm.5 0zm.5 0zm.5 0zm.5 0zm.5 0zm.5 0zm.5 0zm.5 0zm.5 0zm.5 0zm1 0zm.5 0zm.5 0zm.5 0zm1.5 0zm.5 0zm.5 0zm.5 0zm1 0zm1 0zm-35 .5zm.5 0zm2.5 0zm1 0zm1 0zm2.5 0zm.5 0zm.5 0zm2 0zm.5 0zm1 0zm1.5 0zm.5 0zm2 0zm1 0zm.5 0zm.5 0zm.5 0zm.5 0zm.5 0zm.5 0zm.5 0zm.5 0zm.5 0zm.5 0zm.5 0zm.5 0zm.5 0zm.5 0zm.5 0zm.5 0zm.5 0zm.5 0zm.5 0zm.5 0zm.5 0zm.5 0zm.5 0zm.5 0zm.5 0zm.5 0zm1 0zm.5 0zm.5 0zm.5 0zm.5 0zm1 0zm.5 0zm1 0zm.5 0zm-34 .5zm4 0zm2.5 0zm2.5 0zm.5 0zm.5 0zm.5 0zm.5 0zm.5 0zm1 0zm.5 0zm.5 0zm.5 0zm.5 0zm.5 0zm.5 0zm1 0zm.5 0zm.5 0zm.5 0zm.5 0zm.5 0zm.5 0zm.5 0zm.5 0zm.5 0zm.5 0zm.5 0zm.5 0zm.5 0zm.5 0zm.5 0zm.5 0zm.5 0zm.5 0zm.5 0zm.5 0zm.5 0zm.5 0zm.5 0zm.5 0zm.5 0zm.5 0zm1 0zm.5 0zm5.5 0zm1 0zm-35.5 .5zm4 0zm2 0zm1.5 0zm.5 0zm1 0zm.5 0zm.5 0zm.5 0zm1 0zm.5 0zm.5 0zm1.5 0zm.5 0zm.5 0zm.5 0zm.5 0zm1 0zm.5 0zm.5 0zm.5 0zm.5 0zm.5 0zm.5 0zm.5 0zm.5 0zm.5 0zm.5 0zm.5 0zm.5 0zm.5 0zm1 0zm1 0zm.5 0zm5 0zm-35.5 .5zm3 0zm6.5 0zm3 0zm.5 0zm.5 0zm.5 0zm1 0zm.5 0zm1.5 0zm1 0zm.5 0zm.5 0zm1 0zm.5 0zm.5 0zm.5 0zm.5 0zm.5 0zm.5 0zm.5 0zm.5 0zm.5 0zm.5 0zm.5 0zm.5 0zm.5 0zm.5 0zm.5 0zm.5 0zm.5 0zm.5 0zm.5 0zm1 0zm.5 0zm.5 0zm1 0zm.5 0zm3.5 0zm-35.5 .5zm1.5 0zm5.5 0zm1 0zm.5 0zm.5 0zm1 0zm.5 0zm2.5 0zm.5 0zm1 0zm.5 0zm.5 0zm.5 0zm.5 0zm.5 0zm1 0zm.5 0zm.5 0zm.5 0zm.5 0zm.5 0zm.5 0zm.5 0zm.5 0zm.5 0zm.5 0zm.5 0zm.5 0zm1 0zm.5 0zm.5 0zm.5 0zm.5 0zm.5 0zm.5 0zm.5 0zm1.5 0zm.5 0zm.5 0zm.5 0zm1.5 0zm1.5 0zm.5 0zm-33.5 .5zm4 0zm1.5 0zm1.5 0zm1.5 0zm.5 0zm3 0zm1 0zm.5 0zm.5 0zm.5 0zm.5 0zm.5 0zm.5 0zm.5 0zm.5 0zm1 0zm.5 0zm.5 0zm.5 0zm.5 0zm.5 0zm.5 0zm.5 0zm.5 0zm.5 0zm.5 0zm.5 0zm.5 0zm.5 0zm1 0zm.5 0zm1 0zm.5 0zm.5 0zm2 0zm.5 0zm-32.5 .5zm12 0zm.5 0zm.5 0zm1 0zm.5 0zm.5 0zm1.5 0zm.5 0zm.5 0zm.5 0zm.5 0zm.5 0zm.5 0zm.5 0zm.5 0zm.5 0zm.5 0zm.5 0zm.5 0zm.5 0zm.5 0zm.5 0zm.5 0zm.5 0zm.5 0zm.5 0zm.5 0zm.5 0zm.5 0zm1.5 0zm.5 0zm.5 0zm.5 0zm.5 0zm1.5 0zm.5 0zm2 0zm.5 0zm.5 0zm1 0zm-37 .5zm1.5 0zm1 0zm4 0zm3 0zm.5 0zm.5 0zm.5 0zm1 0zm2 0zm2 0zm.5 0zm.5 0zm.5 0zm.5 0zm.5 0zm.5 0zm.5 0zm.5 0zm1 0zm.5 0zm.5 0zm.5 0zm1 0zm.5 0zm.5 0zm.5 0zm.5 0zm.5 0zm.5 0zm.5 0zm.5 0zm.5 0zm1 0zm.5 0zm.5 0zm.5 0zm1 0zm2.5 0zm-36.5 .5zm8 0zm3 0zm1 0zm1 0zm.5 0zm1.5 0zm.5 0zm1 0zm1 0zm1 0zm2.5 0zm.5 0zm.5 0zm.5 0zm.5 0zm.5 0zm.5 0zm.5 0zm.5 0zm.5 0zm.5 0zm.5 0zm.5 0zm.5 0zm.5 0zm1 0zm1 0zm.5 0zm.5 0zm1 0zm.5 0zm1 0zm1 0zm.5 0zm.5 0zm1 0zm.5 0zm-35.5 .5zm4.5 0zm.5 0zm8.5 0zm1 0zm1 0zm.5 0zm1.5 0zm.5 0zm.5 0zm1 0zm1 0zm.5 0zm.5 0zm.5 0zm.5 0zm.5 0zm.5 0zm.5 0zm.5 0zm.5 0zm.5 0zm.5 0zm.5 0zm.5 0zm.5 0zm.5 0zm.5 0zm.5 0zm1 0zm1 0zm.5 0zm.5 0zm.5 0zm1 0zm3.5 0zm-25 .5zm.5 0zm2 0zm.5 0zm.5 0zm1 0zm1 0zm.5 0zm1 0zm.5 0zm.5 0zm.5 0zm.5 0zm.5 0zm.5 0zm.5 0zm.5 0zm.5 0zm.5 0zm.5 0zm.5 0zm.5 0zm.5 0zm1 0zm.5 0zm.5 0zm.5 0zm.5 0zm.5 0zm.5 0zm1.5 0zm1.5 0zm17 0zm-43 .5zm1 0zm2.5 0zm.5 0zm.5 0zm2 0zm.5 0zm1 0zm.5 0zm2.5 0zm.5 0zm1 0zm.5 0zm.5 0zm.5 0zm.5 0zm.5 0zm.5 0zm.5 0zm.5 0zm.5 0zm.5 0zm.5 0zm.5 0zm.5 0zm.5 0zm.5 0zm.5 0zm.5 0zm.5 0zm.5 0zm.5 0zm1 0zm1 0zm2 0zm1.5 0zm2 0zm-37.5 .5zm4.5 0zm2 0zm6 0zm1.5 0zm3.5 0zm.5 0zm.5 0zm.5 0zm.5 0zm.5 0zm.5 0zm.5 0zm.5 0zm1 0zm.5 0zm.5 0zm.5 0zm.5 0zm.5 0zm.5 0zm.5 0zm.5 0zm.5 0zm.5 0zm.5 0zm.5 0zm.5 0zm.5 0zm.5 0zm.5 0zm.5 0zm.5 0zm.5 0zm.5 0zm2.5 0zm-31.5 .5zm2.5 0zm3 0zm4.5 0zm1 0zm1 0zm.5 0zm.5 0zm.5 0zm1 0zm.5 0zm.5 0zm.5 0zm.5 0zm1 0zm.5 0zm.5 0zm1 0zm.5 0zm.5 0zm.5 0zm.5 0zm.5 0zm.5 0zm.5 0zm1 0zm.5 0zm.5 0zm.5 0zm1 0zm1.5 0zm1 0zm1 0zm.5 0zm1 0zm-29 .5zm6 0zm2 0zm2 0zm.5 0zm2 0zm.5 0zm.5 0zm1 0zm.5 0zm.5 0zm.5 0zm.5 0zm.5 0zm.5 0zm.5 0zm.5 0zm.5 0zm.5 0zm.5 0zm.5 0zm.5 0zm.5 0zm.5 0zm.5 0zm.5 0zm1 0zm1 0zm1 0zm.5 0zm.5 0zm1.5 0zm1.5 0zm-28.5 .5zm4 0zm1.5 0zm1 0zm2.5 0zm.5 0zm2 0zm1 0zm.5 0zm.5 0zm.5 0zm1 0zm.5 0zm.5 0zm.5 0zm.5 0zm.5 0zm.5 0zm.5 0zm.5 0zm.5 0zm.5 0zm.5 0zm.5 0zm.5 0zm1.5 0zm.5 0zm1 0zm1 0zm2.5 0zm-36.5 .5zm.5 0zm1.5 0zm.5 0zm1.5 0zm2 0zm.5 0zm.5 0zm.5 0zm.5 0zm.5 0zm1 0zm.5 0zm.5 0zm.5 0zm.5 0zm.5 0zm.5 0zm.5 0zm.5 0zm.5 0zm.5 0zm.5 0zm.5 0zm.5 0zm.5 0zm.5 0zm.5 0zm.5 0zm.5 0zm.5 0zm.5 0zm.5 0zm.5 0zm.5 0zm.5 0zm.5 0zm.5 0zm.5 0zm.5 0zm.5 0zm.5 0zm.5 0zm.5 0zm.5 0zm.5 0zm.5 0zm.5 0zm.5 0zm.5 0zm.5 0zm.5 0zm.5 0zm.5 0zm.5 0zm.5 0zm.5 0zm.5 0zm.5 0zm.5 0zm.5 0zm.5 0zm.5 0zm.5 0zm.5 0zm.5 0zm.5 0zm.5 0zm.5 0zm.5 0zm.5 0zm.5 0zm.5 0z"/><path class="g" d="M264.5 485.4V611.7M220.6 566.5H346.6"/><rect class="r" x="268.9" y="518.9" width="43.6" height="86"/><path class="f" d="M219.7 485.4H347.6"/><path class="f2" d="M220.6 484.8V611.9H346.7V484.8"/><path class="t" d="M220.6 611.7h-4.2M220.6 611.7v3.8M220.6 580.1h-4.2M252.1 611.7v3.8M220.6 548.5h-4.2M283.6 611.7v3.8M220.6 517h-4.2M315.1 611.7v3.8M220.6 485.4h-4.2M346.6 611.7v3.8"/><path class="m" d="M220.6 602.2h-2.4M230.1 611.7v2.5M220.6 596.6h-2.4M235.6 611.7v2.5M220.6 592.7h-2.4M239.6 611.7v2.5M220.6 589.6h-2.4M242.6 611.7v2.5M220.6 587.1h-2.4M245.1 611.7v2.5M220.6 585h-2.4M247.2 611.7v2.5M220.6 583.2h-2.4M249 611.7v2.5M220.6 581.6h-2.4M250.7 611.7v2.5M220.6 570.6h-2.4M261.6 611.7v2.5M220.6 565.1h-2.4M267.1 611.7v2.5M220.6 561.1h-2.4M271.1 611.7v2.5M220.6 558.1h-2.4M274.1 611.7v2.5M220.6 555.6h-2.4M276.6 611.7v2.5M220.6 553.4h-2.4M278.7 611.7v2.5M220.6 551.6h-2.4M280.5 611.7v2.5M220.6 550h-2.4M282.2 611.7v2.5M220.6 539h-2.4M293.1 611.7v2.5M220.6 533.5h-2.4M298.6 611.7v2.5M220.6 529.5h-2.4M302.6 611.7v2.5M220.6 526.5h-2.4M305.6 611.7v2.5M220.6 524h-2.4M308.1 611.7v2.5M220.6 521.9h-2.4M310.2 611.7v2.5M220.6 520h-2.4M312 611.7v2.5M220.6 518.4h-2.4M313.7 611.7v2.5M220.6 507.5h-2.4M324.6 611.7v2.5M220.6 501.9h-2.4M330.1 611.7v2.5M220.6 498h-2.4M334.1 611.7v2.5M220.6 494.9h-2.4M337.1 611.7v2.5M220.6 492.4h-2.4M339.6 611.7v2.5M220.6 490.3h-2.4M341.7 611.7v2.5M220.6 488.5h-2.4M343.5 611.7v2.5M220.6 486.8h-2.4M345.2 611.7v2.5"/><text class="k y" text-anchor="end" x="215.3" y="614.5">1</text><text class="k y" text-anchor="end" x="215.3" y="582.9">10</text><text class="k y" text-anchor="end" x="215.3" y="551.3">100</text><text class="k y" text-anchor="end" x="215.3" y="519.8">1000</text><text class="k y" text-anchor="end" x="215.3" y="488.2">10000</text><text class="k" text-anchor="middle" x="220.9" y="622.5">1</text><text class="k" text-anchor="middle" x="252.4" y="622.5">10</text><text class="k" text-anchor="middle" x="283.9" y="622.5">100</text><text class="k" text-anchor="middle" x="315.4" y="622.5">1000</text><text class="k" text-anchor="middle" x="346.9" y="622.5">10000</text><rect class="b" x="221.5" y="603.5" width="14.8" height="7.3"/><text class="q" x="222.3" y="493.4">0</text><text class="q" text-anchor="end" x="345.7" y="493.4">0</text><text class="q" x="222.5" y="610.1">100</text><text class="q" text-anchor="end" x="345.7" y="610">0.045</text></g>
<g><path class="d" d="M400.5 564zm10.5 0zm12 1zm-31 .5zm10 0zm8 0zm-23.5 .5zm6.5 0zm10.5 .5zm.5 0zm-7.5 .5zm1.5 0zm-2.5 .5zm5.5 0zm17 0zm-20.5 .5zm2.5 0zm.5 0zm7 0zm5.5 0zm-22 .5zm.5 0zm3.5 0zm7.5 0zm.5 0zm10 0zm1.5 0zm1 0zm24 0zm-52 .5zm3.5 0zm.5 0zm3 0zm1.5 0zm24.5 0zm6 0zm11.5 0zm-51 .5zm4 0zm6 0zm2 0zm-8.5 .5zm1.5 0zm3.5 0zm3.5 0zm4.5 0zm6.5 0zm7.5 0zm2 0zm14.5 0zm-42 .5zm.5 0zm1 0zm1 0zm5 0zm.5 0zm4.5 0zm1.5 0zm4.5 0zm14 0zm16.5 0zm-48 .5zm3 0zm.5 0zm4.5 0zm1.5 0zm6.5 0zm7 0zm-29.5 .5zm2 0zm4 0zm1.5 0zm3.5 0zm1.5 0zm6.5 0zm1 0zm5.5 0zm-25.5 .5zm5 0zm5.5 0zm1 0zm1 0zm-12.5 .5zm4 0zm2 0zm1 0zm1 0zm.5 0zm1 0zm4.5 0zm2 0zm.5 0zm2.5 0zm.5 0zm.5 0zm3.5 0zm19 0zm10.5 0zm-51 .5zm1 0zm2.5 0zm.5 0zm3 0zm1 0zm2 0zm1.5 0zm.5 0zm2.5 0zm1.5 0zm.5 0zm.5 0zm.5 0zm1 0zm5 0zm6.5 0zm4 0zm-36 .5zm4 0zm1 0zm3.5 0zm3 0zm3.5 0zm.5 0zm2.5 0zm1.5 0zm2 0zm3.5 0zm1.5 0zm.5 0zm14 0zm-39.5 .5zm3 0zm1.5 0zm2 0zm.5 0zm.5 0zm2 0zm.5 0zm2 0zm.5 0zm1 0zm2.5 0zm3 0zm.5 0zm.5 0zm1.5 0zm3 0zm4 0zm1 0zm22.5 0zm-53.5 .5zm2 0zm1.5 0zm2.5 0zm.5 0zm1 0zm1 0zm.5 0zm.5 0zm.5 0zm1 0zm2 0zm2 0zm2.5 0zm1 0zm1.5 0zm5.5 0zm4 0zm5 0zm-34.5 .5zm1 0zm3 0zm3 0zm.5 0zm4 0zm2.5 0zm.5 0zm.5 0zm1 0zm1 0zm.5 0zm1 0zm.5 0zm3 0zm1 0zm1.5 0zm5.5 0zm6 0zm2.5 0zm6.5 0zm-44.5 .5zm2.5 0zm1.5 0zm3 0zm.5 0zm1 0zm.5 0zm1 0zm3 0zm2.5 0zm.5 0zm1 0zm.5 0zm3 0zm1.5 0zm4.5 0zm.5 0zm1 0zm3.5 0zm21 0zm-53 .5zm7 0zm.5 0zm1.5 0zm2 0zm1 0zm.5 0zm.5 0zm.5 0zm.5 0zm.5 0zm1 0zm.5 0zm.5 0zm1 0zm1 0zm2 0zm12 0zm-32.5 .5zm1.5 0zm.5 0zm1 0zm1 0zm2 0zm.5 0zm.5 0zm1 0zm2 0zm1 0zm.5 0zm1 0zm.5 0zm1 0zm1.5 0zm1 0zm1.5 0zm4 0zm1.5 0zm8.5 0zm2.5 0zm1.5 0zm-36 .5zm1 0zm3.5 0zm.5 0zm1.5 0zm3.5 0zm.5 0zm2.5 0zm1 0zm.5 0zm4 0zm3.5 0zm1 0zm1.5 0zm4.5 0zm8 0zm8 0zm10 0zm-55 .5zm1 0zm2.5 0zm1.5 0zm.5 0zm2.5 0zm.5 0zm.5 0zm.5 0zm.5 0zm.5 0zm.5 0zm1 0zm.5 0zm.5 0zm1.5 0zm1.5 0zm.5 0zm.5 0zm5 0zm1.5 0zm.5 0zm.5 0zm6.5 0zm3.5 0zm4.5 0zm.5 0zm5 0zm1 0zm-45.5 .5zm.5 0zm1.5 0zm.5 0zm4 0zm1 0zm1.5 0zm1 0zm1.5 0zm.5 0zm1 0zm.5 0zm.5 0zm.5 0zm.5 0zm1 0zm2 0zm1 0zm3 0zm.5 0zm.5 0zm3.5 0zm21 0zm3 0zm-50.5 .5zm7.5 0zm1 0zm1 0zm.5 0zm2 0zm1 0zm1.5 0zm.5 0zm1.5 0zm1 0zm.5 0zm.5 0zm.5 0zm1.5 0zm1.5 0zm.5 0zm.5 0zm1.5 0zm.5 0zm5 0zm3 0zm13.5 0zm8 0zm-54.5 .5zm2.5 0zm1 0zm.5 0zm.5 0zm1 0zm2 0zm.5 0zm.5 0zm1.5 0zm.5 0zm.5 0zm1 0zm1 0zm.5 0zm1 0zm.5 0zm2 0zm.5 0zm3 0zm1.5 0zm1 0zm2 0zm1 0zm3 0zm1.5 0zm12 0zm-42.5 .5zm2 0zm.5 0zm1 0zm1.5 0zm1.5 0zm1 0zm.5 0zm1 0zm2.5 0zm.5 0zm1 0zm1 0zm1.5 0zm.5 0zm1.5 0zm.5 0zm.5 0zm1 0zm.5 0zm.5 0zm6 0zm1 0zm6.5 0zm6.5 0zm10 0zm-50.5 .5zm1 0zm1.5 0zm.5 0zm.5 0zm.5 0zm1 0zm1.5 0zm.5 0zm1 0zm.5 0zm.5 0zm1 0zm2.5 0zm1.5 0zm1 0zm.5 0zm.5 0zm2.5 0zm.5 0zm1.5 0zm2 0zm1.5 0zm.5 0zm1.5 0zm1.5 0zm1 0zm11.5 0zm6.5 0zm2.5 0zm1.5 0zm-50.5 .5zm1.5 0zm2 0zm1 0zm.5 0zm1 0zm1.5 0zm1 0zm.5 0zm1 0zm.5 0zm1 0zm.5 0zm1 0zm.5 0zm.5 0zm.5 0zm1.5 0zm3 0zm1 0zm.5 0zm1 0zm.5 0zm1 0zm1 0zm8 0zm18 0zm-50 .5zm.5 0zm2 0zm.5 0zm.5 0zm.5 0zm.5 0zm.5 0zm1.5 0zm.5 0zm1 0zm1.5 0zm.5 0zm.5 0zm1 0zm.5 0zm.5 0zm.5 0zm1 0zm.5 0zm.5 0zm1 0zm.5 0zm.5 0zm1 0zm.5 0zm.5 0zm1 0zm.5 0zm.5 0zm.5 0zm1 0zm1.5 0zm3 0zm.5 0zm5 0zm2 0zm1 0zm10.5 0zm-46 .5zm3 0zm2.5 0zm1 0zm1.5 0zm.5 0zm.5 0zm.5 0zm.5 0zm.5 0zm.5 0zm1 0zm.5 0zm.5 0zm.5 0zm.5 0zm.5 0zm.5 0zm1 0zm1 0zm.5 0zm.5 0zm.5 0zm1 0zm.5 0zm.5 0zm1 0zm1 0zm1 0zm18 0zm13 0zm13 0zm-67.5 .5zm3 0zm.5 0zm.5 0zm1 0zm.5 0zm.5 0zm1 0zm.5 0zm1 0zm1 0zm.5 0zm.5 0zm1 0zm.5 0zm.5 0zm.5 0zm.5 0zm.5 0zm1 0zm.5 0zm1 0zm.5 0zm.5 0zm1 0zm1 0zm.5 0zm.5 0zm.5 0zm1 0zm.5 0zm.5 0zm3.5 0zm1.5 0zm1 0zm7 0zm9 0zm-45 .5zm.5 0zm.5 0zm.5 0zm.5 0zm1 0zm1.5 0zm.5 0zm.5 0zm.5 0zm.5 0zm.5 0zm.5 0zm.5 0zm.5 0zm.5 0zm1 0zm1 0zm.5 0zm.5 0zm.5 0zm.5 0zm.5 0zm.5 0zm.5 0zm.5 0zm.5 0zm.5 0zm.5 0zm.5 0zm.5 0zm.5 0zm.5 0zm1 0zm.5 0zm1 0zm1 0zm1.5 0zm2 0zm1 0zm3 0zm11 0zm4 0zm-44.5 .5zm2.5 0zm1.5 0zm.5 0zm.5 0zm2 0zm.5 0zm.5 0zm.5 0zm.5 0zm.5 0zm.5 0zm.5 0zm.5 0zm.5 0zm.5 0zm.5 0zm.5 0zm.5 0zm.5 0zm.5 0zm.5 0zm.5 0zm.5 0zm.5 0zm.5 0zm.5 0zm.5 0zm.5 0zm1 0zm1 0zm.5 0zm.5 0zm.5 0zm.5 0zm.5 0zm1 0zm5.5 0zm2.5 0zm11.5 0zm-43.5 .5zm.5 0zm1 0zm.5 0zm.5 0zm1 0zm.5 0zm1 0zm.5 0zm.5 0zm.5 0zm.5 0zm.5 0zm.5 0zm.5 0zm1 0zm1 0zm.5 0zm1 0zm.5 0zm.5 0zm.5 0zm1 0zm.5 0zm.5 0zm.5 0zm.5 0zm.5 0zm.5 0zm.5 0zm1 0zm1 0zm.5 0zm.5 0zm.5 0zm.5 0zm.5 0zm.5 0zm.5 0zm1 0zm1 0zm1.5 0zm1.5 0zm1 0zm2.5 0zm3.5 0zm2 0zm14.5 0zm6 0zm-58 .5zm1.5 0zm.5 0zm.5 0zm.5 0zm.5 0zm.5 0zm.5 0zm.5 0zm.5 0zm.5 0zm.5 0zm.5 0zm.5 0zm.5 0zm.5 0zm.5 0zm.5 0zm.5 0zm.5 0zm1 0zm.5 0zm.5 0zm3 0zm.5 0zm.5 0zm1 0zm.5 0zm.5 0zm.5 0zm.5 0zm.5 0zm.5 0zm.5 0zm1 0zm.5 0zm.5 0zm.5 0zm1 0zm1.5 0zm2.5 0zm.5 0zm.5 0zm16.5 0zm2 0zm6.5 0zm4 0zm-58.5 .5zm1.5 0zm.5 0zm2 0zm1 0zm.5 0zm.5 0zm.5 0zm.5 0zm.5 0zm.5 0zm.5 0zm.5 0zm.5 0zm.5 0zm.5 0zm.5 0zm.5 0zm.5 0zm.5 0zm1 0zm1 0zm.5 0zm.5 0zm.5 0zm.5 0zm.5 0zm.5 0zm.5 0zm1 0zm.5 0zm2 0zm.5 0zm1.5 0zm.5 0zm.5 0zm1 0zm.5 0zm.5 0zm1 0zm2.5 0zm3 0zm1.5 0zm11 0zm4.5 0zm-50 .5zm1 0zm.5 0zm.5 0zm.5 0zm.5 0zm1 0zm1 0zm.5 0zm.5 0zm.5 0zm.5 0zm1 0zm.5 0zm.5 0zm.5 0zm1 0zm.5 0zm.5 0zm.5 0zm.5 0zm.5 0zm.5 0zm.5 0zm.5 0zm1 0zm.5 0zm1 0zm1.5 0zm1 0zm.5 0zm.5 0zm.5 0zm.5 0zm.5 0zm.5 0zm1 0zm1 0zm2.5 0zm1.5 0zm.5 0zm3 0zm3 0zm11 0zm12 0zm-58 .5zm.5 0zm1 0zm1.5 0zm1 0zm1 0zm.5 0zm.5 0zm.5 0zm.5 0zm.5 0zm.5 0zm1.5 0zm.5 0zm.5 0zm.5 0zm.5 0zm.5 0zm.5 0zm.5 0zm.5 0zm.5 0zm.5 0zm1 0zm.5 0zm.5 0zm.5 0zm.5 0zm1 0zm1 0zm1 0zm.5 0zm.5 0zm.5 0zm.5 0zm.5 0zm2.5 0zm1.5 0zm3 0zm2.5 0zm1 0zm7 0zm3.5 0zm4.5 0zm-48.5 .5zm.5 0zm1 0zm.5 0zm1 0zm.5 0zm.5 0zm.5 0zm1 0zm.5 0zm.5 0zm1 0zm.5 0zm.5 0zm.5 0zm.5 0zm.5 0zm.5 0zm.5 0zm.5 0zm.5 0zm.5 0zm.5 0zm.5 0zm.5 0zm1.5 0zm.5 0zm.5 0zm.5 0zm.5 0zm.5 0zm.5 0zm.5 0zm.5 0zm.5 0zm1 0zm.5 0zm1 0zm.5 0zm.5 0zm.5 0zm1.5 0zm1 0zm.5 0zm6 0zm1 0zm5.5 0zm4 0zm9 0zm11 0zm-63.5 .5zm1 0zm.5 0zm1 0zm.5 0zm.5 0zm.5 0zm.5 0zm.5 0zm.5 0zm1 0zm.5 0zm.5 0zm.5 0zm.5 0zm1 0zm.5 0zm.5 0zm.5 0zm.5 0zm.5 0zm.5 0zm.5 0zm.5 0zm.5 0zm1 0zm.5 0zm.5 0zm.5 0zm.5 0zm.5 0zm.5 0zm.5 0zm1 0zm1 0zm.5 0zm.5 0zm.5 0zm.5 0zm.5 0zm2.5 0zm1.5 0zm.5 0zm2.5 0zm1 0zm5.5 0zm2.5 0zm1.5 0zm2.5 0zm8 0zm-51 .5zm1 0zm.5 0zm1 0zm.5 0zm1 0zm.5 0zm.5 0zm1 0zm.5 0zm.5 0zm.5 0zm.5 0zm1 0zm.5 0zm.5 0zm.5 0zm.5 0zm.5 0zm.5 0zm.5 0zm.5 0zm.5 0zm.5 0zm.5 0zm.5 0zm.5 0zm.5 0zm.5 0zm.5 0zm.5 0zm1 0zm.5 0zm2 0zm.5 0zm.5 0zm1 0zm1.5 0zm1 0zm1.5 0zm1 0zm11.5 0zm9 0zm2 0zm1.5 0zm4 0zm6.5 0zm-62.5 .5zm.5 0zm.5 0zm.5 0zm.5 0zm1 0zm.5 0zm1 0zm.5 0zm.5 0zm.5 0zm.5 0zm.5 0zm1 0zm.5 0zm.5 0zm.5 0zm.5 0zm.5 0zm.5 0zm.5 0zm.5 0zm.5 0zm.5 0zm.5 0zm.5 0zm.5 0zm.5 0zm1.5 0zm.5 0zm.5 0zm.5 0zm.5 0zm.5 0zm1 0zm.5 0zm.5 0zm1 0zm2 0zm1.5 0zm1 0zm1.5 0zm2.5 0zm9 0zm1 0zm5 0zm3 0zm15.5 0zm.5 0zm.5 0zm-65 .5zm.5 0zm.5 0zm.5 0zm.5 0zm1 0zm.5 0zm1 0zm.5 0zm.5 0zm.5 0zm.5 0zm.5 0zm.5 0zm.5 0zm.5 0zm1 0zm.5 0zm.5 0zm.5 0zm.5 0zm.5 0zm.5 0zm.5 0zm.5 0zm.5 0zm1 0zm.5 0zm.5 0zm1 0zm.5 0zm.5 0zm1 0zm.5 0zm.5 0zm.5 0zm.5 0zm1 0zm.5 0zm.5 0zm1.5 0zm.5 0zm1 0zm.5 0zm1 0zm1 0zm.5 0zm1.5 0zm7.5 0zm4 0zm8.5 0zm1 0zm15.5 0zm-67 .5zm.5 0zm.5 0zm.5 0zm1 0zm.5 0zm.5 0zm.5 0zm1.5 0zm.5 0zm.5 0zm.5 0zm.5 0zm.5 0zm.5 0zm.5 0zm.5 0zm.5 0zm.5 0zm.5 0zm.5 0zm1 0zm.5 0zm.5 0zm.5 0zm.5 0zm.5 0zm.5 0zm.5 0zm.5 0zm.5 0zm.5 0zm.5 0zm1 0zm1 0zm.5 0zm.5 0zm1 0zm.5 0zm1 0zm1 0zm1 0zm2.5 0zm2.5 0zm1.5 0zm4.5 0zm4 0zm3 0zm1.5 0zm.5 0zm7 0zm.5 0zm2.5 0zm-55.5 .5zm.5 0zm.5 0zm.5 0zm.5 0zm.5 0zm.5 0zm.5 0zm1.5 0zm.5 0zm.5 0zm.5 0zm.5 0zm.5 0zm.5 0zm.5 0zm1.5 0zm.5 0zm.5 0zm.5 0zm.5 0zm.5 0zm.5 0zm.5 0zm.5 0zm.5 0zm1 0zm.5 0zm.5 0zm.5 0zm.5 0zm.5 0zm2.5 0zm.5 0zm1 0zm.5 0zm.5 0zm.5 0zm.5 0zm1 0zm1 0zm1 0zm.5 0zm1 0zm.5 0zm9.5 0zm3 0zm5.5 0zm11.5 0zm1 0zm-59.5 .5zm.5 0zm1 0zm.5 0zm1 0zm.5 0zm.5 0zm.5 0zm.5 0zm.5 0zm.5 0zm.5 0zm.5 0zm.5 0zm.5 0zm.5 0zm.5 0zm.5 0zm.5 0zm.5 0zm.5 0zm.5 0zm.5 0zm.5 0zm.5 0zm.5 0zm.5 0zm.5 0zm1 0zm.5 0zm.5 0zm1 0zm.5 0zm.5 0zm.5 0zm.5 0zm.5 0zm.5 0zm1 0zm.5 0zm.5 0zm1 0zm.5 0zm.5 0zm2 0zm1 0zm.5 0zm.5 0zm3.5 0zm1.5 0zm4 0zm2 0zm.5 0zm1 0zm-41 .5zm.5 0zm1 0zm.5 0zm.5 0zm1 0zm.5 0zm.5 0zm.5 0zm.5 0zm.5 0zm.5 0zm.5 0zm.5 0zm.5 0zm.5 0zm.5 0zm.5 0zm1 0zm.5 0zm.5 0zm.5 0zm.5 0zm.5 0zm.5 0zm.5 0zm.5 0zm.5 0zm.5 0zm1 0zm.5 0zm.5 0zm.5 0zm.5 0zm.5 0zm.5 0zm.5 0zm.5 0zm.5 0zm.5 0zm.5 0zm.5 0zm.5 0zm.5 0zm.5 0zm.5 0zm1 0zm1.5 0zm1 0zm.5 0zm.5 0zm1 0zm.5 0zm3 0zm1.5 0zm1.5 0zm4 0zm-40.5 .5zm.5 0zm.5 0zm.5 0zm.5 0zm1 0zm.5 0zm.5 0zm.5 0zm.5 0zm.5 0zm.5 0zm.5 0zm.5 0zm.5 0zm1 0zm.5 0zm.5 0zm.5 0zm.5 0zm.5 0zm.5 0zm.5 0zm.5 0zm.5 0zm.5 0zm.5 0zm.5 0zm.5 0zm.5 0zm.5 0zm.5 0zm.5 0zm.5 0zm.5 0zm.5 0zm.5 0zm.5 0zm.5 0zm.5 0zm.5 0zm2 0zm.5 0zm1 0zm3 0zm.5 0zm.5 0zm13.5 0zm9.5 0zm4 0zm13.5 0zm-69 .5zm.5 0zm.5 0zm.5 0zm1 0zm.5 0zm.5 0zm.5 0zm1.5 0zm.5 0zm.5 0zm.5 0zm.5 0zm.5 0zm.5 0zm.5 0zm.5 0zm.5 0zm.5 0zm.5 0zm.5 0zm.5 0zm.5 0zm.5 0zm.5 0zm.5 0zm.5 0zm.5 0zm.5 0zm.5 0zm.5 0zm1 0zm.5 0zm.5 0zm.5 0zm1 0zm.5 0zm.5 0zm.5 0zm.5 0zm.5 0zm.5 0zm.5 0zm.5 0zm.5 0zm.5 0zm.5 0zm2 0zm1 0zm1.5 0zm1 0zm.5 0zm1 0zm5.5 0zm.5 0zm8.5 0zm4 0zm-51 .5zm.5 0zm2 0zm1 0zm.5 0zm.5 0zm.5 0zm.5 0zm1 0zm.5 0zm1.5 0zm.5 0zm.5 0zm.5 0zm.5 0zm.5 0zm.5 0zm.5 0zm1 0zm.5 0zm.5 0zm.5 0zm.5 0zm.5 0zm.5 0zm.5 0zm.5 0zm.5 0zm.5 0zm1 0zm.5 0zm.5 0zm.5 0zm.5 0zm.5 0zm1 0zm.5 0zm.5 0zm.5 0zm1 0zm1.5 0zm1.5 0zm3.5 0zm1 0zm7 0zm4.5 0zm4.5 0zm2 0zm2 0zm2.5 0zm5.5 0zm-60.5 .5zm.5 0zm.5 0zm1 0zm.5 0zm.5 0zm.5 0zm.5 0zm.5 0zm.5 0zm1 0zm.5 0zm.5 0zm.5 0zm.5 0zm.5 0zm.5 0zm1.5 0zm.5 0zm.5 0zm.5 0zm1 0zm.5 0zm.5 0zm.5 0zm.5 0zm.5 0zm.5 0zm.5 0zm.5 0zm.5 0zm1 0zm.5 0zm.5 0zm.5 0zm.5 0zm1 0zm.5 0zm.5 0zm1 0zm.5 0zm.5 0zm1 0zm2 0zm.5 0zm.5 0zm1 0zm1 0zm4.5 0zm4 0zm4 0zm1 0zm4 0zm4 0zm12.5 0zm-64.5 .5zm.5 0zm.5 0zm.5 0zm1.5 0zm.5 0zm.5 0zm1 0zm.5 0zm.5 0zm.5 0zm.5 0zm.5 0zm.5 0zm.5 0zm.5 0zm.5 0zm.5 0zm.5 0zm.5 0zm.5 0zm.5 0zm.5 0zm.5 0zm1 0zm.5 0zm.5 0zm.5 0zm.5 0zm.5 0zm2 0zm.5 0zm.5 0zm.5 0zm.5 0zm1 0zm1 0zm.5 0zm1 0zm.5 0zm.5 0zm.5 0zm.5 0zm1 0zm2 0zm.5 0zm.5 0zm5.5 0zm3.5 0zm2 0zm3.5 0zm2.5 0zm3.5 0zm4 0zm7 0zm-61.5 .5zm1.5 0zm.5 0zm.5 0zm.5 0zm.5 0zm.5 0zm.5 0zm.5 0zm.5 0zm.5 0zm.5 0zm.5 0zm.5 0zm.5 0zm.5 0zm.5 0zm.5 0zm.5 0zm.5 0zm.5 0zm.5 0zm.5 0zm.5 0zm.5 0zm.5 0zm.5 0zm.5 0zm.5 0zm1 0zm.5 0zm.5 0zm.5 0zm.5 0zm.5 0zm.5 0zm.5 0zm1 0zm.5 0zm.5 0zm.5 0zm1 0zm.5 0zm.5 0zm.5 0zm.5 0zm.5 0zm3 0zm1 0zm.5 0zm1 0zm1 0zm2 0zm1.5 0zm7 0zm14 0zm-56.5 .5zm.5 0zm.5 0zm.5 0zm.5 0zm1 0zm.5 0zm.5 0zm.5 0zm.5 0zm1 0zm.5 0zm.5 0zm.5 0zm.5 0zm.5 0zm.5 0zm.5 0zm.5 0zm.5 0zm.5 0zm.5 0zm.5 0zm.5 0zm.5 0zm.5 0zm1 0zm.5 0zm.5 0zm1 0zm.5 0zm.5 0zm.5 0zm.5 0zm.5 0zm.5 0zm1.5 0zm.5 0zm1 0zm.5 0zm.5 0zm.5 0zm1 0zm.5 0zm1 0zm3 0zm.5 0zm3 0zm.5 0zm6.5 0zm1 0zm9 0zm1 0zm9 0zm12 0zm-72 .5zm.5 0zm1 0zm.5 0zm.5 0zm.5 0zm.5 0zm.5 0zm1 0zm.5 0zm.5 0zm.5 0zm1 0zm.5 0zm.5 0zm.5 0zm.5 0zm.5 0zm.5 0zm.5 0zm.5 0zm.5 0zm.5 0zm1 0zm.5 0zm1 0zm.5 0zm.5 0zm.5 0zm.5 0zm.5 0zm.5 0zm.5 0zm.5 0zm.5 0zm.5 0zm.5 0zm.5 0zm.5 0zm.5 0zm.5 0zm.5 0zm.5 0zm.5 0zm.5 0zm.5 0zm.5 0zm.5 0zm1.5 0zm.5 0zm4.5 0zm1 0zm.5 0zm4.5 0zm3.5 0zm1.5 0zm.5 0zm8 0zm1.5 0zm-53.5 .5zm.5 0zm2 0zm1 0zm.5 0zm.5 0zm.5 0zm.5 0zm1 0zm.5 0zm.5 0zm.5 0zm.5 0zm.5 0zm.5 0zm.5 0zm.5 0zm.5 0zm1 0zm.5 0zm.5 0zm.5 0zm.5 0zm.5 0zm.5 0zm.5 0zm.5 0zm.5 0zm.5 0zm.5 0zm.5 0zm.5 0zm.5 0zm1 0zm.5 0zm.5 0zm.5 0zm.5 0zm.5 0zm1.5 0zm.5 0zm1.5 0zm.5 0zm1 0zm1 0zm.5 0zm1 0zm.5 0zm.5 0zm5 0zm.5 0zm1.5 0zm10.5 0zm2 0zm-50.5 .5zm1.5 0zm.5 0zm.5 0zm.5 0zm.5 0zm.5 0zm.5 0zm.5 0zm.5 0zm.5 0zm.5 0zm.5 0zm.5 0zm.5 0zm1 0zm.5 0zm.5 0zm.5 0zm.5 0zm.5 0zm.5 0zm.5 0zm.5 0zm.5 0zm.5 0zm1 0zm.5 0zm.5 0zm.5 0zm.5 0zm.5 0zm1 0zm.5 0zm.5 0zm.5 0zm.5 0zm.5 0zm.5 0zm.5 0zm.5 0zm1 0zm1 0zm.5 0zm.5 0zm.5 0zm1 0zm.5 0zm3 0zm3 0zm1 0zm10 0zm8.5 0zm-53 .5zm.5 0zm1 0zm1 0zm.5 0zm1 0zm1 0zm1 0zm.5 0zm.5 0zm.5 0zm.5 0zm.5 0zm.5 0zm.5 0zm.5 0zm.5 0zm.5 0zm.5 0zm.5 0zm.5 0zm.5 0zm.5 0zm.5 0zm.5 0zm.5 0zm.5 0zm.5 0zm.5 0zm.5 0zm.5 0zm.5 0zm.5 0zm.5 0zm.5 0zm.5 0zm.5 0zm.5 0zm.5 0zm.5 0zm.5 0zm.5 0zm.5 0zm1 0zm3 0zm1 0zm4 0zm3.5 0zm.5 0zm5 0zm2.5 0zm12 0zm-56 .5zm1 0zm.5 0zm.5 0zm1 0zm.5 0zm.5 0zm.5 0zm.5 0zm.5 0zm.5 0zm.5 0zm.5 0zm.5 0zm.5 0zm.5 0zm.5 0zm.5 0zm.5 0zm.5 0zm.5 0zm.5 0zm.5 0zm.5 0zm.5 0zm.5 0zm.5 0zm.5 0zm.5 0zm.5 0zm.5 0zm.5 0zm.5 0zm.5 0zm.5 0zm.5 0zm1.5 0zm.5 0zm.5 0zm1 0zm.5 0zm1.5 0zm.5 0zm.5 0zm.5 0zm11 0zm5 0zm1 0zm2.5 0zm1 0zm2.5 0zm.5 0zm7 0zm-56 .5zm.5 0zm1.5 0zm.5 0zm.5 0zm1 0zm.5 0zm1 0zm.5 0zm.5 0zm.5 0zm.5 0zm.5 0zm.5 0zm.5 0zm.5 0zm.5 0zm.5 0zm.5 0zm.5 0zm.5 0zm.5 0zm.5 0zm1 0zm.5 0zm.5 0zm.5 0zm.5 0zm.5 0zm.5 0zm.5 0zm1.5 0zm1 0zm.5 0zm1 0zm.5 0zm1 0zm.5 0zm.5 0zm.5 0zm.5 0zm.5 0zm2 0zm.5 0zm1.5 0zm1.5 0zm12.5 0zm9.5 0zm1.5 0zm1 0zm-55.5 .5zm1.5 0zm.5 0zm2 0zm.5 0zm.5 0zm.5 0zm1 0zm.5 0zm.5 0zm.5 0zm.5 0zm.5 0zm.5 0zm.5 0zm.5 0zm.5 0zm.5 0zm.5 0zm1 0zm.5 0zm.5 0zm.5 0zm.5 0zm.5 0zm.5 0zm.5 0zm.5 0zm1 0zm.5 0zm.5 0zm.5 0zm.5 0zm.5 0zm.5 0zm.5 0zm.5 0zm.5 0zm2 0zm1 0zm.5 0zm2 0zm2 0zm1 0zm1 0zm5 0zm14.5 0zm-51.5 .5zm.5 0zm.5 0zm1 0zm.5 0zm.5 0zm1 0zm.5 0zm.5 0zm.5 0zm.5 0zm.5 0zm.5 0zm.5 0zm.5 0zm1 0zm.5 0zm.5 0zm.5 0zm.5 0zm.5 0zm1 0zm.5 0zm.5 0zm.5 0zm.5 0zm.5 0zm.5 0zm.5 0zm.5 0zm.5 0zm.5 0zm1 0zm.5 0zm.5 0zm1 0zm.5 0zm1 0zm.5 0zm.5 0zm.5 0zm1.5 0zm.5 0zm.5 0zm.5 0zm.5 0zm.5 0zm.5 0zm1.5 0zm1.5 0zm16 0zm10 0zm-57 .5zm1 0zm1.5 0zm.5 0zm.5 0zm.5 0zm.5 0zm.5 0zm.5 0zm.5 0zm.5 0zm.5 0zm.5 0zm.5 0zm.5 0zm.5 0zm.5 0zm.5 0zm.5 0zm.5 0zm.5 0zm.5 0zm.5 0zm.5 0zm1 0zm.5 0zm.5 0zm.5 0zm.5 0zm1 0zm.5 0zm.5 0zm.5 0zm.5 0zm1 0zm.5 0zm.5 0zm1 0zm1 0zm.5 0zm.5 0zm.5 0zm.5 0zm.5 0zm.5 0zm.5 0zm1.5 0zm1 0zm.5 0zm5 0zm4.5 0zm1.5 0zm13.5 0zm-54 .5zm.5 0zm1 0zm.5 0zm1 0zm.5 0zm.5 0zm1.5 0zm.5 0zm.5 0zm.5 0zm.5 0zm.5 0zm.5 0zm.5 0zm.5 0zm.5 0zm.5 0zm.5 0zm.5 0zm.5 0zm1.5 0zm.5 0zm.5 0zm.5 0zm.5 0zm1 0zm.5 0zm.5 0zm.5 0zm.5 0zm1 0zm.5 0zm.5 0zm.5 0zm3.5 0zm1.5 0zm.5 0zm1.5 0zm1 0zm2 0zm8.5 0zm4.5 0zm3.5 0zm13 0zm-60.5 .5zm.5 0zm1 0zm1 0zm1 0zm1 0zm1 0zm.5 0zm.5 0zm.5 0zm.5 0zm.5 0zm.5 0zm.5 0zm.5 0zm.5 0zm.5 0zm.5 0zm.5 0zm.5 0zm.5 0zm.5 0zm.5 0zm.5 0zm.5 0zm.5 0zm.5 0zm.5 0zm.5 0zm.5 0zm.5 0zm.5 0zm.5 0zm.5 0zm1 0zm.5 0zm.5 0zm1 0zm.5 0zm1.5 0zm1.5 0zm3 0zm.5 0zm1 0zm4 0zm.5 0zm9 0zm.5 0zm8.5 0zm-52.5 .5zm1.5 0zm2 0zm.5 0zm.5 0zm1.5 0zm.5 0zm.5 0zm.5 0zm.5 0zm.5 0zm.5 0zm.5 0zm.5 0zm.5 0zm.5 0zm.5 0zm.5 0zm.5 0zm.5 0zm.5 0zm.5 0zm.5 0zm.5 0zm.5 0zm1 0zm.5 0zm.5 0zm.5 0zm1 0zm.5 0zm.5 0zm.5 0zm.5 0zm1 0zm.5 0zm.5 0zm.5 0zm.5 0zm.5 0zm.5 0zm.5 0zm2 0zm1.5 0zm1.5 0zm7 0zm4 0zm-41.5 .5zm1.5 0zm.5 0zm1 0zm.5 0zm.5 0zm.5 0zm.5 0zm.5 0zm.5 0zm.5 0zm.5 0zm.5 0zm.5 0zm.5 0zm.5 0zm.5 0zm.5 0zm.5 0zm.5 0zm.5 0zm.5 0zm.5 0zm1.5 0zm.5 0zm.5 0zm.5 0zm.5 0zm.5 0zm.5 0zm.5 0zm.5 0zm.5 0zm.5 0zm.5 0zm.5 0zm1 0zm1 0zm.5 0zm.5 0zm1.5 0zm1 0zm5 0zm2 0zm4 0zm10.5 0zm1 0zm3 0zm-51 .5zm.5 0zm.5 0zm2 0zm1.5 0zm.5 0zm.5 0zm.5 0zm.5 0zm1.5 0zm.5 0zm.5 0zm.5 0zm.5 0zm.5 0zm.5 0zm.5 0zm.5 0zm.5 0zm.5 0zm.5 0zm1 0zm.5 0zm.5 0zm.5 0zm.5 0zm.5 0zm.5 0zm.5 0zm.5 0zm.5 0zm1.5 0zm1 0zm.5 0zm.5 0zm.5 0zm.5 0zm2 0zm1 0zm.5 0zm9.5 0zm6 0zm4.5 0zm.5 0zm3 0zm-50.5 .5zm.5 0zm1 0zm1 0zm.5 0zm.5 0zm.5 0zm.5 0zm.5 0zm.5 0zm.5 0zm.5 0zm.5 0zm1 0zm.5 0zm1.5 0zm.5 0zm.5 0zm.5 0zm.5 0zm.5 0zm.5 0zm.5 0zm.5 0zm.5 0zm.5 0zm.5 0zm.5 0zm.5 0zm.5 0zm1 0zm.5 0zm.5 0zm.5 0zm1 0zm.5 0zm.5 0zm.5 0zm.5 0zm1.5 0zm.5 0zm4 0zm3 0zm2 0zm2 0zm.5 0zm18.5 0zm2 0zm-56.5 .5zm1 0zm.5 0zm.5 0zm1.5 0zm1 0zm.5 0zm1.5 0zm.5 0zm.5 0zm.5 0zm.5 0zm.5 0zm.5 0zm.5 0zm.5 0zm.5 0zm.5 0zm.5 0zm.5 0zm.5 0zm.5 0zm.5 0zm.5 0zm.5 0zm.5 0zm.5 0zm.5 0zm.5 0zm.5 0zm1 0zm.5 0zm1 0zm1 0zm1 0zm.5 0zm1 0zm1 0zm.5 0zm1.5 0zm1.5 0zm2.5 0zm4.5 0zm2.5 0zm8 0zm2.5 0zm-48 .5zm.5 0zm.5 0zm1 0zm.5 0zm.5 0zm1 0zm1 0zm1 0zm.5 0zm.5 0zm.5 0zm.5 0zm1 0zm.5 0zm1 0zm.5 0zm.5 0zm.5 0zm1 0zm1 0zm.5 0zm.5 0zm.5 0zm.5 0zm.5 0zm.5 0zm.5 0zm1 0zm2 0zm.5 0zm.5 0zm1.5 0zm.5 0zm2.5 0zm.5 0zm6 0zm1 0zm1 0zm17 0zm13 0zm-64.5 .5zm1 0zm1.5 0zm.5 0zm2 0zm.5 0zm1 0zm.5 0zm.5 0zm1 0zm.5 0zm.5 0zm.5 0zm.5 0zm.5 0zm.5 0zm.5 0zm.5 0zm.5 0zm.5 0zm.5 0zm.5 0zm.5 0zm.5 0zm1 0zm.5 0zm.5 0zm.5 0zm1 0zm.5 0zm1.5 0zm1 0zm.5 0zm1 0zm.5 0zm1 0zm.5 0zm10 0zm2.5 0zm1.5 0zm2 0zm3.5 0zm-45 .5zm1.5 0zm1.5 0zm2 0zm1 0zm.5 0zm1 0zm.5 0zm1 0zm1.5 0zm.5 0zm1 0zm.5 0zm.5 0zm1 0zm1 0zm.5 0zm.5 0zm.5 0zm.5 0zm.5 0zm.5 0zm.5 0zm.5 0zm.5 0zm.5 0zm.5 0zm1.5 0zm.5 0zm1.5 0zm.5 0zm1 0zm.5 0zm.5 0zm1 0zm13 0zm4.5 0zm9.5 0zm-54.5 .5zm1 0zm1 0zm.5 0zm1 0zm.5 0zm.5 0zm1 0zm.5 0zm.5 0zm.5 0zm.5 0zm.5 0zm.5 0zm.5 0zm.5 0zm1 0zm1 0zm1 0zm.5 0zm.5 0zm.5 0zm.5 0zm1 0zm.5 0zm1 0zm1 0zm.5 0zm.5 0zm.5 0zm.5 0zm.5 0zm1.5 0zm1 0zm.5 0zm.5 0zm.5 0zm.5 0zm.5 0zm2 0zm.5 0zm1.5 0zm.5 0zm2.5 0zm8 0zm3.5 0zm2 0zm7 0zm-53 .5zm.5 0zm.5 0zm2 0zm2.5 0zm.5 0zm.5 0zm.5 0zm.5 0zm.5 0zm1.5 0zm.5 0zm.5 0zm.5 0zm1.5 0zm.5 0zm.5 0zm.5 0zm1 0zm.5 0zm.5 0zm.5 0zm.5 0zm.5 0zm.5 0zm.5 0zm.5 0zm.5 0zm.5 0zm.5 0zm.5 0zm.5 0zm.5 0zm.5 0zm1.5 0zm1 0zm.5 0zm1.5 0zm18.5 0zm-45.5 .5zm.5 0zm4.5 0zm.5 0zm.5 0zm.5 0zm.5 0zm.5 0zm.5 0zm1.5 0zm.5 0zm.5 0zm.5 0zm.5 0zm.5 0zm.5 0zm.5 0zm.5 0zm.5 0zm1 0zm.5 0zm.5 0zm.5 0zm.5 0zm.5 0zm2 0zm.5 0zm3.5 0zm1 0zm1 0zm5.5 0zm9.5 0zm13.5 0zm-54 .5zm1 0zm.5 0zm2 0zm.5 0zm3.5 0zm1.5 0zm.5 0zm1 0zm.5 0zm.5 0zm2 0zm.5 0zm1 0zm1.5 0zm.5 0zm.5 0zm.5 0zm.5 0zm1 0zm2.5 0zm5 0zm1 0zm16.5 0zm4 0zm4.5 0zm2 0zm-55 .5zm1.5 0zm2 0zm1.5 0zm1 0zm.5 0zm1 0zm.5 0zm1 0zm.5 0zm2 0zm.5 0zm.5 0zm1 0zm.5 0zm.5 0zm1.5 0zm1 0zm1 0zm.5 0zm.5 0zm1 0zm2 0zm1.5 0zm.5 0zm.5 0zm1 0zm8.5 0zm3.5 0zm5.5 0zm-43 .5zm2 0zm.5 0zm1 0zm1 0zm1 0zm1 0zm.5 0zm1 0zm1 0zm.5 0zm4 0zm1 0zm1.5 0zm.5 0zm.5 0zm.5 0zm1 0zm.5 0zm1 0zm.5 0zm.5 0zm1.5 0zm1.5 0zm.5 0zm.5 0zm2.5 0zm.5 0zm2 0zm5.5 0zm2.5 0zm.5 0zm3 0zm1 0zm6 0zm-48.5 .5zm.5 0zm2 0zm.5 0zm1.5 0zm2 0zm2.5 0zm1.5 0zm1 0zm1 0zm.5 0zm.5 0zm2 0zm2.5 0zm.5 0zm1 0zm.5 0zm.5 0zm2.5 0zm3 0zm2 0zm2.5 0zm2 0zm8.5 0zm8 0zm6.5 0zm7 0zm-62 .5zm2.5 0zm.5 0zm1 0zm.5 0zm.5 0zm.5 0zm3 0zm.5 0zm1 0zm.5 0zm1 0zm.5 0zm1.5 0zm.5 0zm.5 0zm.5 0zm.5 0zm1 0zm.5 0zm1 0zm.5 0zm.5 0zm.5 0zm1 0zm.5 0zm1.5 0zm2.5 0zm2 0zm1.5 0zm1.5 0zm2.5 0zm1.5 0zm9 0zm3.5 0zm4.5 0zm2 0zm-53.5 .5zm2.5 0zm1 0zm1 0zm2.5 0zm1 0zm1 0zm1 0zm1 0zm1.5 0zm.5 0zm.5 0zm.5 0zm1 0zm.5 0zm2 0zm.5 0zm4 0zm1 0zm.5 0zm12.5 0zm1 0zm1 0zm14.5 0zm-52.5 .5zm1 0zm.5 0zm.5 0zm1.5 0zm.5 0zm.5 0zm.5 0zm1 0zm1 0zm.5 0zm1 0zm.5 0zm.5 0zm.5 0zm.5 0zm1 0zm.5 0zm.5 0zm1 0zm.5 0zm1.5 0zm2.5 0zm.5 0zm.5 0zm2.5 0zm1 0zm1 0zm18.5 0zm-42 .5zm2.5 0zm1 0zm2 0zm1.5 0zm1.5 0zm2.5 0zm3 0zm.5 0zm.5 0zm1.5 0zm.5 0zm.5 0zm1 0zm1 0zm9.5 0zm.5 0zm.5 0zm3.5 0zm.5 0zm-34 .5zm.5 0zm1.5 0zm1.5 0zm.5 0zm1.5 0zm1.5 0zm1.5 0zm3.5 0zm.5 0zm1 0zm.5 0zm.5 0zm.5 0zm1 0zm1.5 0zm3 0zm.5 0zm.5 0zm6 0zm.5 0zm17 0zm8 0zm1 0zm-52 .5zm.5 0zm1 0zm2.5 0zm2 0zm.5 0zm1 0zm1 0zm.5 0zm1 0zm.5 0zm1 0zm.5 0zm1 0zm2.5 0zm2.5 0zm2 0zm1.5 0zm12 0zm.5 0zm1 0zm5.5 0zm5 0zm2.5 0zm-49 .5zm1 0zm.5 0zm.5 0zm1.5 0zm.5 0zm.5 0zm1.5 0zm.5 0zm2 0zm.5 0zm.5 0zm.5 0zm1.5 0zm.5 0zm2.5 0zm2 0zm1 0zm.5 0zm1.5 0zm.5 0zm1.5 0zm1 0zm.5 0zm.5 0zm4 0zm-28.5 .5zm1 0zm.5 0zm.5 0zm.5 0zm1 0zm2 0zm.5 0zm.5 0zm.5 0zm1.5 0zm1 0zm.5 0zm1.5 0zm1 0zm4.5 0zm.5 0zm2.5 0zm1 0zm1 0zm.5 0zm-22.5 .5zm.5 0zm.5 0zm.5 0zm.5 0zm1 0zm.5 0zm.5 0zm.5 0zm.5 0zm.5 0zm.5 0zm.5 0zm.5 0zm.5 0zm.5 0zm.5 0zm.5 0zm.5 0zm.5 0zm.5 0zm.5 0zm.5 0zm.5 0zm.5 0zm.5 0zm.5 0zm.5 0zm.5 0zm.5 0zm.5 0zm.5 0zm.5 0zm.5 0zm.5 0zm.5 0zm.5 0zm.5 0zm.5 0zm.5 0zm1 0zm.5 0zm.5 0zm.5 0zm.5 0zm.5 0zm.5 0zm.5 0zm.5 0zm1 0zm.5 0zm.5 0zm1 0zm1.5 0zm.5 0zm1.5 0zm1 0zm1 0zm1 0zm.5 0zm1 0zm.5 0zm1.5 0zm1 0zm.5 0zm1 0zm1.5 0zm1.5 0zm1.5 0zm.5 0zm.5 0zm.5 0zm1 0zm1.5 0zm.5 0zm2 0zm1 0zm4 0zm.5 0zm2 0z"/><path class="g" d="M421.5 485.2V612M385.9 562.5H512.4"/><rect class="r" x="422.3" y="519.2" width="37.2" height="36.6"/><path class="f" d="M385 485.2H513.4"/><path class="f2" d="M385.9 484.6V612.2H512.5V484.6"/><path class="t" d="M385.9 612h-4.2M385.9 612v3.8M385.9 580.3h-4.2M417.5 612v3.8M385.9 548.6h-4.2M449.1 612v3.8M385.9 516.9h-4.2M480.8 612v3.8M385.9 485.2h-4.2M512.4 612v3.8"/><path class="m" d="M385.9 602.5h-2.4M395.4 612v2.5M385.9 596.9h-2.4M401 612v2.5M385.9 592.9h-2.4M404.9 612v2.5M385.9 589.8h-2.4M408 612v2.5M385.9 587.3h-2.4M410.5 612v2.5M385.9 585.2h-2.4M412.6 612v2.5M385.9 583.4h-2.4M414.5 612v2.5M385.9 581.8h-2.4M416.1 612v2.5M385.9 570.8h-2.4M427 612v2.5M385.9 565.2h-2.4M432.6 612v2.5M385.9 561.2h-2.4M436.6 612v2.5M385.9 558.1h-2.4M439.6 612v2.5M385.9 555.6h-2.4M442.1 612v2.5M385.9 553.5h-2.4M444.3 612v2.5M385.9 551.7h-2.4M446.1 612v2.5M385.9 550.1h-2.4M447.7 612v2.5M385.9 539.1h-2.4M458.7 612v2.5M385.9 533.5h-2.4M464.2 612v2.5M385.9 529.5h-2.4M468.2 612v2.5M385.9 526.4h-2.4M471.3 612v2.5M385.9 523.9h-2.4M473.8 612v2.5M385.9 521.8h-2.4M475.9 612v2.5M385.9 520h-2.4M477.7 612v2.5M385.9 518.4h-2.4M479.3 612v2.5M385.9 507.4h-2.4M490.3 612v2.5M385.9 501.8h-2.4M495.9 612v2.5M385.9 497.8h-2.4M499.8 612v2.5M385.9 494.7h-2.4M502.9 612v2.5M385.9 492.2h-2.4M505.4 612v2.5M385.9 490.1h-2.4M507.5 612v2.5M385.9 488.3h-2.4M509.3 612v2.5M385.9 486.7h-2.4M511 612v2.5"/><text class="k y" text-anchor="end" x="380.6" y="614.8">1</text><text class="k y" text-anchor="end" x="380.6" y="583.1">10</text><text class="k y" text-anchor="end" x="380.6" y="551.4">100</text><text class="k y" text-anchor="end" x="380.6" y="519.7">1000</text><text class="k y" text-anchor="end" x="380.6" y="488">10000</text><text class="k" text-anchor="middle" x="386.2" y="622.8">1</text><text class="k" text-anchor="middle" x="417.8" y="622.8">10</text><text class="k" text-anchor="middle" x="449.4" y="622.8">100</text><text class="k" text-anchor="middle" x="481.1" y="622.8">1000</text><text class="k" text-anchor="middle" x="512.7" y="622.8">10000</text><rect class="b" x="386.8" y="603.8" width="18.3" height="7.3"/><text class="q" x="387.6" y="499.7">0.1</text><text class="q" text-anchor="end" x="511.5" y="493.2">0.025</text><text class="q" x="387.8" y="610.4">95.9</text><text class="q" text-anchor="end" x="511.5" y="610.3">4.02</text></g>
<path class="a" d="M23.5 145.3V62.2"/>
<path d="M23.5 53.2l-5.8 11.2h11.6z"/>
<path class="a" d="M23.6 371V289.2"/>
<path d="M23.6 280.2l-5.8 11.2h11.6z"/>
<path class="a" d="M23.6 598.6V516.3"/>
<path d="M23.6 507.3l-5.8 11.2h11.6z"/>
<path class="a" d="M158.5 194H474.6"/>
<path d="M483.6 194l-11.6-5.8v11.6z"/>
<path class="a" d="M158.5 432.8H474.6"/>
<path d="M483.6 432.8l-11.6-5.8v11.6z"/>
<path class="a" d="M152.3 647.6H468.8"/>
<path d="M477.8 647.6l-11.6-5.8v11.6z"/>
<text class="p" x="-.3" y="22.5">A</text>
<text class="p" x="-.5" y="252.4">B</text>
<text class="p" x=".1" y="475.6">C</text>
<text class="h" transform="translate(98.9 19) scale(1 1.04)">WT</text>
<text class="h" transform="translate(95.8 250.6) scale(1 1.04)">WT</text>
<text class="h" transform="translate(87.3 472.6) scale(1 1.04)">WT</text>
<text class="h" transform="translate(249.9 18.8) scale(1 1.04)">SCL</text>
<text class="s" transform="translate(289.5 13.5) scale(1 1.05)">-/-</text>
<text class="h" transform="translate(246.6 252) scale(1 1.04)">SCL</text>
<text class="s" transform="translate(285.8 246.7) scale(1 1.05)">-/-</text>
<text class="h" transform="translate(246.6 474) scale(1 1.04)">SCL</text>
<text class="s" transform="translate(285.8 469.1) scale(1 1.05)">-/-</text>
<text class="h" transform="translate(390.1 18.4) scale(1 1.04)">runx1/AML1</text>
<text class="s" transform="translate(500.6 13.8) scale(1 1.05)">-/-</text>
<text class="h" transform="translate(384.4 252.1) scale(1 1.04)">runx1/AML1</text>
<text class="s" transform="translate(494.8 246.5) scale(1 1.05)">-/-</text>
<text class="h" transform="translate(392.7 472.5) scale(1 1.04)">runx1/AML1</text>
<text class="s" transform="translate(503.5 466.5) scale(1 1.05)">-/-</text>
<text class="h" transform="translate(27.8 180) scale(1 1.04)">c-kit</text>
<text class="h" transform="translate(82.1 203.4) scale(1 1.04)">CD41</text>
<text class="h" transform="translate(.8 412.6) scale(1 1.04)">MECA32</text>
<text class="h" transform="translate(80 437.3) scale(1 1.04)">CD41</text>
<text class="h" transform="translate(.6 631.3) scale(1 1.04)">CD45</text>
<text class="h" transform="translate(74.7 651.5) scale(1 1.04)">CD41</text>
</svg>
</body></html>
